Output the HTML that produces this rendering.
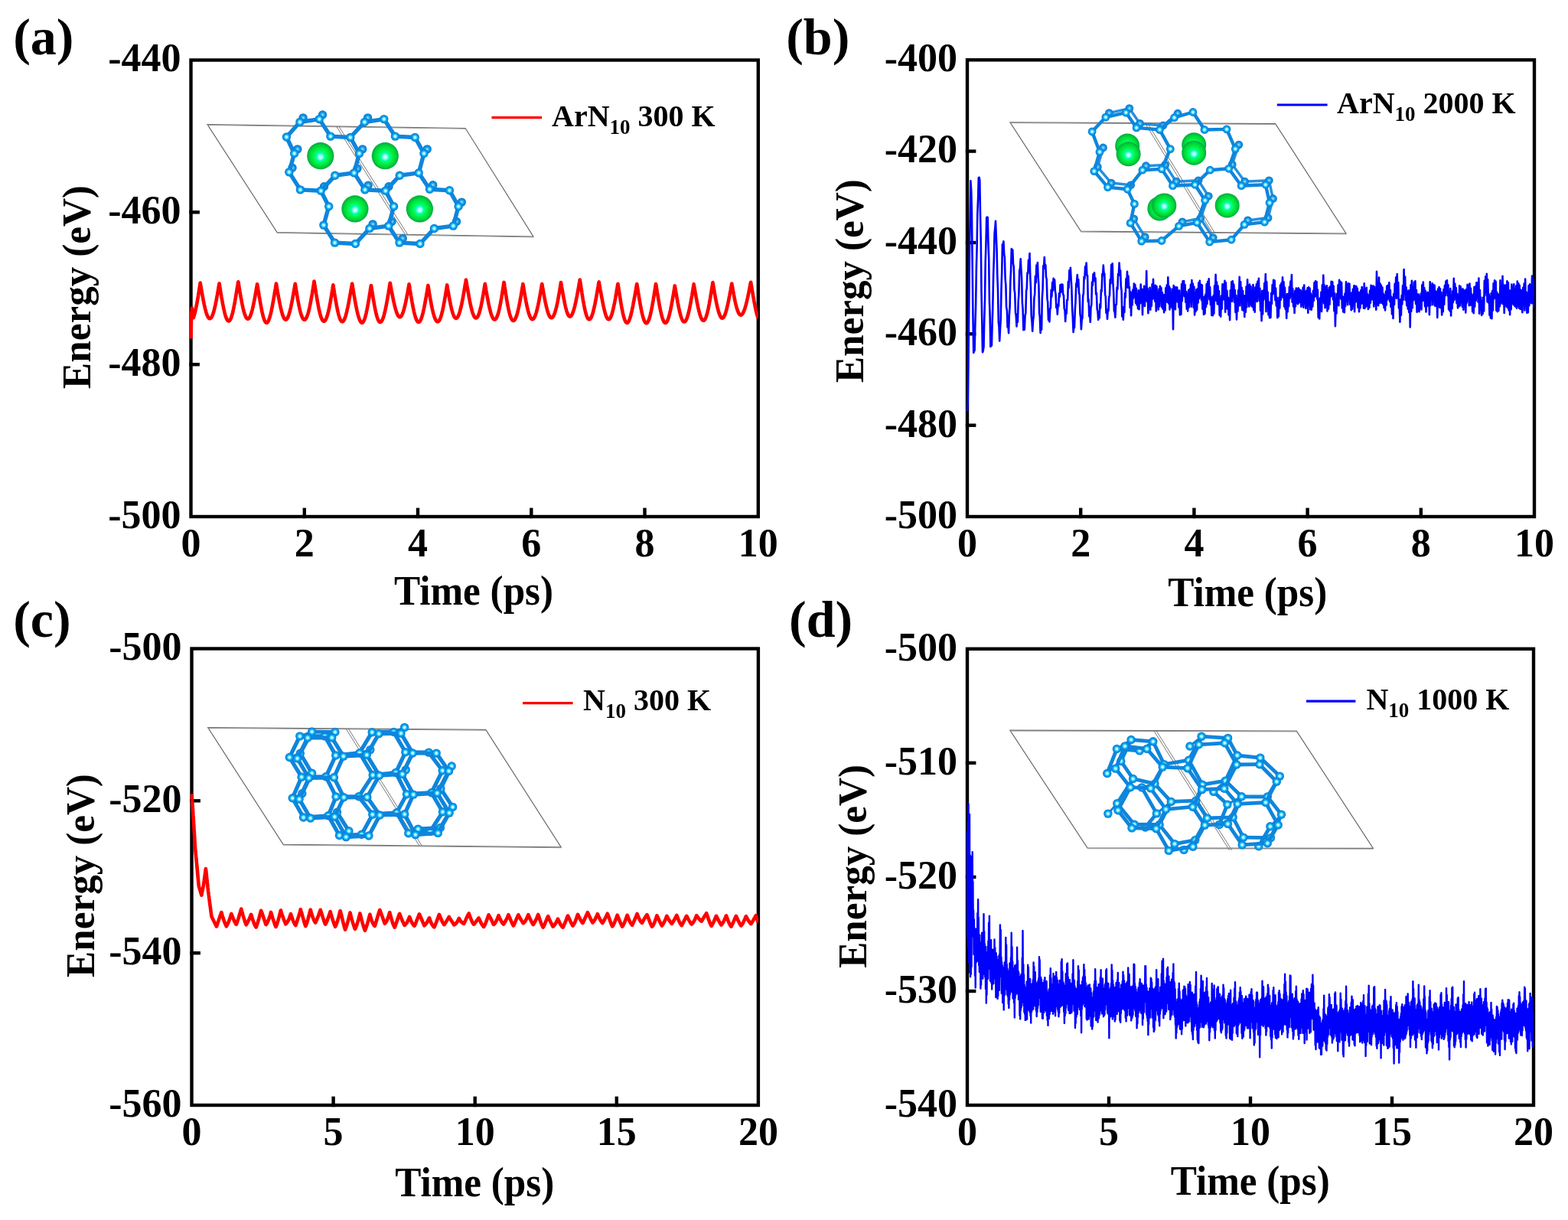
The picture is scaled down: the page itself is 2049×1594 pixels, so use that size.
<!DOCTYPE html>
<html><head><meta charset="utf-8"><title>Energy vs Time</title>
<style>html,body{margin:0;padding:0;background:#fff;}svg{display:block;}</style>
</head><body>
<svg xmlns="http://www.w3.org/2000/svg" width="2049" height="1594" viewBox="0 0 2049 1594"><defs>
<radialGradient id="gAt" cx="0.5" cy="0.5" r="0.5" fx="0.5" fy="0.5">
  <stop offset="0" stop-color="#e8ffff"/>
  <stop offset="0.28" stop-color="#a0f4ff"/>
  <stop offset="0.5" stop-color="#10b8f8"/>
  <stop offset="0.8" stop-color="#0a8ae0"/>
  <stop offset="1" stop-color="#0a78cc"/>
</radialGradient>
<radialGradient id="gAt2" cx="0.5" cy="0.5" r="0.5">
  <stop offset="0" stop-color="#b0f0ff"/>
  <stop offset="0.3" stop-color="#40b8f0"/>
  <stop offset="0.6" stop-color="#1090e0"/>
  <stop offset="1" stop-color="#0a78cc"/>
</radialGradient>
<radialGradient id="gAr" cx="0.5" cy="0.5" r="0.5" fx="0.5" fy="0.55">
  <stop offset="0" stop-color="#c8ffff"/>
  <stop offset="0.14" stop-color="#a0fff0"/>
  <stop offset="0.3" stop-color="#00ffb0"/>
  <stop offset="0.5" stop-color="#00f848"/>
  <stop offset="0.78" stop-color="#00d838"/>
  <stop offset="1" stop-color="#00a840"/>
</radialGradient>
</defs>
<polygon points="271,162.6 608.1,167.5 697,309.1 362.1,303.6" fill="none" stroke="#6a6a6a" stroke-width="1.2"/><line x1="271" y1="163.4" x2="608.1" y2="168.3" stroke="#999" stroke-width="1"/><line x1="362.1" y1="304.40000000000003" x2="697" y2="309.90000000000003" stroke="#999" stroke-width="1"/><line x1="439.5" y1="165.0" x2="529.5" y2="306.4" stroke="#777" stroke-width="1"/><line x1="442.7" y1="165.0" x2="532.7" y2="306.4" stroke="#777" stroke-width="1"/><circle cx="396.1" cy="153.9" r="5.7" fill="url(#gAt2)"/><circle cx="421.5" cy="150.0" r="5.7" fill="url(#gAt2)"/><circle cx="473.7" cy="194.9" r="5.7" fill="url(#gAt2)"/><circle cx="466.9" cy="220.3" r="5.7" fill="url(#gAt2)"/><circle cx="423.5" cy="243.7" r="5.7" fill="url(#gAt2)"/><circle cx="382.0" cy="219.3" r="5.7" fill="url(#gAt2)"/><circle cx="388.8" cy="194.9" r="5.7" fill="url(#gAt2)"/><circle cx="480.6" cy="153.9" r="5.7" fill="url(#gAt2)"/><circle cx="558.2" cy="194.9" r="5.7" fill="url(#gAt2)"/><circle cx="508.0" cy="243.7" r="5.7" fill="url(#gAt2)"/><circle cx="481.1" cy="242.3" r="5.7" fill="url(#gAt2)"/><circle cx="512.0" cy="289.5" r="5.7" fill="url(#gAt2)"/><circle cx="487.1" cy="292.9" r="5.7" fill="url(#gAt2)"/><circle cx="565.7" cy="241.7" r="5.7" fill="url(#gAt2)"/><circle cx="603.3" cy="264.1" r="5.7" fill="url(#gAt2)"/><circle cx="596.5" cy="289.5" r="5.7" fill="url(#gAt2)"/><circle cx="526.2" cy="311.5" r="5.7" fill="url(#gAt2)"/><g stroke="#0f85dc" stroke-width="5.4" stroke-linecap="round"><line x1="391.9" y1="159.5" x2="417.3" y2="155.6"/><line x1="391.9" y1="159.5" x2="374.4" y2="179.0"/><line x1="417.3" y1="155.6" x2="431.9" y2="178.1"/><line x1="431.9" y1="178.1" x2="457.8" y2="179.5"/><line x1="457.8" y1="179.5" x2="469.5" y2="200.5"/><line x1="457.8" y1="179.5" x2="476.4" y2="159.5"/><line x1="469.5" y1="200.5" x2="462.7" y2="225.9"/><line x1="462.7" y1="225.9" x2="437.8" y2="229.3"/><line x1="462.7" y1="225.9" x2="476.9" y2="247.9"/><line x1="437.8" y1="229.3" x2="419.3" y2="249.3"/><line x1="419.3" y1="249.3" x2="392.4" y2="247.9"/><line x1="419.3" y1="249.3" x2="429.7" y2="269.7"/><line x1="392.4" y1="247.9" x2="377.8" y2="224.9"/><line x1="377.8" y1="224.9" x2="384.6" y2="200.5"/><line x1="384.6" y1="200.5" x2="374.4" y2="179.0"/><line x1="476.4" y1="159.5" x2="501.8" y2="155.6"/><line x1="501.8" y1="155.6" x2="516.4" y2="178.1"/><line x1="516.4" y1="178.1" x2="542.3" y2="179.5"/><line x1="542.3" y1="179.5" x2="554.0" y2="200.5"/><line x1="554.0" y1="200.5" x2="547.2" y2="225.9"/><line x1="547.2" y1="225.9" x2="522.3" y2="229.3"/><line x1="547.2" y1="225.9" x2="561.5" y2="247.3"/><line x1="522.3" y1="229.3" x2="503.8" y2="249.3"/><line x1="503.8" y1="249.3" x2="476.9" y2="247.9"/><line x1="503.8" y1="249.3" x2="514.6" y2="269.7"/><line x1="514.6" y1="269.7" x2="507.8" y2="295.1"/><line x1="507.8" y1="295.1" x2="482.9" y2="298.5"/><line x1="507.8" y1="295.1" x2="522.0" y2="317.1"/><line x1="482.9" y1="298.5" x2="464.4" y2="318.5"/><line x1="464.4" y1="318.5" x2="437.5" y2="317.1"/><line x1="437.5" y1="317.1" x2="422.9" y2="294.1"/><line x1="422.9" y1="294.1" x2="429.7" y2="269.7"/><line x1="561.5" y1="247.3" x2="587.4" y2="248.7"/><line x1="587.4" y1="248.7" x2="599.1" y2="269.7"/><line x1="599.1" y1="269.7" x2="592.3" y2="295.1"/><line x1="592.3" y1="295.1" x2="567.4" y2="298.5"/><line x1="567.4" y1="298.5" x2="548.9" y2="318.5"/><line x1="548.9" y1="318.5" x2="522.0" y2="317.1"/></g><circle cx="391.9" cy="159.5" r="5.7" fill="url(#gAt)"/><circle cx="417.3" cy="155.6" r="5.7" fill="url(#gAt)"/><circle cx="431.9" cy="178.1" r="5.7" fill="url(#gAt)"/><circle cx="457.8" cy="179.5" r="5.7" fill="url(#gAt)"/><circle cx="469.5" cy="200.5" r="5.7" fill="url(#gAt)"/><circle cx="462.7" cy="225.9" r="5.7" fill="url(#gAt)"/><circle cx="437.8" cy="229.3" r="5.7" fill="url(#gAt)"/><circle cx="419.3" cy="249.3" r="5.7" fill="url(#gAt)"/><circle cx="392.4" cy="247.9" r="5.7" fill="url(#gAt)"/><circle cx="377.8" cy="224.9" r="5.7" fill="url(#gAt)"/><circle cx="384.6" cy="200.5" r="5.7" fill="url(#gAt)"/><circle cx="374.4" cy="179.0" r="5.7" fill="url(#gAt)"/><circle cx="476.4" cy="159.5" r="5.7" fill="url(#gAt)"/><circle cx="501.8" cy="155.6" r="5.7" fill="url(#gAt)"/><circle cx="516.4" cy="178.1" r="5.7" fill="url(#gAt)"/><circle cx="542.3" cy="179.5" r="5.7" fill="url(#gAt)"/><circle cx="554.0" cy="200.5" r="5.7" fill="url(#gAt)"/><circle cx="547.2" cy="225.9" r="5.7" fill="url(#gAt)"/><circle cx="522.3" cy="229.3" r="5.7" fill="url(#gAt)"/><circle cx="503.8" cy="249.3" r="5.7" fill="url(#gAt)"/><circle cx="476.9" cy="247.9" r="5.7" fill="url(#gAt)"/><circle cx="514.6" cy="269.7" r="5.7" fill="url(#gAt)"/><circle cx="507.8" cy="295.1" r="5.7" fill="url(#gAt)"/><circle cx="482.9" cy="298.5" r="5.7" fill="url(#gAt)"/><circle cx="464.4" cy="318.5" r="5.7" fill="url(#gAt)"/><circle cx="437.5" cy="317.1" r="5.7" fill="url(#gAt)"/><circle cx="422.9" cy="294.1" r="5.7" fill="url(#gAt)"/><circle cx="429.7" cy="269.7" r="5.7" fill="url(#gAt)"/><circle cx="561.5" cy="247.3" r="5.7" fill="url(#gAt)"/><circle cx="587.4" cy="248.7" r="5.7" fill="url(#gAt)"/><circle cx="599.1" cy="269.7" r="5.7" fill="url(#gAt)"/><circle cx="592.3" cy="295.1" r="5.7" fill="url(#gAt)"/><circle cx="567.4" cy="298.5" r="5.7" fill="url(#gAt)"/><circle cx="548.9" cy="318.5" r="5.7" fill="url(#gAt)"/><circle cx="522.0" cy="317.1" r="5.7" fill="url(#gAt)"/><circle cx="418.8" cy="203.7" r="17.6" fill="url(#gAr)"/><circle cx="503.3" cy="203.7" r="17.6" fill="url(#gAr)"/><circle cx="463.9" cy="272.9" r="17.6" fill="url(#gAr)"/><circle cx="548.4" cy="272.9" r="17.6" fill="url(#gAr)"/>
<polygon points="1319.9,159.8 1666.6,161.7 1759.1,305.1 1412.4,302.2" fill="none" stroke="#6a6a6a" stroke-width="1.2"/><line x1="1319.9" y1="160.60000000000002" x2="1666.6" y2="162.5" stroke="#999" stroke-width="1"/><line x1="1412.4" y1="303.0" x2="1759.1" y2="305.90000000000003" stroke="#999" stroke-width="1"/><line x1="1497" y1="162.0" x2="1584.6" y2="305.0" stroke="#777" stroke-width="1"/><line x1="1500.2" y1="162.0" x2="1587.8" y2="305.0" stroke="#777" stroke-width="1"/><g stroke="#0f85dc" stroke-width="3.5" stroke-linecap="round" opacity="0.9"><line x1="1449.4" y1="147.6" x2="1475.8" y2="141.6"/><line x1="1475.8" y1="141.6" x2="1489.6" y2="161.4"/><line x1="1489.6" y1="161.4" x2="1519.9" y2="164.0"/><line x1="1519.9" y1="164.0" x2="1539.0" y2="148.2"/><line x1="1522.6" y1="215.4" x2="1497.5" y2="216.7"/><line x1="1522.6" y1="215.4" x2="1537.0" y2="237.2"/><line x1="1497.5" y1="216.7" x2="1477.7" y2="241.8"/><line x1="1477.7" y1="241.8" x2="1452.1" y2="239.1"/><line x1="1452.1" y1="239.1" x2="1434.3" y2="218.1"/><line x1="1434.3" y1="218.1" x2="1441.5" y2="193.0"/><line x1="1618.8" y1="189.1" x2="1610.2" y2="214.8"/><line x1="1610.2" y1="214.8" x2="1626.6" y2="237.2"/><line x1="1566.0" y1="235.8" x2="1537.0" y2="237.2"/><line x1="1566.0" y1="235.8" x2="1579.2" y2="256.3"/><line x1="1579.2" y1="256.3" x2="1568.7" y2="285.3"/><line x1="1568.7" y1="285.3" x2="1545.0" y2="289.9"/><line x1="1568.7" y1="285.3" x2="1585.2" y2="310.6"/><line x1="1496.2" y1="309.6" x2="1481.7" y2="285.9"/><line x1="1626.6" y1="237.2" x2="1658.3" y2="235.8"/><line x1="1658.3" y1="235.8" x2="1663.5" y2="259.5"/><line x1="1663.5" y1="259.5" x2="1657.0" y2="284.6"/><line x1="1657.0" y1="284.6" x2="1630.6" y2="287.9"/></g><circle cx="1449.4" cy="147.6" r="5.4" fill="url(#gAt2)"/><circle cx="1475.8" cy="141.6" r="5.4" fill="url(#gAt2)"/><circle cx="1489.6" cy="161.4" r="5.4" fill="url(#gAt2)"/><circle cx="1519.9" cy="164.0" r="5.4" fill="url(#gAt2)"/><circle cx="1522.6" cy="215.4" r="5.4" fill="url(#gAt2)"/><circle cx="1497.5" cy="216.7" r="5.4" fill="url(#gAt2)"/><circle cx="1477.7" cy="241.8" r="5.4" fill="url(#gAt2)"/><circle cx="1452.1" cy="239.1" r="5.4" fill="url(#gAt2)"/><circle cx="1434.3" cy="218.1" r="5.4" fill="url(#gAt2)"/><circle cx="1441.5" cy="193.0" r="5.4" fill="url(#gAt2)"/><circle cx="1539.0" cy="148.2" r="5.4" fill="url(#gAt2)"/><circle cx="1618.8" cy="189.1" r="5.4" fill="url(#gAt2)"/><circle cx="1610.2" cy="214.8" r="5.4" fill="url(#gAt2)"/><circle cx="1566.0" cy="235.8" r="5.4" fill="url(#gAt2)"/><circle cx="1537.0" cy="237.2" r="5.4" fill="url(#gAt2)"/><circle cx="1579.2" cy="256.3" r="5.4" fill="url(#gAt2)"/><circle cx="1568.7" cy="285.3" r="5.4" fill="url(#gAt2)"/><circle cx="1545.0" cy="289.9" r="5.4" fill="url(#gAt2)"/><circle cx="1496.2" cy="309.6" r="5.4" fill="url(#gAt2)"/><circle cx="1481.7" cy="285.9" r="5.4" fill="url(#gAt2)"/><circle cx="1626.6" cy="237.2" r="5.4" fill="url(#gAt2)"/><circle cx="1658.3" cy="235.8" r="5.4" fill="url(#gAt2)"/><circle cx="1663.5" cy="259.5" r="5.4" fill="url(#gAt2)"/><circle cx="1657.0" cy="284.6" r="5.4" fill="url(#gAt2)"/><circle cx="1630.6" cy="287.9" r="5.4" fill="url(#gAt2)"/><circle cx="1585.2" cy="310.6" r="5.4" fill="url(#gAt2)"/><g stroke="#0f85dc" stroke-width="4.4" stroke-linecap="round"><line x1="1444.9" y1="153.1" x2="1471.3" y2="147.1"/><line x1="1444.9" y1="153.1" x2="1427.1" y2="172.0"/><line x1="1471.3" y1="147.1" x2="1485.1" y2="166.9"/><line x1="1485.1" y1="166.9" x2="1515.4" y2="169.5"/><line x1="1515.4" y1="169.5" x2="1529.3" y2="194.6"/><line x1="1515.4" y1="169.5" x2="1534.5" y2="153.7"/><line x1="1529.3" y1="194.6" x2="1518.1" y2="220.9"/><line x1="1518.1" y1="220.9" x2="1493.0" y2="222.2"/><line x1="1518.1" y1="220.9" x2="1532.5" y2="242.7"/><line x1="1493.0" y1="222.2" x2="1473.2" y2="247.3"/><line x1="1473.2" y1="247.3" x2="1447.6" y2="244.6"/><line x1="1473.2" y1="247.3" x2="1482.4" y2="266.4"/><line x1="1447.6" y1="244.6" x2="1429.8" y2="223.6"/><line x1="1429.8" y1="223.6" x2="1437.0" y2="198.5"/><line x1="1437.0" y1="198.5" x2="1427.1" y2="172.0"/><line x1="1534.5" y1="153.7" x2="1558.9" y2="146.5"/><line x1="1558.9" y1="146.5" x2="1574.0" y2="169.5"/><line x1="1574.0" y1="169.5" x2="1603.0" y2="168.9"/><line x1="1603.0" y1="168.9" x2="1614.3" y2="194.6"/><line x1="1614.3" y1="194.6" x2="1605.7" y2="220.3"/><line x1="1605.7" y1="220.3" x2="1581.3" y2="222.2"/><line x1="1605.7" y1="220.3" x2="1622.1" y2="242.7"/><line x1="1581.3" y1="222.2" x2="1561.5" y2="241.3"/><line x1="1561.5" y1="241.3" x2="1532.5" y2="242.7"/><line x1="1561.5" y1="241.3" x2="1574.7" y2="261.8"/><line x1="1574.7" y1="261.8" x2="1564.2" y2="290.8"/><line x1="1564.2" y1="290.8" x2="1540.5" y2="295.4"/><line x1="1564.2" y1="290.8" x2="1580.7" y2="316.1"/><line x1="1540.5" y1="295.4" x2="1518.0" y2="314.5"/><line x1="1518.0" y1="314.5" x2="1491.7" y2="315.1"/><line x1="1491.7" y1="315.1" x2="1477.2" y2="291.4"/><line x1="1477.2" y1="291.4" x2="1482.4" y2="266.4"/><line x1="1622.1" y1="242.7" x2="1653.8" y2="241.3"/><line x1="1653.8" y1="241.3" x2="1659.0" y2="265.0"/><line x1="1659.0" y1="265.0" x2="1652.5" y2="290.1"/><line x1="1652.5" y1="290.1" x2="1626.1" y2="293.4"/><line x1="1626.1" y1="293.4" x2="1609.0" y2="313.2"/><line x1="1609.0" y1="313.2" x2="1580.7" y2="316.1"/></g><circle cx="1444.9" cy="153.1" r="5.4" fill="url(#gAt)"/><circle cx="1471.3" cy="147.1" r="5.4" fill="url(#gAt)"/><circle cx="1485.1" cy="166.9" r="5.4" fill="url(#gAt)"/><circle cx="1515.4" cy="169.5" r="5.4" fill="url(#gAt)"/><circle cx="1529.3" cy="194.6" r="5.4" fill="url(#gAt)"/><circle cx="1518.1" cy="220.9" r="5.4" fill="url(#gAt)"/><circle cx="1493.0" cy="222.2" r="5.4" fill="url(#gAt)"/><circle cx="1473.2" cy="247.3" r="5.4" fill="url(#gAt)"/><circle cx="1447.6" cy="244.6" r="5.4" fill="url(#gAt)"/><circle cx="1429.8" cy="223.6" r="5.4" fill="url(#gAt)"/><circle cx="1437.0" cy="198.5" r="5.4" fill="url(#gAt)"/><circle cx="1427.1" cy="172.0" r="5.4" fill="url(#gAt)"/><circle cx="1534.5" cy="153.7" r="5.4" fill="url(#gAt)"/><circle cx="1558.9" cy="146.5" r="5.4" fill="url(#gAt)"/><circle cx="1574.0" cy="169.5" r="5.4" fill="url(#gAt)"/><circle cx="1603.0" cy="168.9" r="5.4" fill="url(#gAt)"/><circle cx="1614.3" cy="194.6" r="5.4" fill="url(#gAt)"/><circle cx="1605.7" cy="220.3" r="5.4" fill="url(#gAt)"/><circle cx="1581.3" cy="222.2" r="5.4" fill="url(#gAt)"/><circle cx="1561.5" cy="241.3" r="5.4" fill="url(#gAt)"/><circle cx="1532.5" cy="242.7" r="5.4" fill="url(#gAt)"/><circle cx="1574.7" cy="261.8" r="5.4" fill="url(#gAt)"/><circle cx="1564.2" cy="290.8" r="5.4" fill="url(#gAt)"/><circle cx="1540.5" cy="295.4" r="5.4" fill="url(#gAt)"/><circle cx="1518.0" cy="314.5" r="5.4" fill="url(#gAt)"/><circle cx="1491.7" cy="315.1" r="5.4" fill="url(#gAt)"/><circle cx="1477.2" cy="291.4" r="5.4" fill="url(#gAt)"/><circle cx="1482.4" cy="266.4" r="5.4" fill="url(#gAt)"/><circle cx="1622.1" cy="242.7" r="5.4" fill="url(#gAt)"/><circle cx="1653.8" cy="241.3" r="5.4" fill="url(#gAt)"/><circle cx="1659.0" cy="265.0" r="5.4" fill="url(#gAt)"/><circle cx="1652.5" cy="290.1" r="5.4" fill="url(#gAt)"/><circle cx="1626.1" cy="293.4" r="5.4" fill="url(#gAt)"/><circle cx="1609.0" cy="313.2" r="5.4" fill="url(#gAt)"/><circle cx="1580.7" cy="316.1" r="5.4" fill="url(#gAt)"/><circle cx="1473.2" cy="190.6" r="16.0" fill="url(#gAr)"/><circle cx="1474.6" cy="201.2" r="16.0" fill="url(#gAr)"/><circle cx="1560.2" cy="189.3" r="16.0" fill="url(#gAr)"/><circle cx="1560.2" cy="199.8" r="16.0" fill="url(#gAr)"/><circle cx="1515.4" cy="272.4" r="16.0" fill="url(#gAr)"/><circle cx="1521.3" cy="268.4" r="16.0" fill="url(#gAr)"/><circle cx="1603.7" cy="268.4" r="16.0" fill="url(#gAr)"/>
<polygon points="271.7,950.6 634.8,953.4 733.2,1106.9 370.1,1103.3" fill="none" stroke="#6a6a6a" stroke-width="1.2"/><line x1="271.7" y1="951.4" x2="634.8" y2="954.1999999999999" stroke="#999" stroke-width="1"/><line x1="370.1" y1="1104.1" x2="733.2" y2="1107.7" stroke="#999" stroke-width="1"/><line x1="452" y1="952" x2="548" y2="1105" stroke="#777" stroke-width="1"/><line x1="455.2" y1="952" x2="551.2" y2="1105" stroke="#777" stroke-width="1"/><g stroke="#0f85dc" stroke-width="5.2" stroke-linecap="round"><line x1="438.7" y1="987.0" x2="425.9" y2="1014.8"/><line x1="438.7" y1="987.0" x2="424.5" y2="961.9"/><line x1="438.7" y1="987.0" x2="469.9" y2="983.7"/><line x1="425.9" y1="1014.8" x2="394.1" y2="1015.2"/><line x1="425.9" y1="1014.8" x2="439.1" y2="1040.9"/><line x1="394.1" y1="1015.2" x2="378.3" y2="989.5"/><line x1="394.1" y1="1015.2" x2="382.2" y2="1042.8"/><line x1="378.3" y1="989.5" x2="391.8" y2="961.9"/><line x1="391.8" y1="961.9" x2="424.5" y2="961.9"/><line x1="487.2" y1="1012.7" x2="468.8" y2="1040.8"/><line x1="487.2" y1="1012.7" x2="469.9" y2="983.7"/><line x1="487.2" y1="1012.7" x2="517.2" y2="1009.5"/><line x1="468.8" y1="1040.8" x2="439.1" y2="1040.9"/><line x1="468.8" y1="1040.8" x2="486.8" y2="1064.2"/><line x1="439.1" y1="1040.9" x2="429.0" y2="1065.8"/><line x1="469.9" y1="983.7" x2="486.2" y2="956.7"/><line x1="529.8" y1="982.8" x2="517.2" y2="1009.5"/><line x1="529.8" y1="982.8" x2="514.4" y2="956.4"/><line x1="529.8" y1="982.8" x2="560.3" y2="983.1"/><line x1="517.2" y1="1009.5" x2="531.5" y2="1037.7"/><line x1="486.2" y1="956.7" x2="514.4" y2="956.4"/><line x1="578.2" y1="1006.8" x2="563.8" y2="1035.7"/><line x1="578.2" y1="1006.8" x2="560.3" y2="983.1"/><line x1="563.8" y1="1035.7" x2="531.5" y2="1037.7"/><line x1="563.8" y1="1035.7" x2="578.5" y2="1060.8"/><line x1="531.5" y1="1037.7" x2="518.3" y2="1061.8"/><line x1="429.0" y1="1065.8" x2="396.5" y2="1068.0"/><line x1="429.0" y1="1065.8" x2="443.5" y2="1091.5"/><line x1="396.5" y1="1068.0" x2="382.2" y2="1042.8"/><line x1="486.8" y1="1064.2" x2="472.6" y2="1090.3"/><line x1="486.8" y1="1064.2" x2="518.3" y2="1061.8"/><line x1="472.6" y1="1090.3" x2="443.5" y2="1091.5"/><line x1="518.3" y1="1061.8" x2="533.8" y2="1088.7"/><line x1="578.5" y1="1060.8" x2="562.1" y2="1086.5"/><line x1="562.1" y1="1086.5" x2="533.8" y2="1088.7"/><line x1="394.1" y1="1015.2" x2="407.6" y2="1010.3" stroke-width="3.1"/><line x1="378.3" y1="989.5" x2="392.3" y2="984.2" stroke-width="3.1"/><line x1="391.8" y1="961.9" x2="407.6" y2="956.0" stroke-width="3.1"/><line x1="424.5" y1="961.9" x2="437.9" y2="956.5" stroke-width="3.1"/><line x1="469.9" y1="983.7" x2="483.8" y2="979.6" stroke-width="3.1"/><line x1="517.2" y1="1009.5" x2="530.2" y2="1005.9" stroke-width="3.1"/><line x1="514.4" y1="956.4" x2="528.6" y2="950.4" stroke-width="3.1"/><line x1="578.2" y1="1006.8" x2="590.2" y2="1001.0" stroke-width="3.1"/><line x1="563.8" y1="1035.7" x2="575.8" y2="1030.4" stroke-width="3.1"/><line x1="429.0" y1="1065.8" x2="440.5" y2="1061.3" stroke-width="3.1"/><line x1="382.2" y1="1042.8" x2="394.8" y2="1036.7" stroke-width="3.1"/><line x1="443.5" y1="1091.5" x2="455.9" y2="1085.8" stroke-width="3.1"/><line x1="578.5" y1="1060.8" x2="591.6" y2="1054.4" stroke-width="3.1"/><line x1="562.1" y1="1086.5" x2="575.4" y2="1081.5" stroke-width="3.1"/><line x1="533.8" y1="1088.7" x2="546.3" y2="1083.1" stroke-width="3.1"/></g><circle cx="438.7" cy="987.0" r="5.7" fill="url(#gAt)"/><circle cx="425.9" cy="1014.8" r="5.7" fill="url(#gAt)"/><circle cx="394.1" cy="1015.2" r="5.7" fill="url(#gAt)"/><circle cx="378.3" cy="989.5" r="5.7" fill="url(#gAt)"/><circle cx="391.8" cy="961.9" r="5.7" fill="url(#gAt)"/><circle cx="424.5" cy="961.9" r="5.7" fill="url(#gAt)"/><circle cx="487.2" cy="1012.7" r="5.7" fill="url(#gAt)"/><circle cx="468.8" cy="1040.8" r="5.7" fill="url(#gAt)"/><circle cx="439.1" cy="1040.9" r="5.7" fill="url(#gAt)"/><circle cx="469.9" cy="983.7" r="5.7" fill="url(#gAt)"/><circle cx="529.8" cy="982.8" r="5.7" fill="url(#gAt)"/><circle cx="517.2" cy="1009.5" r="5.7" fill="url(#gAt)"/><circle cx="486.2" cy="956.7" r="5.7" fill="url(#gAt)"/><circle cx="514.4" cy="956.4" r="5.7" fill="url(#gAt)"/><circle cx="578.2" cy="1006.8" r="5.7" fill="url(#gAt)"/><circle cx="563.8" cy="1035.7" r="5.7" fill="url(#gAt)"/><circle cx="531.5" cy="1037.7" r="5.7" fill="url(#gAt)"/><circle cx="560.3" cy="983.1" r="5.7" fill="url(#gAt)"/><circle cx="429.0" cy="1065.8" r="5.7" fill="url(#gAt)"/><circle cx="396.5" cy="1068.0" r="5.7" fill="url(#gAt)"/><circle cx="382.2" cy="1042.8" r="5.7" fill="url(#gAt)"/><circle cx="486.8" cy="1064.2" r="5.7" fill="url(#gAt)"/><circle cx="472.6" cy="1090.3" r="5.7" fill="url(#gAt)"/><circle cx="443.5" cy="1091.5" r="5.7" fill="url(#gAt)"/><circle cx="518.3" cy="1061.8" r="5.7" fill="url(#gAt)"/><circle cx="578.5" cy="1060.8" r="5.7" fill="url(#gAt)"/><circle cx="562.1" cy="1086.5" r="5.7" fill="url(#gAt)"/><circle cx="533.8" cy="1088.7" r="5.7" fill="url(#gAt)"/><g stroke="#0f85dc" stroke-width="5.2" stroke-linecap="round"><line x1="407.6" y1="1010.3" x2="392.3" y2="984.2"/><line x1="407.6" y1="1010.3" x2="394.8" y2="1036.7"/><line x1="392.3" y1="984.2" x2="407.6" y2="956.0"/><line x1="407.6" y1="956.0" x2="437.9" y2="956.5"/><line x1="590.2" y1="1001.0" x2="575.8" y2="1030.4"/><line x1="575.8" y1="1030.4" x2="591.6" y2="1054.4"/><line x1="440.5" y1="1061.3" x2="455.9" y2="1085.8"/><line x1="591.6" y1="1054.4" x2="575.4" y2="1081.5"/><line x1="575.4" y1="1081.5" x2="546.3" y2="1083.1"/><line x1="407.6" y1="1010.3" x2="403.6" y2="1016.5" stroke-width="3.1"/><line x1="392.3" y1="984.2" x2="388.5" y2="990.9" stroke-width="3.1"/><line x1="407.6" y1="956.0" x2="402.1" y2="964.0" stroke-width="3.1"/><line x1="437.9" y1="956.5" x2="433.7" y2="963.8" stroke-width="3.1"/><line x1="483.8" y1="979.6" x2="479.3" y2="986.3" stroke-width="3.1"/><line x1="530.2" y1="1005.9" x2="525.8" y2="1011.4" stroke-width="3.1"/><line x1="528.6" y1="950.4" x2="524.0" y2="958.1" stroke-width="3.1"/><line x1="590.2" y1="1001.0" x2="586.5" y2="1007.4" stroke-width="3.1"/><line x1="575.8" y1="1030.4" x2="571.3" y2="1036.2" stroke-width="3.1"/><line x1="440.5" y1="1061.3" x2="437.3" y2="1067.1" stroke-width="3.1"/><line x1="394.8" y1="1036.7" x2="391.1" y2="1044.1" stroke-width="3.1"/><line x1="455.9" y1="1085.8" x2="452.2" y2="1093.6" stroke-width="3.1"/><line x1="591.6" y1="1054.4" x2="587.1" y2="1062.1" stroke-width="3.1"/><line x1="575.4" y1="1081.5" x2="572.3" y2="1088.4" stroke-width="3.1"/><line x1="546.3" y1="1083.1" x2="542.9" y2="1090.6" stroke-width="3.1"/></g><circle cx="407.6" cy="1010.3" r="5.7" fill="url(#gAt)"/><circle cx="392.3" cy="984.2" r="5.7" fill="url(#gAt)"/><circle cx="407.6" cy="956.0" r="5.7" fill="url(#gAt)"/><circle cx="437.9" cy="956.5" r="5.7" fill="url(#gAt)"/><circle cx="483.8" cy="979.6" r="5.7" fill="url(#gAt)"/><circle cx="530.2" cy="1005.9" r="5.7" fill="url(#gAt)"/><circle cx="528.6" cy="950.4" r="5.7" fill="url(#gAt)"/><circle cx="590.2" cy="1001.0" r="5.7" fill="url(#gAt)"/><circle cx="575.8" cy="1030.4" r="5.7" fill="url(#gAt)"/><circle cx="440.5" cy="1061.3" r="5.7" fill="url(#gAt)"/><circle cx="394.8" cy="1036.7" r="5.7" fill="url(#gAt)"/><circle cx="455.9" cy="1085.8" r="5.7" fill="url(#gAt)"/><circle cx="591.6" cy="1054.4" r="5.7" fill="url(#gAt)"/><circle cx="575.4" cy="1081.5" r="5.7" fill="url(#gAt)"/><circle cx="546.3" cy="1083.1" r="5.7" fill="url(#gAt)"/><g stroke="#0f85dc" stroke-width="5.2" stroke-linecap="round"><line x1="448.8" y1="988.1" x2="436.4" y2="1015.8"/><line x1="448.8" y1="988.1" x2="433.7" y2="963.8"/><line x1="448.8" y1="988.1" x2="479.3" y2="986.3"/><line x1="436.4" y1="1015.8" x2="403.6" y2="1016.5"/><line x1="436.4" y1="1015.8" x2="449.3" y2="1041.8"/><line x1="403.6" y1="1016.5" x2="388.5" y2="990.9"/><line x1="403.6" y1="1016.5" x2="391.1" y2="1044.1"/><line x1="388.5" y1="990.9" x2="402.1" y2="964.0"/><line x1="402.1" y1="964.0" x2="433.7" y2="963.8"/><line x1="495.6" y1="1013.2" x2="479.8" y2="1041.5"/><line x1="495.6" y1="1013.2" x2="479.3" y2="986.3"/><line x1="495.6" y1="1013.2" x2="525.8" y2="1011.4"/><line x1="479.8" y1="1041.5" x2="449.3" y2="1041.8"/><line x1="479.8" y1="1041.5" x2="496.3" y2="1065.0"/><line x1="449.3" y1="1041.8" x2="437.3" y2="1067.1"/><line x1="479.3" y1="986.3" x2="495.1" y2="958.6"/><line x1="539.3" y1="984.0" x2="525.8" y2="1011.4"/><line x1="539.3" y1="984.0" x2="524.0" y2="958.1"/><line x1="539.3" y1="984.0" x2="570.2" y2="984.1"/><line x1="525.8" y1="1011.4" x2="540.2" y2="1038.1"/><line x1="495.1" y1="958.6" x2="524.0" y2="958.1"/><line x1="586.5" y1="1007.4" x2="571.3" y2="1036.2"/><line x1="586.5" y1="1007.4" x2="570.2" y2="984.1"/><line x1="571.3" y1="1036.2" x2="540.2" y2="1038.1"/><line x1="571.3" y1="1036.2" x2="587.1" y2="1062.1"/><line x1="540.2" y1="1038.1" x2="528.7" y2="1063.8"/><line x1="437.3" y1="1067.1" x2="405.7" y2="1069.0"/><line x1="437.3" y1="1067.1" x2="452.2" y2="1093.6"/><line x1="405.7" y1="1069.0" x2="391.1" y2="1044.1"/><line x1="496.3" y1="1065.0" x2="481.9" y2="1092.0"/><line x1="496.3" y1="1065.0" x2="528.7" y2="1063.8"/><line x1="481.9" y1="1092.0" x2="452.2" y2="1093.6"/><line x1="528.7" y1="1063.8" x2="542.9" y2="1090.6"/><line x1="587.1" y1="1062.1" x2="572.3" y2="1088.4"/><line x1="572.3" y1="1088.4" x2="542.9" y2="1090.6"/></g><circle cx="448.8" cy="988.1" r="5.7" fill="url(#gAt)"/><circle cx="436.4" cy="1015.8" r="5.7" fill="url(#gAt)"/><circle cx="403.6" cy="1016.5" r="5.7" fill="url(#gAt)"/><circle cx="388.5" cy="990.9" r="5.7" fill="url(#gAt)"/><circle cx="402.1" cy="964.0" r="5.7" fill="url(#gAt)"/><circle cx="433.7" cy="963.8" r="5.7" fill="url(#gAt)"/><circle cx="495.6" cy="1013.2" r="5.7" fill="url(#gAt)"/><circle cx="479.8" cy="1041.5" r="5.7" fill="url(#gAt)"/><circle cx="449.3" cy="1041.8" r="5.7" fill="url(#gAt)"/><circle cx="479.3" cy="986.3" r="5.7" fill="url(#gAt)"/><circle cx="539.3" cy="984.0" r="5.7" fill="url(#gAt)"/><circle cx="525.8" cy="1011.4" r="5.7" fill="url(#gAt)"/><circle cx="495.1" cy="958.6" r="5.7" fill="url(#gAt)"/><circle cx="524.0" cy="958.1" r="5.7" fill="url(#gAt)"/><circle cx="586.5" cy="1007.4" r="5.7" fill="url(#gAt)"/><circle cx="571.3" cy="1036.2" r="5.7" fill="url(#gAt)"/><circle cx="540.2" cy="1038.1" r="5.7" fill="url(#gAt)"/><circle cx="570.2" cy="984.1" r="5.7" fill="url(#gAt)"/><circle cx="437.3" cy="1067.1" r="5.7" fill="url(#gAt)"/><circle cx="405.7" cy="1069.0" r="5.7" fill="url(#gAt)"/><circle cx="391.1" cy="1044.1" r="5.7" fill="url(#gAt)"/><circle cx="496.3" cy="1065.0" r="5.7" fill="url(#gAt)"/><circle cx="481.9" cy="1092.0" r="5.7" fill="url(#gAt)"/><circle cx="452.2" cy="1093.6" r="5.7" fill="url(#gAt)"/><circle cx="528.7" cy="1063.8" r="5.7" fill="url(#gAt)"/><circle cx="587.1" cy="1062.1" r="5.7" fill="url(#gAt)"/><circle cx="572.3" cy="1088.4" r="5.7" fill="url(#gAt)"/><circle cx="542.9" cy="1090.6" r="5.7" fill="url(#gAt)"/>
<polygon points="1319.8,954.2 1694.3,955.1 1794.4,1108.4 1421,1107.9" fill="none" stroke="#6a6a6a" stroke-width="1.2"/><line x1="1319.8" y1="955.0" x2="1694.3" y2="955.9" stroke="#999" stroke-width="1"/><line x1="1421" y1="1108.7" x2="1794.4" y2="1109.2" stroke="#999" stroke-width="1"/><line x1="1507.7" y1="954.6" x2="1606.5" y2="1110.8" stroke="#777" stroke-width="1"/><line x1="1510.9" y1="954.6" x2="1609.7" y2="1110.8" stroke="#777" stroke-width="1"/><g stroke="#0f85dc" stroke-width="4.8" stroke-linecap="round"><line x1="1492.0" y1="1028.9" x2="1511.4" y2="1062.9"/><line x1="1446.8" y1="1010.5" x2="1459.4" y2="978.5"/><line x1="1459.4" y1="978.5" x2="1489.1" y2="980.9"/><line x1="1511.4" y1="1062.9" x2="1496.7" y2="1081.0"/><line x1="1585.8" y1="1034.4" x2="1603.9" y2="1051.1"/><line x1="1603.9" y1="1051.1" x2="1593.3" y2="1077.4"/><line x1="1659.9" y1="1079.8" x2="1644.8" y2="1105.8"/><line x1="1492.0" y1="1028.9" x2="1509.0" y2="1024.1" stroke-width="2.9"/><line x1="1446.8" y1="1010.5" x2="1464.8" y2="994.5" stroke-width="2.9"/><line x1="1459.4" y1="978.5" x2="1478.1" y2="966.5" stroke-width="2.9"/><line x1="1489.1" y1="980.9" x2="1506.8" y2="968.8" stroke-width="2.9"/><line x1="1511.4" y1="1062.9" x2="1530.3" y2="1047.4" stroke-width="2.9"/><line x1="1585.8" y1="1034.4" x2="1601.4" y2="1020.1" stroke-width="2.9"/><line x1="1554.9" y1="975.0" x2="1570.1" y2="962.2" stroke-width="2.9"/><line x1="1603.9" y1="1051.1" x2="1622.5" y2="1040.8" stroke-width="2.9"/><line x1="1496.7" y1="1081.0" x2="1515.1" y2="1077.5" stroke-width="2.9"/><line x1="1447.9" y1="1063.1" x2="1459.8" y2="1049.7" stroke-width="2.9"/><line x1="1547.1" y1="1110.4" x2="1561.8" y2="1097.6" stroke-width="2.9"/><line x1="1593.3" y1="1077.4" x2="1611.1" y2="1067.8" stroke-width="2.9"/><line x1="1659.9" y1="1079.8" x2="1674.5" y2="1064.3" stroke-width="2.9"/><line x1="1644.8" y1="1105.8" x2="1660.5" y2="1094.6" stroke-width="2.9"/></g><circle cx="1492.0" cy="1028.9" r="5.7" fill="url(#gAt)"/><circle cx="1446.8" cy="1010.5" r="5.7" fill="url(#gAt)"/><circle cx="1459.4" cy="978.5" r="5.7" fill="url(#gAt)"/><circle cx="1489.1" cy="980.9" r="5.7" fill="url(#gAt)"/><circle cx="1511.4" cy="1062.9" r="5.7" fill="url(#gAt)"/><circle cx="1585.8" cy="1034.4" r="5.7" fill="url(#gAt)"/><circle cx="1554.9" cy="975.0" r="5.7" fill="url(#gAt)"/><circle cx="1603.9" cy="1051.1" r="5.7" fill="url(#gAt)"/><circle cx="1496.7" cy="1081.0" r="5.7" fill="url(#gAt)"/><circle cx="1447.9" cy="1063.1" r="5.7" fill="url(#gAt)"/><circle cx="1547.1" cy="1110.4" r="5.7" fill="url(#gAt)"/><circle cx="1593.3" cy="1077.4" r="5.7" fill="url(#gAt)"/><circle cx="1659.9" cy="1079.8" r="5.7" fill="url(#gAt)"/><circle cx="1644.8" cy="1105.8" r="5.7" fill="url(#gAt)"/><g stroke="#0f85dc" stroke-width="4.8" stroke-linecap="round"><line x1="1521.1" y1="998.6" x2="1509.0" y2="1024.1"/><line x1="1521.1" y1="998.6" x2="1506.8" y2="968.8"/><line x1="1521.1" y1="998.6" x2="1553.4" y2="993.2"/><line x1="1509.0" y1="1024.1" x2="1480.6" y2="1017.5"/><line x1="1509.0" y1="1024.1" x2="1530.3" y2="1047.4"/><line x1="1480.6" y1="1017.5" x2="1464.8" y2="994.5"/><line x1="1480.6" y1="1017.5" x2="1459.8" y2="1049.7"/><line x1="1464.8" y1="994.5" x2="1478.1" y2="966.5"/><line x1="1478.1" y1="966.5" x2="1506.8" y2="968.8"/><line x1="1571.3" y1="1025.2" x2="1562.8" y2="1046.1"/><line x1="1571.3" y1="1025.2" x2="1553.4" y2="993.2"/><line x1="1571.3" y1="1025.2" x2="1601.4" y2="1020.1"/><line x1="1562.8" y1="1046.1" x2="1530.3" y2="1047.4"/><line x1="1562.8" y1="1046.1" x2="1577.5" y2="1068.9"/><line x1="1530.3" y1="1047.4" x2="1515.1" y2="1077.5"/><line x1="1553.4" y1="993.2" x2="1570.1" y2="962.2"/><line x1="1616.8" y1="987.0" x2="1601.4" y2="1020.1"/><line x1="1616.8" y1="987.0" x2="1604.6" y2="964.4"/><line x1="1616.8" y1="987.0" x2="1646.8" y2="990.1"/><line x1="1601.4" y1="1020.1" x2="1622.5" y2="1040.8"/><line x1="1570.1" y1="962.2" x2="1604.6" y2="964.4"/><line x1="1672.3" y1="1014.1" x2="1656.3" y2="1041.0"/><line x1="1672.3" y1="1014.1" x2="1646.8" y2="990.1"/><line x1="1656.3" y1="1041.0" x2="1622.5" y2="1040.8"/><line x1="1656.3" y1="1041.0" x2="1674.5" y2="1064.3"/><line x1="1622.5" y1="1040.8" x2="1611.1" y2="1067.8"/><line x1="1515.1" y1="1077.5" x2="1482.3" y2="1077.2"/><line x1="1515.1" y1="1077.5" x2="1535.0" y2="1102.6"/><line x1="1482.3" y1="1077.2" x2="1459.8" y2="1049.7"/><line x1="1577.5" y1="1068.9" x2="1561.8" y2="1097.6"/><line x1="1577.5" y1="1068.9" x2="1611.1" y2="1067.8"/><line x1="1561.8" y1="1097.6" x2="1535.0" y2="1102.6"/><line x1="1611.1" y1="1067.8" x2="1624.8" y2="1094.1"/><line x1="1674.5" y1="1064.3" x2="1660.5" y2="1094.6"/><line x1="1660.5" y1="1094.6" x2="1624.8" y2="1094.1"/><line x1="1521.1" y1="998.6" x2="1519.2" y2="1002.1" stroke-width="2.9"/><line x1="1509.0" y1="1024.1" x2="1503.5" y2="1029.9" stroke-width="2.9"/><line x1="1480.6" y1="1017.5" x2="1477.1" y2="1028.7" stroke-width="2.9"/><line x1="1464.8" y1="994.5" x2="1457.7" y2="1004.1" stroke-width="2.9"/><line x1="1478.1" y1="966.5" x2="1470.0" y2="974.9" stroke-width="2.9"/><line x1="1506.8" y1="968.8" x2="1498.7" y2="978.4" stroke-width="2.9"/><line x1="1571.3" y1="1025.2" x2="1570.7" y2="1031.6" stroke-width="2.9"/><line x1="1562.8" y1="1046.1" x2="1558.5" y2="1054.2" stroke-width="2.9"/><line x1="1530.3" y1="1047.4" x2="1523.5" y2="1057.4" stroke-width="2.9"/><line x1="1553.4" y1="993.2" x2="1551.8" y2="1003.7" stroke-width="2.9"/><line x1="1616.8" y1="987.0" x2="1616.0" y2="999.0" stroke-width="2.9"/><line x1="1601.4" y1="1020.1" x2="1599.8" y2="1030.3" stroke-width="2.9"/><line x1="1570.1" y1="962.2" x2="1566.6" y2="972.8" stroke-width="2.9"/><line x1="1604.6" y1="964.4" x2="1600.4" y2="970.8" stroke-width="2.9"/><line x1="1672.3" y1="1014.1" x2="1668.3" y2="1021.3" stroke-width="2.9"/><line x1="1656.3" y1="1041.0" x2="1653.9" y2="1048.5" stroke-width="2.9"/><line x1="1622.5" y1="1040.8" x2="1617.1" y2="1050.4" stroke-width="2.9"/><line x1="1646.8" y1="990.1" x2="1645.9" y2="998.7" stroke-width="2.9"/><line x1="1515.1" y1="1077.5" x2="1510.8" y2="1082.6" stroke-width="2.9"/><line x1="1482.3" y1="1077.2" x2="1479.0" y2="1081.9" stroke-width="2.9"/><line x1="1459.8" y1="1049.7" x2="1460.9" y2="1058.7" stroke-width="2.9"/><line x1="1577.5" y1="1068.9" x2="1574.4" y2="1078.1" stroke-width="2.9"/><line x1="1561.8" y1="1097.6" x2="1558.9" y2="1106.2" stroke-width="2.9"/><line x1="1535.0" y1="1102.6" x2="1527.3" y2="1111.4" stroke-width="2.9"/><line x1="1611.1" y1="1067.8" x2="1604.4" y2="1076.4" stroke-width="2.9"/><line x1="1674.5" y1="1064.3" x2="1670.2" y2="1077.9" stroke-width="2.9"/><line x1="1660.5" y1="1094.6" x2="1656.3" y2="1101.7" stroke-width="2.9"/><line x1="1624.8" y1="1094.1" x2="1623.2" y2="1103.9" stroke-width="2.9"/></g><circle cx="1521.1" cy="998.6" r="5.7" fill="url(#gAt)"/><circle cx="1509.0" cy="1024.1" r="5.7" fill="url(#gAt)"/><circle cx="1480.6" cy="1017.5" r="5.7" fill="url(#gAt)"/><circle cx="1464.8" cy="994.5" r="5.7" fill="url(#gAt)"/><circle cx="1478.1" cy="966.5" r="5.7" fill="url(#gAt)"/><circle cx="1506.8" cy="968.8" r="5.7" fill="url(#gAt)"/><circle cx="1571.3" cy="1025.2" r="5.7" fill="url(#gAt)"/><circle cx="1562.8" cy="1046.1" r="5.7" fill="url(#gAt)"/><circle cx="1530.3" cy="1047.4" r="5.7" fill="url(#gAt)"/><circle cx="1553.4" cy="993.2" r="5.7" fill="url(#gAt)"/><circle cx="1616.8" cy="987.0" r="5.7" fill="url(#gAt)"/><circle cx="1601.4" cy="1020.1" r="5.7" fill="url(#gAt)"/><circle cx="1570.1" cy="962.2" r="5.7" fill="url(#gAt)"/><circle cx="1604.6" cy="964.4" r="5.7" fill="url(#gAt)"/><circle cx="1672.3" cy="1014.1" r="5.7" fill="url(#gAt)"/><circle cx="1656.3" cy="1041.0" r="5.7" fill="url(#gAt)"/><circle cx="1622.5" cy="1040.8" r="5.7" fill="url(#gAt)"/><circle cx="1646.8" cy="990.1" r="5.7" fill="url(#gAt)"/><circle cx="1515.1" cy="1077.5" r="5.7" fill="url(#gAt)"/><circle cx="1482.3" cy="1077.2" r="5.7" fill="url(#gAt)"/><circle cx="1459.8" cy="1049.7" r="5.7" fill="url(#gAt)"/><circle cx="1577.5" cy="1068.9" r="5.7" fill="url(#gAt)"/><circle cx="1561.8" cy="1097.6" r="5.7" fill="url(#gAt)"/><circle cx="1535.0" cy="1102.6" r="5.7" fill="url(#gAt)"/><circle cx="1611.1" cy="1067.8" r="5.7" fill="url(#gAt)"/><circle cx="1674.5" cy="1064.3" r="5.7" fill="url(#gAt)"/><circle cx="1660.5" cy="1094.6" r="5.7" fill="url(#gAt)"/><circle cx="1624.8" cy="1094.1" r="5.7" fill="url(#gAt)"/><g stroke="#0f85dc" stroke-width="4.8" stroke-linecap="round"><line x1="1519.2" y1="1002.1" x2="1503.5" y2="1029.9"/><line x1="1519.2" y1="1002.1" x2="1498.7" y2="978.4"/><line x1="1519.2" y1="1002.1" x2="1551.8" y2="1003.7"/><line x1="1503.5" y1="1029.9" x2="1477.1" y2="1028.7"/><line x1="1503.5" y1="1029.9" x2="1523.5" y2="1057.4"/><line x1="1477.1" y1="1028.7" x2="1457.7" y2="1004.1"/><line x1="1477.1" y1="1028.7" x2="1460.9" y2="1058.7"/><line x1="1457.7" y1="1004.1" x2="1470.0" y2="974.9"/><line x1="1470.0" y1="974.9" x2="1498.7" y2="978.4"/><line x1="1570.7" y1="1031.6" x2="1558.5" y2="1054.2"/><line x1="1570.7" y1="1031.6" x2="1551.8" y2="1003.7"/><line x1="1570.7" y1="1031.6" x2="1599.8" y2="1030.3"/><line x1="1558.5" y1="1054.2" x2="1523.5" y2="1057.4"/><line x1="1558.5" y1="1054.2" x2="1574.4" y2="1078.1"/><line x1="1523.5" y1="1057.4" x2="1510.8" y2="1082.6"/><line x1="1551.8" y1="1003.7" x2="1566.6" y2="972.8"/><line x1="1616.0" y1="999.0" x2="1599.8" y2="1030.3"/><line x1="1616.0" y1="999.0" x2="1600.4" y2="970.8"/><line x1="1616.0" y1="999.0" x2="1645.9" y2="998.7"/><line x1="1599.8" y1="1030.3" x2="1617.1" y2="1050.4"/><line x1="1566.6" y1="972.8" x2="1600.4" y2="970.8"/><line x1="1668.3" y1="1021.3" x2="1653.9" y2="1048.5"/><line x1="1668.3" y1="1021.3" x2="1645.9" y2="998.7"/><line x1="1653.9" y1="1048.5" x2="1617.1" y2="1050.4"/><line x1="1653.9" y1="1048.5" x2="1670.2" y2="1077.9"/><line x1="1617.1" y1="1050.4" x2="1604.4" y2="1076.4"/><line x1="1510.8" y1="1082.6" x2="1479.0" y2="1081.9"/><line x1="1510.8" y1="1082.6" x2="1527.3" y2="1111.4"/><line x1="1479.0" y1="1081.9" x2="1460.9" y2="1058.7"/><line x1="1574.4" y1="1078.1" x2="1558.9" y2="1106.2"/><line x1="1574.4" y1="1078.1" x2="1604.4" y2="1076.4"/><line x1="1558.9" y1="1106.2" x2="1527.3" y2="1111.4"/><line x1="1604.4" y1="1076.4" x2="1623.2" y2="1103.9"/><line x1="1670.2" y1="1077.9" x2="1656.3" y2="1101.7"/><line x1="1656.3" y1="1101.7" x2="1623.2" y2="1103.9"/></g><circle cx="1519.2" cy="1002.1" r="5.7" fill="url(#gAt)"/><circle cx="1503.5" cy="1029.9" r="5.7" fill="url(#gAt)"/><circle cx="1477.1" cy="1028.7" r="5.7" fill="url(#gAt)"/><circle cx="1457.7" cy="1004.1" r="5.7" fill="url(#gAt)"/><circle cx="1470.0" cy="974.9" r="5.7" fill="url(#gAt)"/><circle cx="1498.7" cy="978.4" r="5.7" fill="url(#gAt)"/><circle cx="1570.7" cy="1031.6" r="5.7" fill="url(#gAt)"/><circle cx="1558.5" cy="1054.2" r="5.7" fill="url(#gAt)"/><circle cx="1523.5" cy="1057.4" r="5.7" fill="url(#gAt)"/><circle cx="1551.8" cy="1003.7" r="5.7" fill="url(#gAt)"/><circle cx="1616.0" cy="999.0" r="5.7" fill="url(#gAt)"/><circle cx="1599.8" cy="1030.3" r="5.7" fill="url(#gAt)"/><circle cx="1566.6" cy="972.8" r="5.7" fill="url(#gAt)"/><circle cx="1600.4" cy="970.8" r="5.7" fill="url(#gAt)"/><circle cx="1668.3" cy="1021.3" r="5.7" fill="url(#gAt)"/><circle cx="1653.9" cy="1048.5" r="5.7" fill="url(#gAt)"/><circle cx="1617.1" cy="1050.4" r="5.7" fill="url(#gAt)"/><circle cx="1645.9" cy="998.7" r="5.7" fill="url(#gAt)"/><circle cx="1510.8" cy="1082.6" r="5.7" fill="url(#gAt)"/><circle cx="1479.0" cy="1081.9" r="5.7" fill="url(#gAt)"/><circle cx="1460.9" cy="1058.7" r="5.7" fill="url(#gAt)"/><circle cx="1574.4" cy="1078.1" r="5.7" fill="url(#gAt)"/><circle cx="1558.9" cy="1106.2" r="5.7" fill="url(#gAt)"/><circle cx="1527.3" cy="1111.4" r="5.7" fill="url(#gAt)"/><circle cx="1604.4" cy="1076.4" r="5.7" fill="url(#gAt)"/><circle cx="1670.2" cy="1077.9" r="5.7" fill="url(#gAt)"/><circle cx="1656.3" cy="1101.7" r="5.7" fill="url(#gAt)"/><circle cx="1623.2" cy="1103.9" r="5.7" fill="url(#gAt)"/>
<g stroke="#000" stroke-width="4.4" stroke-linecap="square"><line x1="397.8" y1="675.0" x2="397.8" y2="665.8"/><line x1="546.0" y1="675.0" x2="546.0" y2="665.8"/><line x1="694.3" y1="675.0" x2="694.3" y2="665.8"/><line x1="842.5" y1="675.0" x2="842.5" y2="665.8"/><line x1="249.5" y1="277.3" x2="258.7" y2="277.3"/><line x1="249.5" y1="476.2" x2="258.7" y2="476.2"/><rect x="249.5" y="78.5" width="741.3" height="596.5" fill="none"/></g>
<g style="font-family:'Liberation Serif','Times New Roman',serif;font-weight:bold;font-size:52px" fill="#000"><text x="236.5" y="93.3" text-anchor="end">-440</text><text x="236.5" y="292.1" text-anchor="end">-460</text><text x="236.5" y="491.0" text-anchor="end">-480</text><text x="236.5" y="689.8" text-anchor="end">-500</text><text x="249.5" y="727.3" text-anchor="middle">0</text><text x="397.8" y="727.3" text-anchor="middle">2</text><text x="546.0" y="727.3" text-anchor="middle">4</text><text x="694.3" y="727.3" text-anchor="middle">6</text><text x="842.5" y="727.3" text-anchor="middle">8</text><text x="990.8" y="727.3" text-anchor="middle">10</text></g>
<g stroke="#000" stroke-width="4.4" stroke-linecap="square"><line x1="1412.2" y1="675.0" x2="1412.2" y2="665.8"/><line x1="1560.4" y1="675.0" x2="1560.4" y2="665.8"/><line x1="1708.6" y1="675.0" x2="1708.6" y2="665.8"/><line x1="1856.8" y1="675.0" x2="1856.8" y2="665.8"/><line x1="1264.0" y1="197.6" x2="1273.2" y2="197.6"/><line x1="1264.0" y1="317.0" x2="1273.2" y2="317.0"/><line x1="1264.0" y1="436.3" x2="1273.2" y2="436.3"/><line x1="1264.0" y1="555.7" x2="1273.2" y2="555.7"/><rect x="1264.0" y="78.3" width="741.0" height="596.7" fill="none"/></g>
<g style="font-family:'Liberation Serif','Times New Roman',serif;font-weight:bold;font-size:52px" fill="#000"><text x="1251.0" y="93.1" text-anchor="end">-400</text><text x="1251.0" y="212.4" text-anchor="end">-420</text><text x="1251.0" y="331.8" text-anchor="end">-440</text><text x="1251.0" y="451.1" text-anchor="end">-460</text><text x="1251.0" y="570.5" text-anchor="end">-480</text><text x="1251.0" y="689.8" text-anchor="end">-500</text><text x="1264.0" y="727.3" text-anchor="middle">0</text><text x="1412.2" y="727.3" text-anchor="middle">2</text><text x="1560.4" y="727.3" text-anchor="middle">4</text><text x="1708.6" y="727.3" text-anchor="middle">6</text><text x="1856.8" y="727.3" text-anchor="middle">8</text><text x="2005.0" y="727.3" text-anchor="middle">10</text></g>
<g stroke="#000" stroke-width="4.4" stroke-linecap="square"><line x1="435.6" y1="1444.0" x2="435.6" y2="1434.8"/><line x1="620.7" y1="1444.0" x2="620.7" y2="1434.8"/><line x1="805.8" y1="1444.0" x2="805.8" y2="1434.8"/><line x1="250.5" y1="1046.3" x2="259.7" y2="1046.3"/><line x1="250.5" y1="1245.2" x2="259.7" y2="1245.2"/><rect x="250.5" y="847.5" width="740.4" height="596.5" fill="none"/></g>
<g style="font-family:'Liberation Serif','Times New Roman',serif;font-weight:bold;font-size:52px" fill="#000"><text x="237.5" y="862.3" text-anchor="end">-500</text><text x="237.5" y="1061.1" text-anchor="end">-520</text><text x="237.5" y="1260.0" text-anchor="end">-540</text><text x="237.5" y="1458.8" text-anchor="end">-560</text><text x="250.5" y="1496.3" text-anchor="middle">0</text><text x="435.6" y="1496.3" text-anchor="middle">5</text><text x="620.7" y="1496.3" text-anchor="middle">10</text><text x="805.8" y="1496.3" text-anchor="middle">15</text><text x="990.9" y="1496.3" text-anchor="middle">20</text></g>
<g stroke="#000" stroke-width="4.4" stroke-linecap="square"><line x1="1449.0" y1="1444.0" x2="1449.0" y2="1434.8"/><line x1="1634.0" y1="1444.0" x2="1634.0" y2="1434.8"/><line x1="1819.0" y1="1444.0" x2="1819.0" y2="1434.8"/><line x1="1264.0" y1="996.8" x2="1273.2" y2="996.8"/><line x1="1264.0" y1="1145.9" x2="1273.2" y2="1145.9"/><line x1="1264.0" y1="1295.0" x2="1273.2" y2="1295.0"/><rect x="1264.0" y="847.8" width="740.0" height="596.2" fill="none"/></g>
<g style="font-family:'Liberation Serif','Times New Roman',serif;font-weight:bold;font-size:52px" fill="#000"><text x="1251.0" y="862.6" text-anchor="end">-500</text><text x="1251.0" y="1011.6" text-anchor="end">-510</text><text x="1251.0" y="1160.7" text-anchor="end">-520</text><text x="1251.0" y="1309.8" text-anchor="end">-530</text><text x="1251.0" y="1458.8" text-anchor="end">-540</text><text x="1264.0" y="1496.3" text-anchor="middle">0</text><text x="1449.0" y="1496.3" text-anchor="middle">5</text><text x="1634.0" y="1496.3" text-anchor="middle">10</text><text x="1819.0" y="1496.3" text-anchor="middle">15</text><text x="2004.0" y="1496.3" text-anchor="middle">20</text></g>
<clipPath id="cpa"><rect x="247.3" y="76.3" width="743.5" height="600.9"/></clipPath>
<path clip-path="url(#cpa)" fill="none" stroke="#ff0000" stroke-width="4.6" stroke-linejoin="round" d="M249.5 442.4 249.7 431.6 249.9 420.8 250.1 415.0 250.2 412.5 250.4 410.1 250.6 407.6 250.8 405.1 251.0 402.6 251.2 405.6 251.4 408.6 251.5 411.5 251.7 414.5 251.9 414.6 252.1 414.8 252.3 414.9 252.5 415.0 252.7 415.1 252.8 414.8 253.0 414.3 253.2 413.8 253.4 413.3 253.6 412.7 253.8 412.1 253.9 411.5 254.1 410.8 254.3 410.2 254.5 409.5 254.7 408.8 254.9 408.0 255.1 407.3 255.2 406.5 255.4 405.7 255.6 404.8 255.8 404.0 256.0 403.1 256.2 402.2 256.4 401.3 256.5 400.4 256.7 399.4 256.9 398.5 257.1 397.5 257.3 396.5 257.5 395.4 257.7 394.4 257.8 393.4 258.0 392.3 258.2 391.2 258.4 390.1 258.6 389.0 258.8 387.9 259.0 386.8 259.1 385.7 259.3 384.6 259.5 383.4 259.7 382.3 259.9 381.1 260.1 379.9 260.2 378.8 260.4 377.6 260.6 376.4 260.8 375.2 261.0 374.0 261.2 372.8 261.4 371.6 261.5 370.5 261.7 369.6 261.9 370.7 262.1 371.8 262.3 372.9 262.5 374.0 262.7 375.1 262.8 376.2 263.0 377.3 263.2 378.4 263.4 379.5 263.6 380.6 263.8 381.6 264.0 382.7 264.1 383.7 264.3 384.8 264.5 385.8 264.7 386.8 264.9 387.9 265.1 388.9 265.3 389.8 265.4 390.8 265.6 391.8 265.8 392.8 266.0 393.7 266.2 394.6 266.4 395.5 266.5 396.4 266.7 397.3 266.9 398.2 267.1 399.0 267.3 399.9 267.5 400.7 267.7 401.5 267.8 402.3 268.0 403.1 268.2 403.8 268.4 404.5 268.6 405.2 268.8 405.9 269.0 406.6 269.1 407.2 269.3 407.9 269.5 408.5 269.7 409.1 269.9 409.6 270.1 410.2 270.3 410.7 270.4 411.2 270.6 411.7 270.8 412.1 271.0 412.6 271.2 413.0 271.4 413.3 271.6 413.7 271.7 414.0 271.9 414.3 272.1 414.6 272.3 414.9 272.5 415.1 272.7 415.4 272.9 415.5 273.0 415.7 273.2 415.9 273.4 416.0 273.6 416.1 273.8 416.1 274.0 416.2 274.1 416.2 274.3 416.2 274.5 416.2 274.7 416.1 274.9 416.0 275.1 415.9 275.3 415.8 275.4 415.6 275.6 415.5 275.8 415.2 276.0 415.0 276.2 414.8 276.4 414.5 276.6 414.2 276.7 413.9 276.9 413.5 277.1 413.2 277.3 412.8 277.5 412.3 277.7 411.9 277.9 411.4 278.0 411.0 278.2 410.5 278.4 409.9 278.6 409.4 278.8 408.8 279.0 408.2 279.2 407.6 279.3 407.0 279.5 406.3 279.7 405.6 279.9 404.9 280.1 404.2 280.3 403.5 280.4 402.7 280.6 401.9 280.8 401.1 281.0 400.3 281.2 399.5 281.4 398.7 281.6 397.8 281.7 396.9 281.9 396.0 282.1 395.1 282.3 394.2 282.5 393.2 282.7 392.3 282.9 391.3 283.0 390.3 283.2 389.3 283.4 388.3 283.6 387.3 283.8 386.3 284.0 385.2 284.2 384.2 284.3 383.1 284.5 382.0 284.7 380.9 284.9 379.9 285.1 378.7 285.3 377.6 285.5 376.5 285.6 375.4 285.8 374.3 286.0 373.1 286.2 372.0 286.4 370.9 286.6 370.4 286.8 371.6 286.9 372.7 287.1 373.9 287.3 375.0 287.5 376.1 287.7 377.3 287.9 378.4 288.0 379.6 288.2 380.7 288.4 381.8 288.6 382.9 288.8 384.0 289.0 385.2 289.2 386.2 289.3 387.3 289.5 388.4 289.7 389.5 289.9 390.6 290.1 391.6 290.3 392.6 290.5 393.7 290.6 394.7 290.8 395.7 291.0 396.7 291.2 397.7 291.4 398.6 291.6 399.6 291.8 400.5 291.9 401.4 292.1 402.3 292.3 403.2 292.5 404.0 292.7 404.9 292.9 405.7 293.1 406.5 293.2 407.3 293.4 408.0 293.6 408.8 293.8 409.5 294.0 410.2 294.2 410.9 294.3 411.5 294.5 412.2 294.7 412.8 294.9 413.4 295.1 413.9 295.3 414.4 295.5 414.9 295.6 415.4 295.8 415.9 296.0 416.3 296.2 416.7 296.4 417.1 296.6 417.4 296.8 417.8 296.9 418.1 297.1 418.3 297.3 418.6 297.5 418.8 297.7 419.0 297.9 419.1 298.1 419.3 298.2 419.4 298.4 419.4 298.6 419.5 298.8 419.5 299.0 419.5 299.2 419.4 299.4 419.3 299.5 419.2 299.7 419.1 299.9 419.0 300.1 418.8 300.3 418.5 300.5 418.3 300.6 418.0 300.8 417.7 301.0 417.4 301.2 417.0 301.4 416.7 301.6 416.2 301.8 415.8 301.9 415.3 302.1 414.9 302.3 414.3 302.5 413.8 302.7 413.2 302.9 412.6 303.1 412.0 303.2 411.4 303.4 410.7 303.6 410.0 303.8 409.3 304.0 408.6 304.2 407.8 304.4 407.0 304.5 406.2 304.7 405.4 304.9 404.6 305.1 403.7 305.3 402.8 305.5 401.9 305.7 401.0 305.8 400.1 306.0 399.1 306.2 398.2 306.4 397.2 306.6 396.2 306.8 395.2 307.0 394.1 307.1 393.1 307.3 392.1 307.5 391.0 307.7 389.9 307.9 388.8 308.1 387.8 308.2 386.7 308.4 385.5 308.6 384.4 308.8 383.3 309.0 382.2 309.2 381.0 309.4 379.9 309.5 378.8 309.7 377.6 309.9 376.5 310.1 375.3 310.3 374.1 310.5 373.0 310.7 371.8 310.8 370.7 311.0 369.5 311.2 368.4 311.4 368.3 311.6 369.4 311.8 370.6 312.0 371.7 312.1 372.9 312.3 374.0 312.5 375.2 312.7 376.3 312.9 377.4 313.1 378.6 313.3 379.7 313.4 380.8 313.6 381.9 313.8 383.0 314.0 384.1 314.2 385.1 314.4 386.2 314.5 387.2 314.7 388.3 314.9 389.3 315.1 390.3 315.3 391.3 315.5 392.3 315.7 393.3 315.8 394.3 316.0 395.2 316.2 396.1 316.4 397.1 316.6 398.0 316.8 398.8 317.0 399.7 317.1 400.6 317.3 401.4 317.5 402.2 317.7 403.0 317.9 403.8 318.1 404.5 318.3 405.3 318.4 406.0 318.6 406.7 318.8 407.3 319.0 408.0 319.2 408.6 319.4 409.2 319.6 409.8 319.7 410.4 319.9 410.9 320.1 411.4 320.3 411.9 320.5 412.4 320.7 412.9 320.9 413.3 321.0 413.7 321.2 414.0 321.4 414.4 321.6 414.7 321.8 415.0 322.0 415.3 322.1 415.5 322.3 415.7 322.5 415.9 322.7 416.1 322.9 416.3 323.1 416.4 323.3 416.5 323.4 416.5 323.6 416.6 323.8 416.6 324.0 416.6 324.2 416.6 324.4 416.5 324.6 416.4 324.7 416.3 324.9 416.2 325.1 416.0 325.3 415.8 325.5 415.6 325.7 415.4 325.9 415.1 326.0 414.8 326.2 414.5 326.4 414.2 326.6 413.8 326.8 413.4 327.0 413.0 327.2 412.6 327.3 412.2 327.5 411.7 327.7 411.2 327.9 410.7 328.1 410.1 328.3 409.6 328.4 409.0 328.6 408.4 328.8 407.8 329.0 407.1 329.2 406.4 329.4 405.8 329.6 405.1 329.7 404.3 329.9 403.6 330.1 402.8 330.3 402.0 330.5 401.2 330.7 400.4 330.9 399.6 331.0 398.8 331.2 397.9 331.4 397.0 331.6 396.1 331.8 395.2 332.0 394.3 332.2 393.3 332.3 392.4 332.5 391.4 332.7 390.5 332.9 389.5 333.1 388.5 333.3 387.4 333.5 386.4 333.6 385.4 333.8 384.3 334.0 383.3 334.2 382.2 334.4 381.1 334.6 380.1 334.7 379.0 334.9 377.9 335.1 376.8 335.3 375.7 335.5 374.5 335.7 373.4 335.9 372.3 336.0 371.2 336.2 371.4 336.4 372.6 336.6 373.7 336.8 374.9 337.0 376.0 337.2 377.2 337.3 378.3 337.5 379.5 337.7 380.6 337.9 381.8 338.1 382.9 338.3 384.0 338.5 385.2 338.6 386.3 338.8 387.4 339.0 388.5 339.2 389.7 339.4 390.8 339.6 391.9 339.8 392.9 339.9 394.0 340.1 395.1 340.3 396.1 340.5 397.2 340.7 398.2 340.9 399.2 341.1 400.2 341.2 401.2 341.4 402.1 341.6 403.1 341.8 404.0 342.0 404.9 342.2 405.8 342.3 406.7 342.5 407.6 342.7 408.4 342.9 409.2 343.1 410.0 343.3 410.8 343.5 411.6 343.6 412.3 343.8 413.0 344.0 413.7 344.2 414.3 344.4 415.0 344.6 415.6 344.8 416.2 344.9 416.7 345.1 417.2 345.3 417.7 345.5 418.2 345.7 418.7 345.9 419.1 346.1 419.5 346.2 419.8 346.4 420.1 346.6 420.4 346.8 420.7 347.0 420.9 347.2 421.2 347.4 421.3 347.5 421.5 347.7 421.6 347.9 421.7 348.1 421.7 348.3 421.8 348.5 421.8 348.6 421.7 348.8 421.7 349.0 421.6 349.2 421.5 349.4 421.3 349.6 421.1 349.8 420.9 349.9 420.7 350.1 420.4 350.3 420.1 350.5 419.8 350.7 419.4 350.9 419.0 351.1 418.6 351.2 418.2 351.4 417.7 351.6 417.2 351.8 416.7 352.0 416.2 352.2 415.6 352.4 415.0 352.5 414.4 352.7 413.8 352.9 413.1 353.1 412.4 353.3 411.7 353.5 411.0 353.7 410.2 353.8 409.5 354.0 408.7 354.2 407.9 354.4 407.0 354.6 406.2 354.8 405.3 354.9 404.5 355.1 403.6 355.3 402.6 355.5 401.7 355.7 400.8 355.9 399.8 356.1 398.8 356.2 397.9 356.4 396.9 356.6 395.9 356.8 394.8 357.0 393.8 357.2 392.8 357.4 391.7 357.5 390.6 357.7 389.6 357.9 388.5 358.1 387.4 358.3 386.3 358.5 385.2 358.7 384.1 358.8 383.0 359.0 381.9 359.2 380.8 359.4 379.7 359.6 378.5 359.8 377.4 360.0 376.3 360.1 375.2 360.3 374.0 360.5 372.9 360.7 371.8 360.9 370.6 361.1 371.2 361.3 372.3 361.4 373.4 361.6 374.5 361.8 375.6 362.0 376.7 362.2 377.8 362.4 378.8 362.5 379.9 362.7 381.0 362.9 382.1 363.1 383.1 363.3 384.2 363.5 385.2 363.7 386.2 363.8 387.3 364.0 388.3 364.2 389.3 364.4 390.3 364.6 391.3 364.8 392.3 365.0 393.2 365.1 394.2 365.3 395.1 365.5 396.1 365.7 397.0 365.9 397.9 366.1 398.8 366.3 399.6 366.4 400.5 366.6 401.3 366.8 402.2 367.0 403.0 367.2 403.7 367.4 404.5 367.6 405.3 367.7 406.0 367.9 406.7 368.1 407.4 368.3 408.1 368.5 408.7 368.7 409.4 368.8 410.0 369.0 410.6 369.2 411.1 369.4 411.7 369.6 412.2 369.8 412.7 370.0 413.2 370.1 413.7 370.3 414.1 370.5 414.5 370.7 414.9 370.9 415.2 371.1 415.6 371.3 415.9 371.4 416.2 371.6 416.4 371.8 416.6 372.0 416.8 372.2 417.0 372.4 417.2 372.6 417.3 372.7 417.4 372.9 417.5 373.1 417.5 373.3 417.6 373.5 417.5 373.7 417.5 373.9 417.5 374.0 417.4 374.2 417.3 374.4 417.1 374.6 417.0 374.8 416.8 375.0 416.6 375.2 416.3 375.3 416.0 375.5 415.8 375.7 415.4 375.9 415.1 376.1 414.7 376.3 414.3 376.4 413.9 376.6 413.5 376.8 413.0 377.0 412.5 377.2 412.0 377.4 411.4 377.6 410.9 377.7 410.3 377.9 409.7 378.1 409.1 378.3 408.4 378.5 407.7 378.7 407.0 378.9 406.3 379.0 405.6 379.2 404.9 379.4 404.1 379.6 403.3 379.8 402.5 380.0 401.7 380.2 400.8 380.3 400.0 380.5 399.1 380.7 398.2 380.9 397.3 381.1 396.4 381.3 395.5 381.5 394.5 381.6 393.6 381.8 392.6 382.0 391.6 382.2 390.7 382.4 389.7 382.6 388.7 382.7 387.7 382.9 386.6 383.1 385.6 383.3 384.6 383.5 383.5 383.7 382.5 383.9 381.4 384.0 380.4 384.2 379.3 384.4 378.3 384.6 377.2 384.8 376.1 385.0 375.1 385.2 374.0 385.3 372.9 385.5 371.9 385.7 370.8 385.9 371.8 386.1 372.9 386.3 374.1 386.5 375.3 386.6 376.4 386.8 377.6 387.0 378.7 387.2 379.9 387.4 381.0 387.6 382.2 387.8 383.3 387.9 384.4 388.1 385.5 388.3 386.6 388.5 387.7 388.7 388.7 388.9 389.8 389.0 390.8 389.2 391.9 389.4 392.9 389.6 393.9 389.8 394.9 390.0 395.9 390.2 396.8 390.3 397.8 390.5 398.7 390.7 399.6 390.9 400.5 391.1 401.3 391.3 402.2 391.5 403.0 391.6 403.8 391.8 404.6 392.0 405.4 392.2 406.1 392.4 406.9 392.6 407.6 392.8 408.3 392.9 408.9 393.1 409.6 393.3 410.2 393.5 410.8 393.7 411.4 393.9 411.9 394.1 412.4 394.2 412.9 394.4 413.4 394.6 413.9 394.8 414.3 395.0 414.7 395.2 415.1 395.4 415.4 395.5 415.8 395.7 416.1 395.9 416.3 396.1 416.6 396.3 416.8 396.5 417.0 396.6 417.2 396.8 417.3 397.0 417.5 397.2 417.6 397.4 417.6 397.6 417.7 397.8 417.7 397.9 417.7 398.1 417.6 398.3 417.6 398.5 417.5 398.7 417.4 398.9 417.3 399.1 417.1 399.2 416.9 399.4 416.7 399.6 416.5 399.8 416.2 400.0 415.9 400.2 415.6 400.4 415.3 400.5 414.9 400.7 414.5 400.9 414.1 401.1 413.7 401.3 413.2 401.5 412.7 401.7 412.2 401.8 411.7 402.0 411.1 402.2 410.6 402.4 410.0 402.6 409.3 402.8 408.7 402.9 408.0 403.1 407.4 403.3 406.6 403.5 405.9 403.7 405.2 403.9 404.4 404.1 403.6 404.2 402.8 404.4 402.0 404.6 401.1 404.8 400.3 405.0 399.4 405.2 398.5 405.4 397.6 405.5 396.7 405.7 395.7 405.9 394.8 406.1 393.8 406.3 392.8 406.5 391.8 406.7 390.8 406.8 389.7 407.0 388.7 407.2 387.7 407.4 386.6 407.6 385.5 407.8 384.4 408.0 383.3 408.1 382.2 408.3 381.1 408.5 380.0 408.7 378.9 408.9 377.7 409.1 376.6 409.3 375.5 409.4 374.3 409.6 373.2 409.8 372.0 410.0 370.8 410.2 369.7 410.4 368.5 410.5 367.5 410.7 368.6 410.9 369.8 411.1 371.0 411.3 372.2 411.5 373.3 411.7 374.5 411.8 375.7 412.0 376.8 412.2 378.0 412.4 379.2 412.6 380.3 412.8 381.5 413.0 382.6 413.1 383.8 413.3 384.9 413.5 386.0 413.7 387.2 413.9 388.3 414.1 389.4 414.3 390.5 414.4 391.5 414.6 392.6 414.8 393.6 415.0 394.7 415.2 395.7 415.4 396.7 415.6 397.7 415.7 398.7 415.9 399.7 416.1 400.6 416.3 401.5 416.5 402.4 416.7 403.3 416.8 404.2 417.0 405.0 417.2 405.9 417.4 406.7 417.6 407.5 417.8 408.2 418.0 409.0 418.1 409.7 418.3 410.4 418.5 411.1 418.7 411.7 418.9 412.4 419.1 413.0 419.3 413.5 419.4 414.1 419.6 414.6 419.8 415.1 420.0 415.6 420.2 416.1 420.4 416.5 420.6 416.9 420.7 417.3 420.9 417.6 421.1 417.9 421.3 418.2 421.5 418.5 421.7 418.7 421.9 418.9 422.0 419.1 422.2 419.3 422.4 419.4 422.6 419.5 422.8 419.6 423.0 419.7 423.1 419.7 423.3 419.7 423.5 419.7 423.7 419.6 423.9 419.6 424.1 419.4 424.3 419.3 424.4 419.2 424.6 419.0 424.8 418.8 425.0 418.5 425.2 418.3 425.4 418.0 425.6 417.7 425.7 417.3 425.9 417.0 426.1 416.6 426.3 416.2 426.5 415.7 426.7 415.3 426.9 414.8 427.0 414.3 427.2 413.7 427.4 413.2 427.6 412.6 427.8 412.0 428.0 411.4 428.2 410.7 428.3 410.1 428.5 409.4 428.7 408.7 428.9 407.9 429.1 407.2 429.3 406.4 429.5 405.6 429.6 404.8 429.8 403.9 430.0 403.1 430.2 402.2 430.4 401.3 430.6 400.4 430.7 399.5 430.9 398.5 431.1 397.6 431.3 396.6 431.5 395.6 431.7 394.6 431.9 393.6 432.0 392.5 432.2 391.5 432.4 390.4 432.6 389.3 432.8 388.2 433.0 387.1 433.2 386.0 433.3 384.8 433.5 383.7 433.7 382.5 433.9 381.4 434.1 380.2 434.3 379.0 434.5 377.8 434.6 376.7 434.8 375.5 435.0 374.3 435.2 373.0 435.4 372.3 435.6 373.5 435.8 374.7 435.9 375.8 436.1 377.0 436.3 378.2 436.5 379.3 436.7 380.5 436.9 381.7 437.0 382.8 437.2 384.0 437.4 385.1 437.6 386.2 437.8 387.4 438.0 388.5 438.2 389.6 438.3 390.7 438.5 391.7 438.7 392.8 438.9 393.9 439.1 394.9 439.3 396.0 439.5 397.0 439.6 398.0 439.8 399.0 440.0 399.9 440.2 400.9 440.4 401.8 440.6 402.7 440.8 403.6 440.9 404.5 441.1 405.4 441.3 406.2 441.5 407.0 441.7 407.9 441.9 408.6 442.1 409.4 442.2 410.1 442.4 410.8 442.6 411.5 442.8 412.2 443.0 412.8 443.2 413.4 443.3 414.0 443.5 414.6 443.7 415.1 443.9 415.7 444.1 416.1 444.3 416.6 444.5 417.0 444.6 417.5 444.8 417.8 445.0 418.2 445.2 418.5 445.4 418.8 445.6 419.1 445.8 419.3 445.9 419.6 446.1 419.7 446.3 419.9 446.5 420.0 446.7 420.1 446.9 420.2 447.1 420.3 447.2 420.3 447.4 420.3 447.6 420.2 447.8 420.2 448.0 420.1 448.2 419.9 448.4 419.8 448.5 419.6 448.7 419.4 448.9 419.2 449.1 418.9 449.3 418.6 449.5 418.3 449.7 418.0 449.8 417.6 450.0 417.2 450.2 416.8 450.4 416.4 450.6 415.9 450.8 415.4 450.9 414.9 451.1 414.4 451.3 413.8 451.5 413.3 451.7 412.7 451.9 412.0 452.1 411.4 452.2 410.7 452.4 410.0 452.6 409.3 452.8 408.6 453.0 407.9 453.2 407.1 453.4 406.3 453.5 405.5 453.7 404.7 453.9 403.9 454.1 403.0 454.3 402.2 454.5 401.3 454.7 400.4 454.8 399.5 455.0 398.6 455.2 397.6 455.4 396.7 455.6 395.8 455.8 394.8 456.0 393.8 456.1 392.8 456.3 391.8 456.5 390.8 456.7 389.8 456.9 388.8 457.1 387.8 457.2 386.8 457.4 385.8 457.6 384.7 457.8 383.7 458.0 382.6 458.2 381.6 458.4 380.5 458.5 379.5 458.7 378.4 458.9 377.4 459.1 376.3 459.3 375.3 459.5 374.2 459.7 373.1 459.8 372.1 460.0 371.0 460.2 370.8 460.4 371.9 460.6 373.1 460.8 374.2 461.0 375.4 461.1 376.5 461.3 377.7 461.5 378.8 461.7 379.9 461.9 381.0 462.1 382.2 462.3 383.3 462.4 384.4 462.6 385.5 462.8 386.6 463.0 387.7 463.2 388.7 463.4 389.8 463.6 390.8 463.7 391.9 463.9 392.9 464.1 393.9 464.3 395.0 464.5 396.0 464.7 396.9 464.8 397.9 465.0 398.9 465.2 399.8 465.4 400.7 465.6 401.7 465.8 402.6 466.0 403.5 466.1 404.3 466.3 405.2 466.5 406.0 466.7 406.8 466.9 407.6 467.1 408.4 467.3 409.2 467.4 409.9 467.6 410.6 467.8 411.4 468.0 412.0 468.2 412.7 468.4 413.3 468.6 414.0 468.7 414.6 468.9 415.2 469.1 415.7 469.3 416.2 469.5 416.7 469.7 417.2 469.9 417.7 470.0 418.1 470.2 418.5 470.4 418.9 470.6 419.3 470.8 419.6 471.0 419.9 471.1 420.2 471.3 420.5 471.5 420.7 471.7 420.9 471.9 421.1 472.1 421.3 472.3 421.4 472.4 421.5 472.6 421.5 472.8 421.6 473.0 421.6 473.2 421.6 473.4 421.5 473.6 421.5 473.7 421.4 473.9 421.2 474.1 421.1 474.3 420.9 474.5 420.7 474.7 420.4 474.9 420.2 475.0 419.9 475.2 419.5 475.4 419.2 475.6 418.8 475.8 418.4 476.0 417.9 476.2 417.5 476.3 417.0 476.5 416.5 476.7 415.9 476.9 415.3 477.1 414.7 477.3 414.1 477.4 413.5 477.6 412.8 477.8 412.1 478.0 411.4 478.2 410.6 478.4 409.8 478.6 409.1 478.7 408.2 478.9 407.4 479.1 406.5 479.3 405.7 479.5 404.8 479.7 403.8 479.9 402.9 480.0 402.0 480.2 401.0 480.4 400.0 480.6 399.0 480.8 398.0 481.0 396.9 481.2 395.9 481.3 394.8 481.5 393.7 481.7 392.7 481.9 391.6 482.1 390.4 482.3 389.3 482.5 388.2 482.6 387.1 482.8 385.9 483.0 384.8 483.2 383.6 483.4 382.4 483.6 381.3 483.8 380.1 483.9 378.9 484.1 377.7 484.3 376.5 484.5 375.4 484.7 374.2 484.9 373.0 485.0 373.0 485.2 374.2 485.4 375.4 485.6 376.6 485.8 377.8 486.0 379.0 486.2 380.2 486.3 381.4 486.5 382.6 486.7 383.7 486.9 384.9 487.1 386.1 487.3 387.2 487.5 388.4 487.6 389.5 487.8 390.6 488.0 391.7 488.2 392.8 488.4 393.9 488.6 395.0 488.8 396.0 488.9 397.0 489.1 398.1 489.3 399.1 489.5 400.1 489.7 401.0 489.9 402.0 490.1 402.9 490.2 403.8 490.4 404.7 490.6 405.6 490.8 406.5 491.0 407.3 491.2 408.1 491.3 408.9 491.5 409.7 491.7 410.4 491.9 411.2 492.1 411.9 492.3 412.5 492.5 413.2 492.6 413.8 492.8 414.4 493.0 415.0 493.2 415.5 493.4 416.1 493.6 416.6 493.8 417.0 493.9 417.5 494.1 417.9 494.3 418.3 494.5 418.7 494.7 419.0 494.9 419.3 495.1 419.6 495.2 419.8 495.4 420.1 495.6 420.3 495.8 420.4 496.0 420.6 496.2 420.7 496.4 420.8 496.5 420.9 496.7 420.9 496.9 420.9 497.1 420.9 497.3 420.8 497.5 420.8 497.7 420.7 497.8 420.5 498.0 420.4 498.2 420.2 498.4 420.0 498.6 419.8 498.8 419.5 498.9 419.2 499.1 418.9 499.3 418.6 499.5 418.2 499.7 417.8 499.9 417.4 500.1 417.0 500.2 416.5 500.4 416.0 500.6 415.5 500.8 415.0 501.0 414.4 501.2 413.8 501.4 413.2 501.5 412.6 501.7 412.0 501.9 411.3 502.1 410.6 502.3 409.9 502.5 409.2 502.7 408.4 502.8 407.7 503.0 406.9 503.2 406.1 503.4 405.2 503.6 404.4 503.8 403.5 504.0 402.7 504.1 401.8 504.3 400.9 504.5 399.9 504.7 399.0 504.9 398.0 505.1 397.1 505.2 396.1 505.4 395.1 505.6 394.1 505.8 393.1 506.0 392.0 506.2 391.0 506.4 389.9 506.5 388.9 506.7 387.8 506.9 386.7 507.1 385.6 507.3 384.5 507.5 383.4 507.7 382.3 507.8 381.2 508.0 380.1 508.2 378.9 508.4 377.8 508.6 376.7 508.8 375.5 509.0 374.4 509.1 373.2 509.3 372.1 509.5 370.9 509.7 369.8 509.9 370.0 510.1 371.0 510.3 372.1 510.4 373.1 510.6 374.1 510.8 375.1 511.0 376.1 511.2 377.1 511.4 378.1 511.5 379.1 511.7 380.1 511.9 381.1 512.1 382.1 512.3 383.1 512.5 384.0 512.7 385.0 512.8 386.0 513.0 386.9 513.2 387.8 513.4 388.8 513.6 389.7 513.8 390.6 514.0 391.5 514.1 392.4 514.3 393.2 514.5 394.1 514.7 394.9 514.9 395.8 515.1 396.6 515.3 397.4 515.4 398.2 515.6 399.0 515.8 399.7 516.0 400.5 516.2 401.2 516.4 401.9 516.6 402.6 516.7 403.3 516.9 404.0 517.1 404.6 517.3 405.2 517.5 405.9 517.7 406.4 517.9 407.0 518.0 407.6 518.2 408.1 518.4 408.6 518.6 409.1 518.8 409.6 519.0 410.0 519.1 410.4 519.3 410.8 519.5 411.2 519.7 411.6 519.9 411.9 520.1 412.2 520.3 412.5 520.4 412.8 520.6 413.0 520.8 413.2 521.0 413.4 521.2 413.6 521.4 413.8 521.6 413.9 521.7 414.0 521.9 414.1 522.1 414.1 522.3 414.2 522.5 414.2 522.7 414.2 522.9 414.1 523.0 414.1 523.2 414.0 523.4 413.9 523.6 413.7 523.8 413.6 524.0 413.4 524.2 413.2 524.3 412.9 524.5 412.7 524.7 412.4 524.9 412.1 525.1 411.8 525.3 411.4 525.4 411.1 525.6 410.7 525.8 410.2 526.0 409.8 526.2 409.3 526.4 408.9 526.6 408.4 526.7 407.8 526.9 407.3 527.1 406.7 527.3 406.1 527.5 405.5 527.7 404.9 527.9 404.3 528.0 403.6 528.2 402.9 528.4 402.2 528.6 401.5 528.8 400.7 529.0 400.0 529.2 399.2 529.3 398.4 529.5 397.6 529.7 396.8 529.9 396.0 530.1 395.1 530.3 394.2 530.5 393.4 530.6 392.5 530.8 391.6 531.0 390.6 531.2 389.7 531.4 388.8 531.6 387.8 531.7 386.8 531.9 385.8 532.1 384.9 532.3 383.9 532.5 382.9 532.7 381.8 532.9 380.8 533.0 379.8 533.2 378.7 533.4 377.7 533.6 376.6 533.8 375.6 534.0 374.5 534.2 373.5 534.3 372.4 534.5 371.3 534.7 372.0 534.9 373.2 535.1 374.3 535.3 375.5 535.5 376.7 535.6 377.8 535.8 379.0 536.0 380.1 536.2 381.3 536.4 382.4 536.6 383.5 536.8 384.6 536.9 385.8 537.1 386.9 537.3 388.0 537.5 389.1 537.7 390.1 537.9 391.2 538.1 392.3 538.2 393.3 538.4 394.4 538.6 395.4 538.8 396.4 539.0 397.4 539.2 398.4 539.3 399.3 539.5 400.3 539.7 401.2 539.9 402.1 540.1 403.0 540.3 403.9 540.5 404.8 540.6 405.6 540.8 406.5 541.0 407.3 541.2 408.1 541.4 408.8 541.6 409.6 541.8 410.3 541.9 411.0 542.1 411.7 542.3 412.4 542.5 413.0 542.7 413.6 542.9 414.2 543.1 414.8 543.2 415.3 543.4 415.9 543.6 416.4 543.8 416.8 544.0 417.3 544.2 417.7 544.4 418.1 544.5 418.5 544.7 418.8 544.9 419.1 545.1 419.4 545.3 419.7 545.5 419.9 545.6 420.1 545.8 420.3 546.0 420.5 546.2 420.6 546.4 420.7 546.6 420.8 546.8 420.8 546.9 420.9 547.1 420.9 547.3 420.8 547.5 420.8 547.7 420.7 547.9 420.6 548.1 420.4 548.2 420.3 548.4 420.1 548.6 419.9 548.8 419.6 549.0 419.3 549.2 419.0 549.4 418.7 549.5 418.4 549.7 418.0 549.9 417.6 550.1 417.2 550.3 416.7 550.5 416.3 550.7 415.8 550.8 415.2 551.0 414.7 551.2 414.1 551.4 413.5 551.6 412.9 551.8 412.3 552.0 411.6 552.1 410.9 552.3 410.2 552.5 409.5 552.7 408.8 552.9 408.0 553.1 407.2 553.2 406.4 553.4 405.6 553.6 404.8 553.8 403.9 554.0 403.0 554.2 402.2 554.4 401.2 554.5 400.3 554.7 399.4 554.9 398.4 555.1 397.5 555.3 396.5 555.5 395.5 555.7 394.5 555.8 393.5 556.0 392.5 556.2 391.4 556.4 390.4 556.6 389.3 556.8 388.3 557.0 387.2 557.1 386.1 557.3 385.1 557.5 384.0 557.7 382.9 557.9 381.8 558.1 380.7 558.3 379.6 558.4 378.4 558.6 377.3 558.8 376.2 559.0 375.1 559.2 374.0 559.4 372.9 559.5 373.9 559.7 375.0 559.9 376.2 560.1 377.3 560.3 378.5 560.5 379.6 560.7 380.7 560.8 381.9 561.0 383.0 561.2 384.1 561.4 385.2 561.6 386.3 561.8 387.4 562.0 388.4 562.1 389.5 562.3 390.5 562.5 391.6 562.7 392.6 562.9 393.6 563.1 394.6 563.3 395.6 563.4 396.6 563.6 397.5 563.8 398.5 564.0 399.4 564.2 400.3 564.4 401.2 564.6 402.1 564.7 402.9 564.9 403.8 565.1 404.6 565.3 405.4 565.5 406.2 565.7 407.0 565.8 407.7 566.0 408.5 566.2 409.2 566.4 409.9 566.6 410.5 566.8 411.2 567.0 411.8 567.1 412.4 567.3 413.0 567.5 413.6 567.7 414.1 567.9 414.7 568.1 415.2 568.3 415.6 568.4 416.1 568.6 416.5 568.8 416.9 569.0 417.3 569.2 417.7 569.4 418.0 569.6 418.4 569.7 418.6 569.9 418.9 570.1 419.2 570.3 419.4 570.5 419.6 570.7 419.8 570.9 419.9 571.0 420.0 571.2 420.1 571.4 420.2 571.6 420.3 571.8 420.3 572.0 420.3 572.2 420.3 572.3 420.2 572.5 420.2 572.7 420.1 572.9 419.9 573.1 419.8 573.3 419.6 573.4 419.4 573.6 419.2 573.8 419.0 574.0 418.7 574.2 418.4 574.4 418.1 574.6 417.7 574.7 417.3 574.9 417.0 575.1 416.5 575.3 416.1 575.5 415.6 575.7 415.1 575.9 414.6 576.0 414.1 576.2 413.5 576.4 412.9 576.6 412.3 576.8 411.7 577.0 411.0 577.2 410.4 577.3 409.7 577.5 408.9 577.7 408.2 577.9 407.4 578.1 406.7 578.3 405.9 578.5 405.0 578.6 404.2 578.8 403.3 579.0 402.4 579.2 401.5 579.4 400.6 579.6 399.7 579.7 398.7 579.9 397.8 580.1 396.8 580.3 395.8 580.5 394.8 580.7 393.7 580.9 392.7 581.0 391.6 581.2 390.6 581.4 389.5 581.6 388.4 581.8 387.3 582.0 386.2 582.2 385.1 582.3 383.9 582.5 382.8 582.7 381.6 582.9 380.5 583.1 379.3 583.3 378.1 583.5 377.0 583.6 375.8 583.8 374.6 584.0 373.4 584.2 372.4 584.4 373.5 584.6 374.6 584.8 375.7 584.9 376.8 585.1 377.9 585.3 379.0 585.5 380.0 585.7 381.1 585.9 382.2 586.1 383.2 586.2 384.3 586.4 385.3 586.6 386.4 586.8 387.4 587.0 388.4 587.2 389.4 587.3 390.4 587.5 391.4 587.7 392.4 587.9 393.3 588.1 394.3 588.3 395.2 588.5 396.1 588.6 397.0 588.8 397.9 589.0 398.8 589.2 399.6 589.4 400.5 589.6 401.3 589.8 402.1 589.9 402.8 590.1 403.6 590.3 404.3 590.5 405.1 590.7 405.8 590.9 406.4 591.1 407.1 591.2 407.7 591.4 408.3 591.6 408.9 591.8 409.5 592.0 410.1 592.2 410.6 592.4 411.1 592.5 411.5 592.7 412.0 592.9 412.4 593.1 412.8 593.3 413.2 593.5 413.6 593.6 413.9 593.8 414.2 594.0 414.5 594.2 414.7 594.4 414.9 594.6 415.2 594.8 415.3 594.9 415.5 595.1 415.6 595.3 415.7 595.5 415.8 595.7 415.8 595.9 415.9 596.1 415.8 596.2 415.8 596.4 415.8 596.6 415.7 596.8 415.6 597.0 415.5 597.2 415.3 597.4 415.1 597.5 414.9 597.7 414.7 597.9 414.4 598.1 414.2 598.3 413.8 598.5 413.5 598.7 413.2 598.8 412.8 599.0 412.4 599.2 412.0 599.4 411.5 599.6 411.1 599.8 410.6 599.9 410.1 600.1 409.5 600.3 409.0 600.5 408.4 600.7 407.8 600.9 407.2 601.1 406.5 601.2 405.9 601.4 405.2 601.6 404.5 601.8 403.7 602.0 403.0 602.2 402.2 602.4 401.5 602.5 400.7 602.7 399.9 602.9 399.0 603.1 398.2 603.3 397.3 603.5 396.4 603.7 395.5 603.8 394.6 604.0 393.7 604.2 392.8 604.4 391.8 604.6 390.8 604.8 389.9 605.0 388.9 605.1 387.9 605.3 386.8 605.5 385.8 605.7 384.8 605.9 383.7 606.1 382.7 606.3 381.6 606.4 380.5 606.6 379.5 606.8 378.4 607.0 377.3 607.2 376.2 607.4 375.1 607.5 374.0 607.7 372.9 607.9 371.8 608.1 370.7 608.3 369.5 608.5 368.4 608.7 367.3 608.8 366.2 609.0 365.6 609.2 366.7 609.4 367.8 609.6 368.9 609.8 370.1 610.0 371.2 610.1 372.3 610.3 373.4 610.5 374.5 610.7 375.6 610.9 376.7 611.1 377.8 611.3 378.9 611.4 379.9 611.6 381.0 611.8 382.1 612.0 383.1 612.2 384.2 612.4 385.2 612.6 386.2 612.7 387.3 612.9 388.3 613.1 389.3 613.3 390.3 613.5 391.2 613.7 392.2 613.8 393.1 614.0 394.1 614.2 395.0 614.4 395.9 614.6 396.8 614.8 397.6 615.0 398.5 615.1 399.3 615.3 400.1 615.5 400.9 615.7 401.7 615.9 402.5 616.1 403.2 616.3 404.0 616.4 404.7 616.6 405.3 616.8 406.0 617.0 406.7 617.2 407.3 617.4 407.9 617.6 408.5 617.7 409.0 617.9 409.6 618.1 410.1 618.3 410.6 618.5 411.1 618.7 411.5 618.9 412.0 619.0 412.4 619.2 412.7 619.4 413.1 619.6 413.4 619.8 413.7 620.0 414.0 620.1 414.3 620.3 414.5 620.5 414.7 620.7 414.9 620.9 415.1 621.1 415.2 621.3 415.3 621.4 415.4 621.6 415.5 621.8 415.5 622.0 415.5 622.2 415.5 622.4 415.5 622.6 415.4 622.7 415.3 622.9 415.2 623.1 415.1 623.3 414.9 623.5 414.7 623.7 414.5 623.9 414.2 624.0 414.0 624.2 413.7 624.4 413.4 624.6 413.0 624.8 412.6 625.0 412.2 625.2 411.8 625.3 411.4 625.5 410.9 625.7 410.4 625.9 409.9 626.1 409.3 626.3 408.8 626.5 408.2 626.6 407.6 626.8 406.9 627.0 406.3 627.2 405.6 627.4 404.9 627.6 404.2 627.7 403.4 627.9 402.7 628.1 401.9 628.3 401.1 628.5 400.3 628.7 399.4 628.9 398.5 629.0 397.7 629.2 396.8 629.4 395.9 629.6 394.9 629.8 394.0 630.0 393.0 630.2 392.0 630.3 391.0 630.5 390.0 630.7 389.0 630.9 388.0 631.1 386.9 631.3 385.9 631.5 384.8 631.6 383.7 631.8 382.6 632.0 381.5 632.2 380.4 632.4 379.3 632.6 378.2 632.8 377.1 632.9 375.9 633.1 374.8 633.3 373.6 633.5 372.5 633.7 371.3 633.9 371.0 634.0 372.2 634.2 373.3 634.4 374.4 634.6 375.5 634.8 376.6 635.0 377.6 635.2 378.7 635.3 379.8 635.5 380.9 635.7 381.9 635.9 383.0 636.1 384.1 636.3 385.1 636.5 386.1 636.6 387.1 636.8 388.2 637.0 389.2 637.2 390.2 637.4 391.1 637.6 392.1 637.8 393.1 637.9 394.0 638.1 394.9 638.3 395.9 638.5 396.8 638.7 397.7 638.9 398.5 639.1 399.4 639.2 400.2 639.4 401.1 639.6 401.9 639.8 402.7 640.0 403.4 640.2 404.2 640.4 404.9 640.5 405.7 640.7 406.4 640.9 407.1 641.1 407.7 641.3 408.4 641.5 409.0 641.6 409.6 641.8 410.2 642.0 410.8 642.2 411.3 642.4 411.8 642.6 412.3 642.8 412.8 642.9 413.3 643.1 413.7 643.3 414.1 643.5 414.5 643.7 414.9 643.9 415.2 644.1 415.5 644.2 415.8 644.4 416.1 644.6 416.4 644.8 416.6 645.0 416.8 645.2 417.0 645.4 417.1 645.5 417.2 645.7 417.3 645.9 417.4 646.1 417.5 646.3 417.5 646.5 417.5 646.7 417.5 646.8 417.4 647.0 417.3 647.2 417.2 647.4 417.1 647.6 416.9 647.8 416.8 647.9 416.6 648.1 416.3 648.3 416.1 648.5 415.8 648.7 415.5 648.9 415.1 649.1 414.8 649.2 414.4 649.4 414.0 649.6 413.5 649.8 413.1 650.0 412.6 650.2 412.1 650.4 411.5 650.5 411.0 650.7 410.4 650.9 409.8 651.1 409.1 651.3 408.5 651.5 407.8 651.7 407.1 651.8 406.4 652.0 405.6 652.2 404.9 652.4 404.1 652.6 403.2 652.8 402.4 653.0 401.6 653.1 400.7 653.3 399.8 653.5 398.9 653.7 397.9 653.9 397.0 654.1 396.0 654.2 395.0 654.4 394.0 654.6 393.0 654.8 392.0 655.0 390.9 655.2 389.9 655.4 388.8 655.5 387.7 655.7 386.6 655.9 385.5 656.1 384.3 656.3 383.2 656.5 382.0 656.7 380.9 656.8 379.7 657.0 378.5 657.2 377.4 657.4 376.2 657.6 375.0 657.8 373.8 658.0 372.6 658.1 371.4 658.3 370.2 658.5 368.9 658.7 369.0 658.9 370.3 659.1 371.5 659.3 372.8 659.4 374.0 659.6 375.3 659.8 376.5 660.0 377.8 660.2 379.0 660.4 380.2 660.6 381.4 660.7 382.6 660.9 383.8 661.1 385.0 661.3 386.2 661.5 387.3 661.7 388.5 661.8 389.6 662.0 390.7 662.2 391.8 662.4 392.9 662.6 394.0 662.8 395.0 663.0 396.0 663.1 397.1 663.3 398.1 663.5 399.0 663.7 400.0 663.9 400.9 664.1 401.9 664.3 402.8 664.4 403.7 664.6 404.5 664.8 405.3 665.0 406.2 665.2 406.9 665.4 407.7 665.6 408.5 665.7 409.2 665.9 409.9 666.1 410.5 666.3 411.2 666.5 411.8 666.7 412.4 666.9 413.0 667.0 413.5 667.2 414.1 667.4 414.5 667.6 415.0 667.8 415.5 668.0 415.9 668.1 416.3 668.3 416.6 668.5 417.0 668.7 417.3 668.9 417.6 669.1 417.8 669.3 418.1 669.4 418.3 669.6 418.4 669.8 418.6 670.0 418.7 670.2 418.8 670.4 418.9 670.6 419.0 670.7 419.0 670.9 419.0 671.1 418.9 671.3 418.9 671.5 418.8 671.7 418.7 671.9 418.6 672.0 418.4 672.2 418.2 672.4 418.0 672.6 417.8 672.8 417.5 673.0 417.2 673.2 416.9 673.3 416.6 673.5 416.2 673.7 415.9 673.9 415.5 674.1 415.0 674.3 414.6 674.5 414.1 674.6 413.6 674.8 413.1 675.0 412.6 675.2 412.0 675.4 411.4 675.6 410.8 675.7 410.2 675.9 409.5 676.1 408.9 676.3 408.2 676.5 407.5 676.7 406.7 676.9 406.0 677.0 405.2 677.2 404.4 677.4 403.6 677.6 402.8 677.8 402.0 678.0 401.1 678.2 400.2 678.3 399.4 678.5 398.4 678.7 397.5 678.9 396.6 679.1 395.6 679.3 394.7 679.5 393.7 679.6 392.7 679.8 391.7 680.0 390.7 680.2 389.7 680.4 388.7 680.6 387.6 680.8 386.6 680.9 385.5 681.1 384.4 681.3 383.3 681.5 382.3 681.7 381.2 681.9 380.1 682.0 379.0 682.2 377.9 682.4 376.7 682.6 375.6 682.8 374.5 683.0 373.4 683.2 372.3 683.3 371.1 683.5 371.6 683.7 372.7 683.9 373.8 684.1 375.0 684.3 376.1 684.5 377.2 684.6 378.4 684.8 379.5 685.0 380.6 685.2 381.7 685.4 382.8 685.6 383.8 685.8 384.9 685.9 386.0 686.1 387.0 686.3 388.1 686.5 389.1 686.7 390.1 686.9 391.1 687.1 392.1 687.2 393.1 687.4 394.1 687.6 395.0 687.8 396.0 688.0 396.9 688.2 397.8 688.3 398.7 688.5 399.5 688.7 400.4 688.9 401.2 689.1 402.0 689.3 402.8 689.5 403.6 689.6 404.4 689.8 405.1 690.0 405.9 690.2 406.6 690.4 407.2 690.6 407.9 690.8 408.5 690.9 409.2 691.1 409.8 691.3 410.3 691.5 410.9 691.7 411.4 691.9 411.9 692.1 412.4 692.2 412.9 692.4 413.3 692.6 413.7 692.8 414.1 693.0 414.5 693.2 414.8 693.4 415.2 693.5 415.5 693.7 415.7 693.9 416.0 694.1 416.2 694.3 416.4 694.5 416.6 694.7 416.8 694.8 416.9 695.0 417.0 695.2 417.1 695.4 417.1 695.6 417.2 695.8 417.2 695.9 417.1 696.1 417.1 696.3 417.0 696.5 416.9 696.7 416.8 696.9 416.7 697.1 416.5 697.2 416.3 697.4 416.1 697.6 415.9 697.8 415.6 698.0 415.3 698.2 415.0 698.4 414.7 698.5 414.3 698.7 414.0 698.9 413.6 699.1 413.1 699.3 412.7 699.5 412.2 699.7 411.7 699.8 411.2 700.0 410.7 700.2 410.1 700.4 409.6 700.6 409.0 700.8 408.3 701.0 407.7 701.1 407.1 701.3 406.4 701.5 405.7 701.7 405.0 701.9 404.2 702.1 403.5 702.2 402.7 702.4 401.9 702.6 401.1 702.8 400.3 703.0 399.4 703.2 398.6 703.4 397.7 703.5 396.8 703.7 395.9 703.9 395.0 704.1 394.0 704.3 393.1 704.5 392.1 704.7 391.2 704.8 390.2 705.0 389.2 705.2 388.2 705.4 387.2 705.6 386.1 705.8 385.1 706.0 384.0 706.1 383.0 706.3 381.9 706.5 380.8 706.7 379.8 706.9 378.7 707.1 377.6 707.3 376.5 707.4 375.4 707.6 374.3 707.8 373.2 708.0 372.1 708.2 371.0 708.4 371.6 708.6 372.7 708.7 373.7 708.9 374.8 709.1 375.8 709.3 376.9 709.5 377.9 709.7 379.0 709.8 380.0 710.0 381.0 710.2 382.0 710.4 383.1 710.6 384.1 710.8 385.1 711.0 386.1 711.1 387.1 711.3 388.0 711.5 389.0 711.7 390.0 711.9 390.9 712.1 391.8 712.3 392.8 712.4 393.7 712.6 394.6 712.8 395.4 713.0 396.3 713.2 397.2 713.4 398.0 713.6 398.8 713.7 399.6 713.9 400.4 714.1 401.2 714.3 402.0 714.5 402.7 714.7 403.4 714.9 404.1 715.0 404.8 715.2 405.5 715.4 406.1 715.6 406.8 715.8 407.4 716.0 407.9 716.1 408.5 716.3 409.1 716.5 409.6 716.7 410.1 716.9 410.6 717.1 411.0 717.3 411.5 717.4 411.9 717.6 412.3 717.8 412.6 718.0 413.0 718.2 413.3 718.4 413.6 718.6 413.9 718.7 414.1 718.9 414.3 719.1 414.5 719.3 414.7 719.5 414.9 719.7 415.0 719.9 415.1 720.0 415.2 720.2 415.2 720.4 415.3 720.6 415.3 720.8 415.3 721.0 415.2 721.2 415.2 721.3 415.1 721.5 415.0 721.7 414.9 721.9 414.7 722.1 414.5 722.3 414.3 722.4 414.1 722.6 413.8 722.8 413.6 723.0 413.3 723.2 413.0 723.4 412.6 723.6 412.3 723.7 411.9 723.9 411.5 724.1 411.0 724.3 410.6 724.5 410.1 724.7 409.6 724.9 409.1 725.0 408.6 725.2 408.0 725.4 407.4 725.6 406.8 725.8 406.2 726.0 405.6 726.2 404.9 726.3 404.2 726.5 403.5 726.7 402.8 726.9 402.0 727.1 401.3 727.3 400.5 727.5 399.7 727.6 398.9 727.8 398.1 728.0 397.2 728.2 396.3 728.4 395.5 728.6 394.6 728.8 393.6 728.9 392.7 729.1 391.8 729.3 390.8 729.5 389.8 729.7 388.8 729.9 387.8 730.0 386.8 730.2 385.8 730.4 384.7 730.6 383.7 730.8 382.6 731.0 381.5 731.2 380.4 731.3 379.3 731.5 378.2 731.7 377.1 731.9 375.9 732.1 374.8 732.3 373.6 732.5 372.5 732.6 371.3 732.8 370.2 733.0 369.0 733.2 370.0 733.4 371.1 733.6 372.2 733.8 373.2 733.9 374.3 734.1 375.4 734.3 376.5 734.5 377.5 734.7 378.6 734.9 379.7 735.1 380.7 735.2 381.8 735.4 382.8 735.6 383.9 735.8 384.9 736.0 385.9 736.2 386.9 736.3 387.9 736.5 388.9 736.7 389.9 736.9 390.9 737.1 391.8 737.3 392.8 737.5 393.7 737.6 394.6 737.8 395.5 738.0 396.4 738.2 397.3 738.4 398.1 738.6 399.0 738.8 399.8 738.9 400.6 739.1 401.3 739.3 402.1 739.5 402.8 739.7 403.5 739.9 404.2 740.1 404.9 740.2 405.5 740.4 406.2 740.6 406.8 740.8 407.3 741.0 407.9 741.2 408.4 741.4 408.9 741.5 409.4 741.7 409.9 741.9 410.3 742.1 410.7 742.3 411.1 742.5 411.4 742.6 411.7 742.8 412.0 743.0 412.3 743.2 412.5 743.4 412.8 743.6 413.0 743.8 413.1 743.9 413.3 744.1 413.4 744.3 413.5 744.5 413.5 744.7 413.5 744.9 413.6 745.1 413.5 745.2 413.5 745.4 413.4 745.6 413.3 745.8 413.2 746.0 413.0 746.2 412.9 746.4 412.7 746.5 412.4 746.7 412.2 746.9 411.9 747.1 411.6 747.3 411.3 747.5 411.0 747.7 410.6 747.8 410.2 748.0 409.8 748.2 409.3 748.4 408.9 748.6 408.4 748.8 407.9 749.0 407.4 749.1 406.8 749.3 406.3 749.5 405.7 749.7 405.1 749.9 404.5 750.1 403.8 750.2 403.2 750.4 402.5 750.6 401.8 750.8 401.1 751.0 400.3 751.2 399.6 751.4 398.8 751.5 398.0 751.7 397.2 751.9 396.4 752.1 395.6 752.3 394.8 752.5 393.9 752.7 393.0 752.8 392.2 753.0 391.3 753.2 390.4 753.4 389.4 753.6 388.5 753.8 387.6 754.0 386.6 754.1 385.7 754.3 384.7 754.5 383.7 754.7 382.7 754.9 381.7 755.1 380.7 755.3 379.7 755.4 378.7 755.6 377.7 755.8 376.7 756.0 375.7 756.2 374.6 756.4 373.6 756.5 372.5 756.7 371.5 756.9 370.5 757.1 369.4 757.3 368.4 757.5 367.3 757.7 366.3 757.8 365.5 758.0 366.8 758.2 368.0 758.4 369.3 758.6 370.5 758.8 371.8 759.0 373.0 759.1 374.2 759.3 375.5 759.5 376.7 759.7 377.9 759.9 379.1 760.1 380.4 760.3 381.6 760.4 382.8 760.6 383.9 760.8 385.1 761.0 386.3 761.2 387.4 761.4 388.6 761.6 389.7 761.7 390.8 761.9 391.9 762.1 393.0 762.3 394.0 762.5 395.1 762.7 396.1 762.9 397.1 763.0 398.1 763.2 399.1 763.4 400.0 763.6 400.9 763.8 401.8 764.0 402.7 764.1 403.6 764.3 404.4 764.5 405.2 764.7 406.0 764.9 406.8 765.1 407.5 765.3 408.3 765.4 408.9 765.6 409.6 765.8 410.2 766.0 410.9 766.2 411.4 766.4 412.0 766.6 412.5 766.7 413.0 766.9 413.5 767.1 414.0 767.3 414.4 767.5 414.8 767.7 415.1 767.9 415.5 768.0 415.8 768.2 416.0 768.4 416.3 768.6 416.5 768.8 416.7 769.0 416.9 769.2 417.0 769.3 417.1 769.5 417.2 769.7 417.2 769.9 417.3 770.1 417.3 770.3 417.2 770.4 417.2 770.6 417.1 770.8 417.0 771.0 416.8 771.2 416.6 771.4 416.5 771.6 416.2 771.7 416.0 771.9 415.7 772.1 415.4 772.3 415.1 772.5 414.7 772.7 414.4 772.9 414.0 773.0 413.5 773.2 413.1 773.4 412.6 773.6 412.1 773.8 411.6 774.0 411.1 774.2 410.5 774.3 409.9 774.5 409.3 774.7 408.7 774.9 408.0 775.1 407.4 775.3 406.7 775.5 406.0 775.6 405.2 775.8 404.5 776.0 403.7 776.2 402.9 776.4 402.1 776.6 401.3 776.7 400.5 776.9 399.6 777.1 398.8 777.3 397.9 777.5 397.0 777.7 396.1 777.9 395.2 778.0 394.2 778.2 393.3 778.4 392.3 778.6 391.3 778.8 390.3 779.0 389.3 779.2 388.3 779.3 387.3 779.5 386.3 779.7 385.2 779.9 384.2 780.1 383.1 780.3 382.1 780.5 381.0 780.6 379.9 780.8 378.8 781.0 377.7 781.2 376.6 781.4 375.5 781.6 374.4 781.8 373.3 781.9 372.2 782.1 371.1 782.3 369.9 782.5 368.8 782.7 368.3 782.9 369.3 783.1 370.3 783.2 371.4 783.4 372.4 783.6 373.5 783.8 374.5 784.0 375.5 784.2 376.6 784.3 377.6 784.5 378.7 784.7 379.7 784.9 380.7 785.1 381.8 785.3 382.8 785.5 383.8 785.6 384.9 785.8 385.9 786.0 386.9 786.2 387.9 786.4 388.9 786.6 389.9 786.8 390.9 786.9 391.8 787.1 392.8 787.3 393.7 787.5 394.7 787.7 395.6 787.9 396.5 788.1 397.4 788.2 398.3 788.4 399.2 788.6 400.1 788.8 400.9 789.0 401.8 789.2 402.6 789.4 403.4 789.5 404.2 789.7 404.9 789.9 405.7 790.1 406.4 790.3 407.1 790.5 407.8 790.6 408.5 790.8 409.1 791.0 409.7 791.2 410.3 791.4 410.9 791.6 411.5 791.8 412.0 791.9 412.5 792.1 413.0 792.3 413.5 792.5 413.9 792.7 414.3 792.9 414.7 793.1 415.1 793.2 415.4 793.4 415.7 793.6 416.0 793.8 416.2 794.0 416.5 794.2 416.7 794.4 416.8 794.5 417.0 794.7 417.1 794.9 417.2 795.1 417.2 795.3 417.3 795.5 417.3 795.7 417.3 795.8 417.2 796.0 417.1 796.2 417.0 796.4 416.9 796.6 416.7 796.8 416.5 797.0 416.3 797.1 416.1 797.3 415.8 797.5 415.5 797.7 415.1 797.9 414.8 798.1 414.4 798.2 414.0 798.4 413.6 798.6 413.1 798.8 412.6 799.0 412.1 799.2 411.6 799.4 411.0 799.5 410.5 799.7 409.9 799.9 409.2 800.1 408.6 800.3 407.9 800.5 407.2 800.7 406.5 800.8 405.8 801.0 405.0 801.2 404.2 801.4 403.5 801.6 402.6 801.8 401.8 802.0 401.0 802.1 400.1 802.3 399.2 802.5 398.3 802.7 397.4 802.9 396.5 803.1 395.6 803.3 394.6 803.4 393.6 803.6 392.6 803.8 391.7 804.0 390.6 804.2 389.6 804.4 388.6 804.5 387.6 804.7 386.5 804.9 385.5 805.1 384.4 805.3 383.3 805.5 382.2 805.7 381.1 805.8 380.0 806.0 378.9 806.2 377.8 806.4 376.7 806.6 375.6 806.8 374.5 807.0 373.4 807.1 372.2 807.3 371.1 807.5 371.0 807.7 372.2 807.9 373.4 808.1 374.6 808.3 375.9 808.4 377.1 808.6 378.3 808.8 379.5 809.0 380.8 809.2 382.0 809.4 383.2 809.6 384.4 809.7 385.6 809.9 386.7 810.1 387.9 810.3 389.1 810.5 390.2 810.7 391.4 810.8 392.5 811.0 393.7 811.2 394.8 811.4 395.9 811.6 397.0 811.8 398.0 812.0 399.1 812.1 400.1 812.3 401.1 812.5 402.1 812.7 403.1 812.9 404.1 813.1 405.0 813.3 406.0 813.4 406.9 813.6 407.7 813.8 408.6 814.0 409.4 814.2 410.3 814.4 411.0 814.6 411.8 814.7 412.5 814.9 413.3 815.1 414.0 815.3 414.6 815.5 415.2 815.7 415.9 815.9 416.4 816.0 417.0 816.2 417.5 816.4 418.0 816.6 418.5 816.8 418.9 817.0 419.3 817.2 419.7 817.3 420.0 817.5 420.4 817.7 420.6 817.9 420.9 818.1 421.1 818.3 421.3 818.4 421.5 818.6 421.6 818.8 421.7 819.0 421.8 819.2 421.8 819.4 421.9 819.6 421.8 819.7 421.8 819.9 421.7 820.1 421.6 820.3 421.5 820.5 421.3 820.7 421.1 820.9 420.9 821.0 420.6 821.2 420.3 821.4 420.0 821.6 419.7 821.8 419.3 822.0 418.9 822.2 418.5 822.3 418.1 822.5 417.6 822.7 417.1 822.9 416.6 823.1 416.1 823.3 415.5 823.5 414.9 823.6 414.3 823.8 413.7 824.0 413.0 824.2 412.3 824.4 411.6 824.6 410.9 824.7 410.2 824.9 409.4 825.1 408.7 825.3 407.9 825.5 407.1 825.7 406.3 825.9 405.4 826.0 404.6 826.2 403.7 826.4 402.8 826.6 401.9 826.8 401.0 827.0 400.1 827.2 399.1 827.3 398.2 827.5 397.2 827.7 396.2 827.9 395.3 828.1 394.3 828.3 393.3 828.5 392.3 828.6 391.3 828.8 390.2 829.0 389.2 829.2 388.2 829.4 387.1 829.6 386.1 829.8 385.0 829.9 384.0 830.1 382.9 830.3 381.8 830.5 380.8 830.7 379.7 830.9 378.6 831.0 377.6 831.2 376.5 831.4 375.4 831.6 374.3 831.8 373.3 832.0 372.2 832.2 371.1 832.3 371.3 832.5 372.5 832.7 373.7 832.9 374.9 833.1 376.1 833.3 377.3 833.5 378.4 833.6 379.6 833.8 380.8 834.0 381.9 834.2 383.1 834.4 384.3 834.6 385.4 834.8 386.5 834.9 387.7 835.1 388.8 835.3 389.9 835.5 391.0 835.7 392.1 835.9 393.2 836.1 394.2 836.2 395.3 836.4 396.3 836.6 397.4 836.8 398.4 837.0 399.4 837.2 400.4 837.4 401.4 837.5 402.3 837.7 403.3 837.9 404.2 838.1 405.1 838.3 406.0 838.5 406.8 838.6 407.7 838.8 408.5 839.0 409.3 839.2 410.1 839.4 410.9 839.6 411.6 839.8 412.3 839.9 413.0 840.1 413.7 840.3 414.4 840.5 415.0 840.7 415.6 840.9 416.2 841.1 416.7 841.2 417.3 841.4 417.8 841.6 418.3 841.8 418.7 842.0 419.1 842.2 419.5 842.4 419.9 842.5 420.2 842.7 420.6 842.9 420.9 843.1 421.1 843.3 421.3 843.5 421.5 843.7 421.7 843.8 421.9 844.0 422.0 844.2 422.1 844.4 422.1 844.6 422.2 844.8 422.2 844.9 422.1 845.1 422.1 845.3 422.0 845.5 421.9 845.7 421.7 845.9 421.6 846.1 421.4 846.2 421.1 846.4 420.9 846.6 420.6 846.8 420.3 847.0 419.9 847.2 419.5 847.4 419.1 847.5 418.7 847.7 418.2 847.9 417.8 848.1 417.3 848.3 416.7 848.5 416.2 848.7 415.6 848.8 415.0 849.0 414.3 849.2 413.7 849.4 413.0 849.6 412.3 849.8 411.5 850.0 410.8 850.1 410.0 850.3 409.2 850.5 408.4 850.7 407.5 850.9 406.7 851.1 405.8 851.3 404.9 851.4 404.0 851.6 403.1 851.8 402.1 852.0 401.1 852.2 400.2 852.4 399.2 852.5 398.1 852.7 397.1 852.9 396.1 853.1 395.0 853.3 394.0 853.5 392.9 853.7 391.8 853.8 390.7 854.0 389.6 854.2 388.5 854.4 387.3 854.6 386.2 854.8 385.1 855.0 383.9 855.1 382.8 855.3 381.6 855.5 380.4 855.7 379.3 855.9 378.1 856.1 376.9 856.3 375.7 856.4 374.5 856.6 373.4 856.8 372.2 857.0 371.0 857.2 371.5 857.4 372.6 857.6 373.8 857.7 374.9 857.9 376.1 858.1 377.2 858.3 378.4 858.5 379.5 858.7 380.7 858.8 381.8 859.0 382.9 859.2 384.1 859.4 385.2 859.6 386.3 859.8 387.4 860.0 388.5 860.1 389.6 860.3 390.7 860.5 391.8 860.7 392.8 860.9 393.9 861.1 394.9 861.3 396.0 861.4 397.0 861.6 398.0 861.8 399.0 862.0 400.0 862.2 401.0 862.4 401.9 862.6 402.9 862.7 403.8 862.9 404.7 863.1 405.6 863.3 406.4 863.5 407.3 863.7 408.1 863.9 408.9 864.0 409.7 864.2 410.5 864.4 411.2 864.6 412.0 864.8 412.7 865.0 413.4 865.1 414.0 865.3 414.7 865.5 415.3 865.7 415.9 865.9 416.4 866.1 416.9 866.3 417.5 866.4 417.9 866.6 418.4 866.8 418.8 867.0 419.2 867.2 419.6 867.4 420.0 867.6 420.3 867.7 420.6 867.9 420.8 868.1 421.1 868.3 421.3 868.5 421.4 868.7 421.6 868.9 421.7 869.0 421.8 869.2 421.9 869.4 421.9 869.6 421.9 869.8 421.9 870.0 421.8 870.2 421.7 870.3 421.6 870.5 421.5 870.7 421.3 870.9 421.1 871.1 420.9 871.3 420.6 871.5 420.3 871.6 420.0 871.8 419.7 872.0 419.3 872.2 418.9 872.4 418.5 872.6 418.1 872.7 417.6 872.9 417.1 873.1 416.6 873.3 416.1 873.5 415.5 873.7 414.9 873.9 414.3 874.0 413.7 874.2 413.0 874.4 412.3 874.6 411.6 874.8 410.9 875.0 410.2 875.2 409.4 875.3 408.6 875.5 407.8 875.7 407.0 875.9 406.2 876.1 405.3 876.3 404.5 876.5 403.6 876.6 402.7 876.8 401.8 877.0 400.8 877.2 399.9 877.4 398.9 877.6 398.0 877.8 397.0 877.9 396.0 878.1 395.0 878.3 394.0 878.5 393.0 878.7 391.9 878.9 390.9 879.0 389.8 879.2 388.8 879.4 387.7 879.6 386.6 879.8 385.6 880.0 384.5 880.2 383.4 880.3 382.3 880.5 381.2 880.7 380.1 880.9 379.0 881.1 377.9 881.3 376.8 881.5 375.6 881.6 374.5 881.8 373.4 882.0 374.2 882.2 375.3 882.4 376.5 882.6 377.6 882.8 378.7 882.9 379.8 883.1 380.9 883.3 382.0 883.5 383.1 883.7 384.2 883.9 385.2 884.1 386.3 884.2 387.4 884.4 388.4 884.6 389.5 884.8 390.5 885.0 391.6 885.2 392.6 885.4 393.6 885.5 394.6 885.7 395.6 885.9 396.6 886.1 397.5 886.3 398.5 886.5 399.4 886.6 400.3 886.8 401.2 887.0 402.1 887.2 403.0 887.4 403.9 887.6 404.7 887.8 405.5 887.9 406.3 888.1 407.1 888.3 407.9 888.5 408.7 888.7 409.4 888.9 410.1 889.1 410.8 889.2 411.5 889.4 412.1 889.6 412.7 889.8 413.3 890.0 413.9 890.2 414.5 890.4 415.0 890.5 415.5 890.7 416.0 890.9 416.5 891.1 416.9 891.3 417.4 891.5 417.7 891.7 418.1 891.8 418.4 892.0 418.8 892.2 419.1 892.4 419.3 892.6 419.6 892.8 419.8 892.9 419.9 893.1 420.1 893.3 420.2 893.5 420.3 893.7 420.4 893.9 420.5 894.1 420.5 894.2 420.5 894.4 420.5 894.6 420.4 894.8 420.3 895.0 420.2 895.2 420.1 895.4 419.9 895.5 419.7 895.7 419.5 895.9 419.2 896.1 419.0 896.3 418.7 896.5 418.4 896.7 418.0 896.8 417.6 897.0 417.2 897.2 416.8 897.4 416.4 897.6 415.9 897.8 415.4 898.0 414.9 898.1 414.3 898.3 413.8 898.5 413.2 898.7 412.6 898.9 411.9 899.1 411.3 899.2 410.6 899.4 409.9 899.6 409.2 899.8 408.4 900.0 407.7 900.2 406.9 900.4 406.1 900.5 405.3 900.7 404.4 900.9 403.6 901.1 402.7 901.3 401.8 901.5 400.9 901.7 400.0 901.8 399.1 902.0 398.1 902.2 397.2 902.4 396.2 902.6 395.2 902.8 394.2 903.0 393.2 903.1 392.2 903.3 391.1 903.5 390.1 903.7 389.0 903.9 387.9 904.1 386.9 904.3 385.8 904.4 384.7 904.6 383.6 904.8 382.5 905.0 381.4 905.2 380.2 905.4 379.1 905.6 378.0 905.7 376.9 905.9 375.7 906.1 374.6 906.3 373.4 906.5 372.3 906.7 371.2 906.8 372.3 907.0 373.4 907.2 374.5 907.4 375.6 907.6 376.6 907.8 377.7 908.0 378.8 908.1 379.9 908.3 381.0 908.5 382.0 908.7 383.1 908.9 384.2 909.1 385.2 909.3 386.3 909.4 387.3 909.6 388.3 909.8 389.3 910.0 390.3 910.2 391.3 910.4 392.3 910.6 393.3 910.7 394.2 910.9 395.2 911.1 396.1 911.3 397.1 911.5 398.0 911.7 398.9 911.9 399.7 912.0 400.6 912.2 401.5 912.4 402.3 912.6 403.1 912.8 403.9 913.0 404.7 913.1 405.5 913.3 406.2 913.5 407.0 913.7 407.7 913.9 408.4 914.1 409.1 914.3 409.7 914.4 410.4 914.6 411.0 914.8 411.6 915.0 412.2 915.2 412.7 915.4 413.2 915.6 413.8 915.7 414.2 915.9 414.7 916.1 415.1 916.3 415.6 916.5 416.0 916.7 416.3 916.9 416.7 917.0 417.0 917.2 417.3 917.4 417.6 917.6 417.8 917.8 418.0 918.0 418.2 918.2 418.4 918.3 418.5 918.5 418.6 918.7 418.7 918.9 418.8 919.1 418.8 919.3 418.8 919.4 418.8 919.6 418.8 919.8 418.7 920.0 418.6 920.2 418.5 920.4 418.3 920.6 418.1 920.7 417.9 920.9 417.7 921.1 417.4 921.3 417.1 921.5 416.8 921.7 416.4 921.9 416.0 922.0 415.6 922.2 415.2 922.4 414.7 922.6 414.3 922.8 413.7 923.0 413.2 923.2 412.6 923.3 412.1 923.5 411.4 923.7 410.8 923.9 410.1 924.1 409.5 924.3 408.7 924.5 408.0 924.6 407.3 924.8 406.5 925.0 405.7 925.2 404.9 925.4 404.0 925.6 403.2 925.8 402.3 925.9 401.4 926.1 400.5 926.3 399.5 926.5 398.6 926.7 397.6 926.9 396.6 927.0 395.6 927.2 394.6 927.4 393.6 927.6 392.5 927.8 391.5 928.0 390.4 928.2 389.3 928.3 388.2 928.5 387.1 928.7 386.0 928.9 384.9 929.1 383.8 929.3 382.7 929.5 381.5 929.6 380.4 929.8 379.2 930.0 378.1 930.2 376.9 930.4 375.7 930.6 374.6 930.8 373.4 930.9 372.3 931.1 371.1 931.3 369.9 931.5 369.1 931.7 370.2 931.9 371.4 932.1 372.5 932.2 373.6 932.4 374.7 932.6 375.8 932.8 376.9 933.0 378.0 933.2 379.1 933.3 380.2 933.5 381.3 933.7 382.4 933.9 383.4 934.1 384.5 934.3 385.5 934.5 386.5 934.6 387.5 934.8 388.6 935.0 389.5 935.2 390.5 935.4 391.5 935.6 392.4 935.8 393.4 935.9 394.3 936.1 395.2 936.3 396.1 936.5 397.0 936.7 397.9 936.9 398.7 937.1 399.6 937.2 400.4 937.4 401.2 937.6 401.9 937.8 402.7 938.0 403.5 938.2 404.2 938.4 404.9 938.5 405.6 938.7 406.2 938.9 406.9 939.1 407.5 939.3 408.1 939.5 408.7 939.7 409.2 939.8 409.8 940.0 410.3 940.2 410.8 940.4 411.3 940.6 411.7 940.8 412.1 940.9 412.5 941.1 412.9 941.3 413.3 941.5 413.6 941.7 413.9 941.9 414.2 942.1 414.4 942.2 414.7 942.4 414.9 942.6 415.1 942.8 415.2 943.0 415.3 943.2 415.5 943.4 415.5 943.5 415.6 943.7 415.6 943.9 415.6 944.1 415.6 944.3 415.5 944.5 415.5 944.7 415.4 944.8 415.2 945.0 415.1 945.2 414.9 945.4 414.7 945.6 414.5 945.8 414.2 946.0 413.9 946.1 413.6 946.3 413.3 946.5 412.9 946.7 412.6 946.9 412.1 947.1 411.7 947.2 411.3 947.4 410.8 947.6 410.3 947.8 409.8 948.0 409.2 948.2 408.7 948.4 408.1 948.5 407.5 948.7 406.9 948.9 406.2 949.1 405.6 949.3 404.9 949.5 404.2 949.7 403.5 949.8 402.7 950.0 402.0 950.2 401.2 950.4 400.4 950.6 399.6 950.8 398.8 951.0 398.0 951.1 397.1 951.3 396.3 951.5 395.4 951.7 394.5 951.9 393.6 952.1 392.7 952.3 391.8 952.4 390.9 952.6 389.9 952.8 389.0 953.0 388.0 953.2 387.1 953.4 386.1 953.5 385.1 953.7 384.1 953.9 383.1 954.1 382.2 954.3 381.2 954.5 380.1 954.7 379.1 954.8 378.1 955.0 377.1 955.2 376.1 955.4 375.1 955.6 374.1 955.8 373.0 956.0 372.0 956.1 371.0 956.3 370.6 956.5 371.7 956.7 372.8 956.9 373.9 957.1 375.0 957.3 376.0 957.4 377.1 957.6 378.2 957.8 379.2 958.0 380.2 958.2 381.3 958.4 382.3 958.6 383.3 958.7 384.3 958.9 385.3 959.1 386.3 959.3 387.2 959.5 388.2 959.7 389.1 959.9 390.0 960.0 390.9 960.2 391.8 960.4 392.7 960.6 393.6 960.8 394.4 961.0 395.2 961.1 396.1 961.3 396.8 961.5 397.6 961.7 398.4 961.9 399.1 962.1 399.8 962.3 400.5 962.4 401.2 962.6 401.9 962.8 402.5 963.0 403.1 963.2 403.7 963.4 404.3 963.6 404.9 963.7 405.4 963.9 405.9 964.1 406.4 964.3 406.9 964.5 407.4 964.7 407.8 964.9 408.2 965.0 408.6 965.2 408.9 965.4 409.3 965.6 409.6 965.8 409.9 966.0 410.1 966.2 410.4 966.3 410.6 966.5 410.8 966.7 411.0 966.9 411.1 967.1 411.3 967.3 411.4 967.4 411.4 967.6 411.5 967.8 411.5 968.0 411.6 968.2 411.6 968.4 411.5 968.6 411.5 968.7 411.4 968.9 411.3 969.1 411.2 969.3 411.1 969.5 410.9 969.7 410.7 969.9 410.5 970.0 410.3 970.2 410.0 970.4 409.8 970.6 409.5 970.8 409.2 971.0 408.9 971.2 408.5 971.3 408.1 971.5 407.8 971.7 407.4 971.9 406.9 972.1 406.5 972.3 406.0 972.5 405.5 972.6 405.1 972.8 404.5 973.0 404.0 973.2 403.5 973.4 402.9 973.6 402.3 973.8 401.7 973.9 401.1 974.1 400.5 974.3 399.8 974.5 399.2 974.7 398.5 974.9 397.8 975.0 397.1 975.2 396.4 975.4 395.6 975.6 394.9 975.8 394.1 976.0 393.4 976.2 392.6 976.3 391.8 976.5 391.0 976.7 390.2 976.9 389.3 977.1 388.5 977.3 387.6 977.5 386.8 977.6 385.9 977.8 385.0 978.0 384.1 978.2 383.2 978.4 382.3 978.6 381.4 978.8 380.5 978.9 379.5 979.1 378.6 979.3 377.6 979.5 376.7 979.7 375.7 979.9 374.8 980.1 373.8 980.2 372.8 980.4 371.8 980.6 370.9 980.8 369.9 981.0 368.9 981.2 368.8 981.3 369.9 981.5 371.0 981.7 372.1 981.9 373.2 982.1 374.3 982.3 375.4 982.5 376.5 982.6 377.6 982.8 378.7 983.0 379.8 983.2 380.9 983.4 382.0 983.6 383.1 983.8 384.2 983.9 385.3 984.1 386.3 984.3 387.4 984.5 388.5 984.7 389.5 984.9 390.6 985.1 391.6 985.2 392.6 985.4 393.6 985.6 394.6 985.8 395.6 986.0 396.6 986.2 397.6 986.4 398.5 986.5 399.5 986.7 400.4 986.9 401.3 987.1 402.2 987.3 403.1 987.5 404.0 987.6 404.8 987.8 405.6 988.0 406.4 988.2 407.2 988.4 408.0 988.6 408.7 988.8 409.4 988.9 410.2 989.1 410.8 989.3 411.5 989.5 412.1 989.7 412.7 989.9 413.3 990.1 413.9 990.2 414.4 990.4 414.9 990.6 415.4 990.8 415.9"/>
<clipPath id="cpb"><rect x="1261.8" y="76.1" width="743.2" height="601.1"/></clipPath>
<path clip-path="url(#cpb)" fill="none" stroke="#0000ff" stroke-width="2.6" stroke-linejoin="round" d="M1264.0 537.2 1264.7 525.0 1265.5 467.7 1266.2 409.1 1267.0 329.0 1267.7 282.9 1268.4 236.3 1269.2 249.1 1269.9 276.4 1270.7 350.1 1271.4 409.5 1272.2 461.0 1272.9 459.2 1273.6 457.6 1274.4 422.2 1275.1 400.1 1275.9 349.2 1276.6 324.0 1277.3 279.6 1278.1 258.9 1278.8 232.1 1279.6 231.8 1280.3 235.4 1281.0 279.8 1281.8 316.6 1282.5 381.6 1283.3 420.4 1284.0 460.2 1284.7 458.2 1285.5 453.3 1286.2 419.8 1287.0 391.8 1287.7 342.6 1288.5 317.5 1289.2 284.4 1289.9 283.6 1290.7 284.0 1291.4 315.7 1292.2 337.9 1292.9 392.5 1293.6 411.0 1294.4 453.0 1295.1 447.5 1295.9 451.4 1296.6 424.6 1297.3 402.4 1298.1 360.0 1298.8 338.8 1299.6 304.8 1300.3 298.1 1301.0 288.9 1301.8 309.1 1302.5 324.5 1303.3 360.6 1304.0 378.7 1304.8 420.9 1305.5 426.9 1306.2 445.5 1307.0 429.7 1307.7 417.6 1308.5 377.7 1309.2 356.6 1309.9 319.3 1310.7 320.0 1311.4 315.2 1312.2 332.5 1312.9 336.0 1313.6 363.7 1314.4 373.2 1315.1 401.5 1315.9 405.2 1316.6 427.4 1317.4 425.5 1318.1 435.1 1318.8 412.6 1319.6 401.2 1320.3 368.8 1321.1 352.3 1321.8 325.1 1322.5 331.0 1323.3 326.6 1324.0 344.5 1324.8 348.7 1325.5 378.7 1326.2 382.5 1327.0 408.4 1327.7 412.1 1328.5 426.5 1329.2 410.3 1329.9 420.6 1330.7 393.5 1331.4 384.1 1332.2 353.0 1332.9 351.2 1333.7 338.4 1334.4 352.5 1335.1 363.1 1335.9 396.0 1336.6 403.6 1337.4 431.2 1338.1 423.7 1338.8 430.6 1339.6 411.6 1340.3 409.7 1341.1 380.2 1341.8 376.6 1342.5 356.6 1343.3 357.2 1344.0 339.7 1344.8 344.4 1345.5 331.0 1346.3 362.9 1347.0 376.6 1347.7 412.0 1348.5 420.0 1349.2 432.8 1350.0 418.9 1350.7 413.1 1351.4 389.5 1352.2 384.2 1352.9 360.8 1353.7 369.1 1354.4 346.6 1355.1 349.0 1355.9 343.0 1356.6 361.5 1357.4 372.9 1358.1 408.6 1358.8 414.0 1359.6 435.0 1360.3 424.5 1361.1 430.6 1361.8 390.2 1362.6 377.5 1363.3 347.4 1364.0 349.5 1364.8 336.1 1365.5 350.7 1366.3 346.0 1367.0 362.2 1367.7 364.6 1368.5 390.7 1369.2 394.8 1370.0 417.9 1370.7 415.6 1371.4 420.4 1372.2 403.2 1372.9 402.4 1373.7 378.9 1374.4 387.4 1375.2 368.8 1375.9 379.4 1376.6 363.7 1377.4 373.0 1378.1 365.6 1378.9 380.8 1379.6 384.4 1380.3 402.0 1381.1 397.8 1381.8 410.7 1382.6 397.9 1383.3 400.0 1384.0 383.3 1384.8 387.8 1385.5 372.2 1386.3 382.0 1387.0 371.6 1387.7 378.2 1388.5 371.8 1389.2 384.8 1390.0 385.8 1390.7 403.1 1391.5 405.2 1392.2 419.9 1392.9 406.4 1393.7 409.8 1394.4 391.8 1395.2 391.9 1395.9 368.1 1396.6 376.3 1397.4 353.4 1398.1 360.0 1398.9 349.7 1399.6 364.7 1400.3 374.9 1401.1 402.0 1401.8 414.3 1402.6 434.0 1403.3 427.0 1404.0 428.2 1404.8 405.0 1405.5 394.5 1406.3 370.7 1407.0 369.1 1407.8 359.0 1408.5 374.4 1409.2 365.0 1410.0 383.2 1410.7 385.4 1411.5 410.5 1412.2 414.4 1412.9 430.1 1413.7 416.9 1414.4 415.9 1415.2 386.6 1415.9 383.6 1416.6 361.7 1417.4 364.3 1418.1 348.2 1418.9 353.1 1419.6 343.6 1420.4 360.1 1421.1 360.1 1421.8 394.3 1422.6 391.2 1423.3 413.1 1424.1 411.4 1424.8 420.8 1425.5 401.4 1426.3 398.1 1427.0 368.6 1427.8 373.0 1428.5 358.4 1429.2 363.6 1430.0 356.2 1430.7 367.5 1431.5 363.4 1432.2 384.4 1432.9 382.9 1433.7 404.2 1434.4 406.3 1435.2 417.8 1435.9 409.5 1436.7 415.5 1437.4 397.3 1438.1 402.4 1438.9 378.8 1439.6 380.9 1440.4 357.9 1441.1 360.0 1441.8 346.6 1442.6 357.5 1443.3 357.5 1444.1 384.4 1444.8 387.7 1445.5 408.6 1446.3 404.5 1447.0 416.7 1447.8 404.4 1448.5 406.0 1449.2 388.2 1450.0 386.1 1450.7 365.3 1451.5 370.4 1452.2 346.0 1453.0 349.9 1453.7 344.4 1454.4 370.0 1455.2 382.0 1455.9 405.9 1456.7 407.9 1457.4 414.6 1458.1 397.9 1458.9 397.7 1459.6 375.6 1460.4 377.6 1461.1 358.0 1461.8 359.9 1462.6 343.5 1463.3 355.9 1464.1 353.4 1464.8 373.8 1465.6 379.8 1466.3 413.5 1467.0 401.6 1467.8 417.6 1468.5 401.0 1469.3 408.0 1470.0 383.2 1470.7 388.6 1471.5 364.2 1472.2 372.1 1473.0 354.7 1473.7 375.8 1474.4 360.6 1475.2 376.3 1475.9 374.9 1476.7 402.0 1477.4 381.3 1478.1 412.2 1478.9 383.8 1479.6 398.5 1480.4 378.6 1481.1 389.4 1481.9 370.5 1482.6 384.0 1483.3 372.0 1484.1 396.0 1484.8 376.7 1485.6 398.4 1486.3 385.7 1487.0 403.2 1487.8 379.3 1488.5 404.1 1489.3 383.4 1490.0 396.2 1490.7 371.5 1491.5 394.5 1492.2 377.9 1493.0 411.3 1493.7 378.6 1494.5 397.1 1495.2 373.8 1495.9 400.0 1496.7 374.8 1497.4 392.7 1498.2 354.1 1498.9 393.9 1499.6 376.8 1500.4 409.3 1501.1 380.6 1501.9 400.8 1502.6 375.9 1503.3 404.6 1504.1 380.8 1504.8 399.6 1505.6 371.2 1506.3 390.8 1507.0 364.9 1507.8 389.3 1508.5 373.8 1509.3 393.6 1510.0 372.9 1510.8 406.5 1511.5 374.3 1512.2 400.5 1513.0 382.3 1513.7 404.5 1514.5 377.8 1515.2 400.2 1515.9 373.9 1516.7 392.5 1517.4 376.1 1518.2 401.3 1518.9 382.4 1519.6 403.8 1520.4 385.6 1521.1 408.1 1521.9 385.1 1522.6 405.5 1523.3 376.3 1524.1 394.2 1524.8 372.6 1525.6 394.6 1526.3 362.2 1527.1 396.5 1527.8 374.1 1528.5 404.4 1529.3 376.8 1530.0 400.1 1530.8 385.2 1531.5 402.2 1532.2 377.8 1533.0 430.3 1533.7 373.1 1534.5 394.7 1535.2 375.4 1535.9 404.3 1536.7 375.4 1537.4 392.5 1538.2 375.5 1538.9 394.4 1539.7 380.0 1540.4 401.4 1541.1 379.5 1541.9 411.5 1542.6 387.3 1543.4 410.7 1544.1 371.3 1544.8 393.3 1545.6 367.3 1546.3 385.3 1547.1 367.1 1547.8 387.2 1548.5 372.0 1549.3 394.6 1550.0 381.0 1550.8 403.6 1551.5 384.8 1552.2 406.4 1553.0 379.4 1553.7 401.5 1554.5 377.7 1555.2 393.1 1556.0 371.8 1556.7 400.8 1557.4 366.0 1558.2 392.3 1558.9 370.7 1559.7 401.7 1560.4 374.7 1561.1 411.4 1561.9 382.8 1562.6 406.9 1563.4 378.2 1564.1 404.7 1564.8 377.5 1565.6 395.5 1566.3 369.5 1567.1 389.9 1567.8 366.8 1568.6 387.7 1569.3 371.9 1570.0 392.2 1570.8 372.6 1571.5 403.6 1572.3 388.5 1573.0 411.0 1573.7 387.9 1574.5 409.8 1575.2 384.9 1576.0 401.0 1576.7 371.3 1577.4 396.9 1578.2 368.1 1578.9 386.7 1579.7 364.2 1580.4 391.3 1581.1 375.1 1581.9 398.3 1582.6 388.2 1583.4 412.0 1584.1 388.2 1584.9 412.3 1585.6 386.2 1586.3 409.7 1587.1 373.4 1587.8 391.7 1588.6 358.8 1589.3 393.0 1590.0 368.5 1590.8 397.1 1591.5 373.5 1592.3 397.6 1593.0 380.2 1593.7 411.8 1594.5 390.2 1595.2 413.6 1596.0 386.5 1596.7 403.5 1597.5 371.3 1598.2 391.3 1598.9 371.8 1599.7 391.1 1600.4 366.8 1601.2 407.7 1601.9 369.2 1602.6 402.2 1603.4 379.8 1604.1 403.8 1604.9 388.7 1605.6 411.4 1606.3 391.1 1607.1 418.1 1607.8 379.2 1608.6 393.2 1609.3 368.3 1610.0 393.8 1610.8 367.3 1611.5 386.9 1612.3 371.7 1613.0 394.8 1613.8 379.1 1614.5 408.0 1615.2 386.1 1616.0 417.4 1616.7 392.6 1617.5 406.4 1618.2 379.2 1618.9 392.8 1619.7 361.9 1620.4 399.4 1621.2 368.2 1621.9 394.0 1622.6 375.7 1623.4 404.9 1624.1 380.0 1624.9 405.6 1625.6 386.4 1626.3 414.0 1627.1 386.2 1627.8 407.6 1628.6 374.6 1629.3 401.1 1630.1 365.3 1630.8 392.4 1631.5 372.6 1632.3 400.5 1633.0 371.6 1633.8 396.6 1634.5 374.3 1635.2 399.5 1636.0 380.3 1636.7 400.9 1637.5 372.0 1638.2 404.9 1638.9 380.9 1639.7 407.6 1640.4 375.5 1641.2 392.4 1641.9 371.2 1642.7 394.0 1643.4 367.8 1644.1 386.1 1644.9 363.8 1645.6 393.0 1646.4 376.8 1647.1 405.7 1647.8 393.1 1648.6 419.1 1649.3 380.1 1650.1 410.4 1650.8 379.5 1651.5 391.5 1652.3 369.9 1653.0 385.2 1653.8 358.1 1654.5 407.1 1655.2 368.1 1656.0 392.3 1656.7 381.8 1657.5 411.2 1658.2 394.6 1659.0 415.3 1659.7 395.5 1660.4 414.9 1661.2 383.1 1661.9 396.9 1662.7 372.0 1663.4 384.3 1664.1 365.8 1664.9 382.1 1665.6 366.5 1666.4 392.2 1667.1 376.6 1667.8 399.5 1668.6 388.7 1669.3 415.3 1670.1 396.8 1670.8 413.4 1671.5 388.9 1672.3 402.5 1673.0 372.6 1673.8 391.7 1674.5 369.7 1675.3 386.0 1676.0 362.2 1676.7 388.8 1677.5 368.4 1678.2 400.5 1679.0 375.7 1679.7 403.8 1680.4 391.4 1681.2 415.6 1681.9 384.4 1682.7 407.3 1683.4 383.7 1684.1 400.1 1684.9 374.7 1685.6 389.8 1686.4 367.5 1687.1 386.4 1687.9 359.1 1688.6 394.7 1689.3 377.2 1690.1 400.5 1690.8 384.8 1691.6 408.9 1692.3 380.1 1693.0 400.1 1693.8 376.5 1694.5 395.7 1695.3 377.8 1696.0 397.3 1696.7 376.3 1697.5 395.5 1698.2 378.2 1699.0 394.6 1699.7 379.2 1700.4 400.7 1701.2 381.7 1701.9 397.8 1702.7 375.8 1703.4 401.7 1704.2 372.5 1704.9 395.6 1705.6 382.1 1706.4 403.0 1707.1 380.0 1707.9 400.1 1708.6 376.3 1709.3 408.7 1710.1 375.2 1710.8 396.7 1711.6 376.7 1712.3 404.2 1713.0 383.5 1713.8 404.8 1714.5 386.2 1715.3 400.5 1716.0 379.8 1716.8 392.7 1717.5 369.4 1718.2 387.7 1719.0 367.3 1719.7 386.6 1720.5 368.1 1721.2 390.4 1721.9 378.5 1722.7 414.7 1723.4 391.8 1724.2 416.5 1724.9 389.5 1725.6 406.0 1726.4 381.7 1727.1 406.9 1727.9 372.3 1728.6 392.8 1729.3 359.6 1730.1 396.2 1730.8 372.6 1731.6 402.3 1732.3 375.2 1733.1 399.2 1733.8 373.3 1734.5 406.4 1735.3 379.5 1736.0 403.5 1736.8 375.9 1737.5 397.6 1738.2 374.5 1739.0 387.5 1739.7 367.7 1740.5 385.8 1741.2 368.4 1741.9 391.3 1742.7 373.7 1743.4 406.1 1744.2 383.2 1744.9 426.3 1745.7 393.3 1746.4 409.5 1747.1 383.8 1747.9 395.8 1748.6 372.4 1749.4 399.2 1750.1 365.9 1750.8 387.8 1751.6 368.0 1752.3 390.4 1753.1 369.4 1753.8 402.4 1754.5 387.4 1755.3 407.4 1756.0 388.3 1756.8 408.1 1757.5 383.5 1758.2 399.9 1759.0 368.3 1759.7 393.7 1760.5 371.9 1761.2 398.3 1762.0 370.2 1762.7 390.5 1763.4 370.9 1764.2 397.7 1764.9 384.3 1765.7 405.1 1766.4 382.6 1767.1 403.7 1767.9 377.9 1768.6 398.5 1769.4 373.3 1770.1 407.3 1770.8 373.7 1771.6 394.4 1772.3 374.0 1773.1 392.9 1773.8 376.9 1774.5 401.7 1775.3 381.7 1776.0 407.3 1776.8 382.5 1777.5 402.4 1778.3 379.3 1779.0 396.6 1779.7 375.0 1780.5 396.3 1781.2 379.7 1782.0 402.6 1782.7 370.3 1783.4 402.9 1784.2 377.2 1784.9 400.7 1785.7 375.8 1786.4 399.1 1787.1 384.2 1787.9 404.0 1788.6 386.2 1789.4 401.9 1790.1 379.8 1790.9 395.8 1791.6 372.8 1792.3 391.3 1793.1 374.0 1793.8 391.2 1794.6 373.5 1795.3 400.4 1796.0 374.9 1796.8 397.0 1797.5 378.6 1798.3 404.6 1799.0 354.7 1799.7 398.0 1800.5 375.8 1801.2 399.2 1802.0 362.5 1802.7 395.6 1803.4 370.4 1804.2 395.4 1804.9 372.7 1805.7 395.6 1806.4 375.5 1807.2 397.4 1807.9 384.0 1808.6 402.3 1809.4 386.3 1810.1 405.4 1810.9 380.8 1811.6 398.4 1812.3 373.7 1813.1 391.5 1813.8 372.8 1814.6 389.3 1815.3 369.4 1816.0 393.7 1816.8 379.0 1817.5 401.0 1818.3 387.9 1819.0 410.5 1819.8 390.6 1820.5 416.0 1821.2 384.0 1822.0 398.0 1822.7 370.7 1823.5 386.4 1824.2 362.2 1824.9 389.8 1825.7 358.1 1826.4 389.0 1827.2 369.0 1827.9 402.4 1828.6 392.1 1829.4 420.7 1830.1 391.3 1830.9 411.6 1831.6 386.0 1832.3 397.5 1833.1 373.1 1833.8 391.7 1834.6 352.1 1835.3 383.2 1836.1 361.5 1836.8 392.1 1837.5 375.3 1838.3 399.3 1839.0 381.1 1839.8 403.6 1840.5 379.5 1841.2 408.0 1842.0 379.6 1842.7 427.4 1843.5 372.2 1844.2 406.7 1844.9 366.7 1845.7 402.3 1846.4 375.8 1847.2 392.2 1847.9 368.8 1848.6 390.1 1849.4 367.3 1850.1 397.0 1850.9 379.0 1851.6 407.8 1852.4 384.6 1853.1 406.0 1853.8 384.5 1854.6 407.2 1855.3 387.9 1856.1 402.8 1856.8 383.6 1857.5 404.4 1858.3 372.3 1859.0 392.9 1859.8 368.6 1860.5 392.2 1861.2 376.0 1862.0 400.1 1862.7 380.1 1863.5 407.4 1864.2 383.2 1865.0 399.8 1865.7 381.7 1866.4 399.5 1867.2 384.0 1867.9 411.3 1868.7 368.2 1869.4 399.0 1870.1 374.0 1870.9 391.3 1871.6 370.2 1872.4 398.1 1873.1 372.0 1873.8 389.4 1874.6 372.7 1875.3 399.8 1876.1 380.6 1876.8 399.8 1877.5 382.1 1878.3 414.9 1879.0 377.9 1879.8 392.8 1880.5 375.0 1881.3 401.8 1882.0 377.4 1882.7 402.1 1883.5 382.1 1884.2 411.5 1885.0 390.5 1885.7 407.1 1886.4 378.4 1887.2 397.6 1887.9 373.0 1888.7 386.2 1889.4 367.5 1890.1 381.1 1890.9 366.2 1891.6 386.1 1892.4 372.3 1893.1 404.2 1893.8 387.9 1894.6 406.5 1895.3 377.1 1896.1 412.5 1896.8 386.6 1897.6 403.0 1898.3 380.3 1899.0 394.9 1899.8 363.7 1900.5 391.8 1901.3 370.8 1902.0 389.0 1902.7 376.0 1903.5 395.9 1904.2 384.0 1905.0 402.5 1905.7 386.0 1906.4 400.4 1907.2 373.4 1907.9 399.1 1908.7 374.6 1909.4 395.3 1910.2 377.8 1910.9 400.6 1911.6 377.6 1912.4 404.7 1913.1 379.6 1913.9 397.3 1914.6 379.5 1915.3 408.4 1916.1 378.1 1916.8 395.4 1917.6 371.8 1918.3 391.3 1919.0 373.2 1919.8 399.2 1920.5 370.6 1921.3 398.8 1922.0 376.8 1922.7 398.2 1923.5 384.6 1924.2 407.3 1925.0 386.7 1925.7 409.1 1926.5 375.1 1927.2 400.6 1927.9 374.5 1928.7 392.7 1929.4 369.3 1930.2 386.5 1930.9 369.6 1931.6 394.8 1932.4 363.5 1933.1 409.7 1933.9 379.1 1934.6 403.9 1935.3 388.6 1936.1 411.9 1936.8 393.4 1937.6 410.0 1938.3 388.6 1939.1 406.5 1939.8 366.8 1940.5 385.9 1941.3 361.2 1942.0 381.8 1942.8 357.9 1943.5 394.1 1944.2 365.2 1945.0 395.4 1945.7 384.4 1946.5 411.6 1947.2 387.6 1947.9 415.4 1948.7 383.1 1949.4 416.2 1950.2 379.8 1950.9 405.4 1951.6 370.4 1952.4 390.2 1953.1 366.4 1953.9 387.0 1954.6 367.8 1955.4 405.7 1956.1 381.8 1956.8 407.3 1957.6 384.2 1958.3 405.9 1959.1 385.4 1959.8 400.1 1960.5 366.4 1961.3 396.6 1962.0 375.5 1962.8 394.9 1963.5 360.8 1964.2 397.2 1965.0 372.9 1965.7 409.0 1966.5 372.6 1967.2 398.3 1967.9 373.0 1968.7 400.7 1969.4 367.4 1970.2 402.3 1970.9 369.3 1971.7 405.4 1972.4 379.4 1973.1 411.2 1973.9 380.5 1974.6 404.2 1975.4 371.5 1976.1 395.6 1976.8 375.1 1977.6 397.9 1978.3 371.3 1979.1 399.4 1979.8 378.7 1980.5 400.7 1981.3 373.6 1982.0 402.7 1982.8 367.5 1983.5 399.8 1984.3 370.4 1985.0 402.5 1985.7 372.7 1986.5 403.6 1987.2 378.7 1988.0 404.0 1988.7 380.0 1989.4 408.2 1990.2 376.1 1990.9 396.1 1991.7 370.5 1992.4 405.5 1993.1 364.5 1993.9 395.6 1994.6 381.6 1995.4 408.7 1996.1 384.8 1996.8 408.2 1997.6 373.4 1998.3 399.2 1999.1 371.3 1999.8 395.1 2000.6 374.5 2001.3 396.1 2002.0 360.6 2002.8 396.0 2003.5 365.3 2004.3 400.7 2005.0 383.3"/>
<clipPath id="cpc"><rect x="248.3" y="845.3" width="742.6" height="600.9"/></clipPath>
<path clip-path="url(#cpc)" fill="none" stroke="#ff0000" stroke-width="4.6" stroke-linejoin="round" d="M250.5 1037.4 250.6 1039.2 250.8 1041.1 250.9 1043.0 251.1 1044.8 251.2 1046.7 251.4 1048.5 251.5 1050.4 251.7 1052.5 251.8 1054.9 252.0 1057.4 252.1 1059.8 252.3 1062.2 252.4 1064.7 252.6 1067.1 252.7 1069.5 252.9 1072.0 253.0 1074.4 253.2 1076.8 253.3 1079.3 253.5 1081.7 253.6 1084.1 253.8 1086.5 253.9 1089.0 254.1 1091.4 254.2 1093.8 254.4 1096.3 254.5 1098.7 254.6 1101.1 254.8 1103.6 254.9 1106.0 255.1 1107.6 255.2 1109.2 255.4 1110.8 255.5 1112.3 255.7 1113.9 255.8 1115.5 256.0 1117.1 256.1 1118.7 256.3 1120.3 256.4 1121.9 256.6 1123.5 256.7 1125.1 256.9 1126.7 257.0 1128.3 257.2 1129.8 257.3 1131.4 257.5 1133.0 257.6 1134.6 257.8 1136.2 257.9 1137.8 258.1 1139.4 258.2 1141.0 258.3 1142.6 258.5 1144.2 258.6 1145.8 258.8 1147.3 258.9 1148.9 259.1 1150.5 259.2 1152.1 259.4 1153.7 259.5 1155.3 259.7 1156.9 259.8 1157.9 260.0 1158.4 260.1 1158.9 260.3 1159.4 260.4 1159.9 260.6 1160.4 260.7 1160.8 260.9 1161.3 261.0 1161.8 261.2 1162.3 261.3 1162.8 261.5 1163.3 261.6 1163.8 261.8 1164.3 261.9 1164.7 262.1 1165.2 262.2 1165.7 262.3 1166.2 262.5 1166.7 262.6 1167.2 262.8 1167.7 262.9 1168.1 263.1 1168.6 263.2 1169.1 263.4 1169.6 263.5 1168.8 263.7 1168.1 263.8 1167.3 264.0 1166.5 264.1 1165.7 264.3 1165.0 264.4 1164.2 264.6 1163.4 264.7 1162.7 264.9 1161.9 265.0 1161.1 265.2 1160.3 265.3 1159.6 265.5 1158.8 265.6 1158.0 265.8 1157.2 265.9 1156.5 266.0 1155.7 266.2 1154.6 266.3 1153.5 266.5 1152.4 266.6 1151.4 266.8 1150.3 266.9 1149.2 267.1 1148.1 267.2 1147.0 267.4 1145.9 267.5 1144.8 267.7 1143.8 267.8 1142.7 268.0 1141.6 268.1 1140.5 268.3 1139.4 268.4 1138.3 268.6 1137.3 268.7 1136.2 268.9 1135.1 269.0 1135.9 269.2 1137.2 269.3 1138.6 269.5 1140.0 269.6 1141.4 269.8 1142.8 269.9 1144.2 270.0 1145.6 270.2 1147.0 270.3 1148.4 270.5 1149.8 270.6 1151.1 270.8 1152.5 270.9 1153.9 271.1 1155.3 271.2 1156.7 271.4 1158.1 271.5 1159.5 271.7 1160.9 271.8 1162.3 272.0 1163.6 272.1 1164.8 272.3 1165.9 272.4 1167.0 272.6 1168.2 272.7 1169.3 272.9 1170.4 273.0 1171.5 273.2 1172.7 273.3 1173.8 273.5 1174.9 273.6 1176.0 273.7 1177.2 273.9 1178.3 274.0 1179.4 274.2 1180.5 274.3 1181.7 274.5 1182.8 274.6 1183.9 274.8 1185.1 274.9 1186.2 275.1 1187.3 275.2 1188.4 275.4 1189.6 275.5 1190.7 275.7 1191.8 275.8 1192.9 276.0 1194.1 276.1 1195.2 276.3 1196.3 276.4 1197.4 276.6 1197.7 276.7 1198.0 276.9 1198.3 277.0 1198.6 277.2 1198.9 277.3 1199.2 277.5 1199.5 277.6 1199.8 277.7 1200.1 277.9 1200.4 278.0 1200.7 278.2 1201.0 278.3 1201.3 278.5 1201.6 278.6 1201.9 278.8 1202.2 278.9 1202.5 279.1 1202.8 279.2 1203.1 279.4 1203.4 279.5 1203.7 279.7 1204.0 279.8 1204.3 280.0 1204.6 280.1 1204.9 280.3 1205.2 280.4 1205.5 280.6 1205.8 280.7 1206.1 280.9 1206.4 281.0 1206.7 281.2 1207.0 281.3 1207.3 281.4 1207.5 281.6 1207.8 281.7 1208.1 281.9 1208.4 282.0 1208.7 282.2 1209.0 282.3 1209.3 282.5 1209.6 282.6 1209.9 282.8 1210.2 282.9 1210.5 283.1 1210.1 283.2 1209.7 283.4 1209.3 283.5 1208.8 283.7 1208.4 283.8 1208.0 284.0 1207.6 284.1 1207.2 284.3 1206.8 284.4 1206.3 284.6 1205.9 284.7 1205.5 284.9 1205.0 285.0 1204.6 285.2 1204.2 285.3 1203.7 285.4 1203.3 285.6 1202.9 285.7 1202.4 285.9 1202.0 286.0 1201.6 286.2 1201.1 286.3 1200.7 286.5 1200.3 286.6 1199.8 286.8 1199.4 286.9 1198.9 287.1 1198.5 287.2 1198.1 287.4 1197.6 287.5 1197.2 287.7 1196.8 287.8 1196.3 288.0 1195.9 288.1 1195.5 288.3 1195.0 288.4 1194.6 288.6 1194.2 288.7 1193.8 288.9 1193.3 289.0 1192.9 289.1 1192.5 289.3 1192.1 289.4 1192.1 289.6 1192.7 289.7 1193.2 289.9 1193.7 290.0 1194.2 290.2 1194.8 290.3 1195.3 290.5 1195.8 290.6 1196.3 290.8 1196.8 290.9 1197.3 291.1 1197.8 291.2 1198.3 291.4 1198.8 291.5 1199.2 291.7 1199.7 291.8 1200.2 292.0 1200.6 292.1 1201.1 292.3 1201.5 292.4 1202.0 292.6 1202.4 292.7 1202.8 292.9 1203.3 293.0 1203.7 293.1 1204.1 293.3 1204.5 293.4 1204.9 293.6 1205.3 293.7 1205.7 293.9 1206.0 294.0 1206.4 294.2 1206.8 294.3 1207.1 294.5 1207.5 294.6 1207.8 294.8 1208.1 294.9 1208.5 295.1 1208.8 295.2 1209.1 295.4 1209.4 295.5 1209.7 295.7 1210.0 295.8 1210.3 296.0 1210.1 296.1 1209.8 296.3 1209.6 296.4 1209.3 296.6 1209.1 296.7 1208.8 296.8 1208.5 297.0 1208.2 297.1 1207.9 297.3 1207.6 297.4 1207.3 297.6 1207.0 297.7 1206.7 297.9 1206.4 298.0 1206.1 298.2 1205.7 298.3 1205.4 298.5 1205.0 298.6 1204.7 298.8 1204.3 298.9 1204.0 299.1 1203.6 299.2 1203.2 299.4 1202.8 299.5 1202.4 299.7 1202.0 299.8 1201.6 300.0 1201.2 300.1 1200.8 300.3 1200.4 300.4 1199.9 300.6 1199.5 300.7 1199.0 300.8 1198.6 301.0 1198.1 301.1 1197.7 301.3 1197.2 301.4 1196.7 301.6 1196.2 301.7 1195.7 301.9 1195.2 302.0 1194.7 302.2 1194.2 302.3 1193.9 302.5 1194.3 302.6 1194.7 302.8 1195.1 302.9 1195.4 303.1 1195.8 303.2 1196.2 303.4 1196.6 303.5 1197.0 303.7 1197.4 303.8 1197.8 304.0 1198.1 304.1 1198.5 304.3 1198.9 304.4 1199.3 304.5 1199.6 304.7 1200.0 304.8 1200.4 305.0 1200.7 305.1 1201.1 305.3 1201.4 305.4 1201.7 305.6 1202.1 305.7 1202.4 305.9 1202.7 306.0 1203.1 306.2 1203.4 306.3 1203.7 306.5 1204.0 306.6 1204.3 306.8 1204.6 306.9 1204.9 307.1 1205.1 307.2 1205.4 307.4 1205.7 307.5 1205.9 307.7 1206.2 307.8 1206.4 308.0 1206.7 308.1 1206.9 308.3 1207.2 308.4 1207.4 308.5 1207.6 308.7 1207.8 308.8 1207.7 309.0 1207.3 309.1 1207.0 309.3 1206.6 309.4 1206.2 309.6 1205.8 309.7 1205.3 309.9 1204.9 310.0 1204.5 310.2 1204.1 310.3 1203.6 310.5 1203.2 310.6 1202.7 310.8 1202.3 310.9 1201.8 311.1 1201.4 311.2 1200.9 311.4 1200.5 311.5 1200.0 311.7 1199.5 311.8 1199.0 312.0 1198.6 312.1 1198.1 312.2 1197.6 312.4 1197.1 312.5 1196.6 312.7 1196.1 312.8 1195.6 313.0 1195.1 313.1 1194.6 313.3 1194.1 313.4 1193.6 313.6 1193.1 313.7 1192.6 313.9 1192.1 314.0 1191.6 314.2 1191.1 314.3 1190.6 314.5 1190.1 314.6 1189.6 314.8 1189.1 314.9 1188.6 315.1 1188.1 315.2 1187.6 315.4 1188.0 315.5 1188.5 315.7 1189.0 315.8 1189.5 316.0 1190.0 316.1 1190.6 316.2 1191.1 316.4 1191.6 316.5 1192.1 316.7 1192.7 316.8 1193.2 317.0 1193.7 317.1 1194.2 317.3 1194.8 317.4 1195.3 317.6 1195.8 317.7 1196.3 317.9 1196.8 318.0 1197.3 318.2 1197.9 318.3 1198.4 318.5 1198.9 318.6 1199.4 318.8 1199.9 318.9 1200.3 319.1 1200.8 319.2 1201.3 319.4 1201.8 319.5 1202.2 319.7 1202.7 319.8 1203.2 319.9 1203.6 320.1 1204.0 320.2 1204.5 320.4 1204.9 320.5 1205.3 320.7 1205.7 320.8 1206.1 321.0 1206.5 321.1 1206.9 321.3 1207.3 321.4 1207.6 321.6 1208.0 321.7 1208.3 321.9 1208.0 322.0 1207.8 322.2 1207.6 322.3 1207.3 322.5 1207.1 322.6 1206.8 322.8 1206.6 322.9 1206.3 323.1 1206.0 323.2 1205.8 323.4 1205.5 323.5 1205.2 323.7 1204.9 323.8 1204.6 323.9 1204.3 324.1 1204.1 324.2 1203.8 324.4 1203.5 324.5 1203.1 324.7 1202.8 324.8 1202.5 325.0 1202.2 325.1 1201.9 325.3 1201.6 325.4 1201.2 325.6 1200.9 325.7 1200.6 325.9 1200.2 326.0 1199.9 326.2 1199.6 326.3 1199.2 326.5 1198.9 326.6 1198.5 326.8 1198.2 326.9 1197.8 327.1 1197.4 327.2 1197.1 327.4 1196.7 327.5 1196.3 327.6 1195.9 327.8 1195.6 327.9 1195.2 328.1 1194.8 328.2 1194.8 328.4 1195.4 328.5 1195.9 328.7 1196.4 328.8 1196.9 329.0 1197.4 329.1 1197.9 329.3 1198.4 329.4 1198.9 329.6 1199.3 329.7 1199.8 329.9 1200.3 330.0 1200.8 330.2 1201.2 330.3 1201.7 330.5 1202.2 330.6 1202.6 330.8 1203.0 330.9 1203.5 331.1 1203.9 331.2 1204.3 331.4 1204.7 331.5 1205.1 331.6 1205.5 331.8 1205.9 331.9 1206.3 332.1 1206.7 332.2 1207.1 332.4 1207.4 332.5 1207.8 332.7 1208.1 332.8 1208.4 333.0 1208.7 333.1 1209.0 333.3 1209.3 333.4 1209.6 333.6 1209.9 333.7 1210.1 333.9 1210.4 334.0 1210.6 334.2 1210.9 334.3 1211.1 334.5 1211.3 334.6 1211.5 334.8 1211.2 334.9 1210.9 335.1 1210.5 335.2 1210.1 335.3 1209.7 335.5 1209.3 335.6 1208.8 335.8 1208.4 335.9 1208.0 336.1 1207.5 336.2 1207.1 336.4 1206.6 336.5 1206.1 336.7 1205.7 336.8 1205.2 337.0 1204.7 337.1 1204.2 337.3 1203.7 337.4 1203.2 337.6 1202.7 337.7 1202.1 337.9 1201.6 338.0 1201.1 338.2 1200.6 338.3 1200.0 338.5 1199.5 338.6 1199.0 338.8 1198.4 338.9 1197.9 339.1 1197.3 339.2 1196.8 339.3 1196.2 339.5 1195.7 339.6 1195.1 339.8 1194.6 339.9 1194.0 340.1 1193.5 340.2 1192.9 340.4 1192.4 340.5 1191.8 340.7 1191.3 340.8 1190.7 341.0 1190.2 341.1 1189.8 341.3 1190.1 341.4 1190.5 341.6 1190.9 341.7 1191.3 341.9 1191.7 342.0 1192.0 342.2 1192.4 342.3 1192.8 342.5 1193.2 342.6 1193.6 342.8 1194.1 342.9 1194.5 343.1 1194.9 343.2 1195.3 343.3 1195.7 343.5 1196.2 343.6 1196.6 343.8 1197.0 343.9 1197.5 344.1 1197.9 344.2 1198.3 344.4 1198.8 344.5 1199.2 344.7 1199.7 344.8 1200.1 345.0 1200.6 345.1 1201.0 345.3 1201.5 345.4 1201.9 345.6 1202.4 345.7 1202.8 345.9 1203.3 346.0 1203.7 346.2 1204.2 346.3 1204.6 346.5 1205.0 346.6 1205.5 346.8 1205.9 346.9 1206.3 347.0 1206.8 347.2 1207.2 347.3 1207.6 347.5 1208.0 347.6 1208.1 347.8 1208.0 347.9 1207.8 348.1 1207.5 348.2 1207.3 348.4 1207.1 348.5 1206.9 348.7 1206.6 348.8 1206.4 349.0 1206.1 349.1 1205.8 349.3 1205.6 349.4 1205.3 349.6 1205.0 349.7 1204.7 349.9 1204.4 350.0 1204.0 350.2 1203.7 350.3 1203.3 350.5 1203.0 350.6 1202.6 350.8 1202.2 350.9 1201.8 351.0 1201.4 351.2 1201.0 351.3 1200.6 351.5 1200.2 351.6 1199.8 351.8 1199.3 351.9 1198.9 352.1 1198.4 352.2 1198.0 352.4 1197.5 352.5 1197.0 352.7 1196.5 352.8 1196.0 353.0 1195.5 353.1 1195.0 353.3 1194.5 353.4 1194.0 353.6 1193.5 353.7 1192.9 353.9 1192.4 354.0 1191.9 354.2 1192.2 354.3 1192.7 354.5 1193.2 354.6 1193.7 354.7 1194.2 354.9 1194.7 355.0 1195.2 355.2 1195.7 355.3 1196.2 355.5 1196.7 355.6 1197.1 355.8 1197.6 355.9 1198.1 356.1 1198.6 356.2 1199.1 356.4 1199.5 356.5 1200.0 356.7 1200.5 356.8 1200.9 357.0 1201.4 357.1 1201.9 357.3 1202.3 357.4 1202.8 357.6 1203.2 357.7 1203.7 357.9 1204.1 358.0 1204.5 358.2 1205.0 358.3 1205.4 358.5 1205.8 358.6 1206.2 358.7 1206.7 358.9 1207.1 359.0 1207.5 359.2 1207.9 359.3 1208.2 359.5 1208.6 359.6 1209.0 359.8 1209.4 359.9 1209.7 360.1 1210.1 360.2 1210.4 360.4 1210.8 360.5 1211.0 360.7 1210.7 360.8 1210.3 361.0 1210.0 361.1 1209.6 361.3 1209.2 361.4 1208.8 361.6 1208.4 361.7 1208.0 361.9 1207.6 362.0 1207.2 362.2 1206.7 362.3 1206.3 362.4 1205.8 362.6 1205.3 362.7 1204.9 362.9 1204.4 363.0 1203.9 363.2 1203.4 363.3 1202.9 363.5 1202.3 363.6 1201.8 363.8 1201.3 363.9 1200.7 364.1 1200.2 364.2 1199.7 364.4 1199.1 364.5 1198.5 364.7 1198.0 364.8 1197.4 365.0 1196.9 365.1 1196.3 365.3 1195.7 365.4 1195.1 365.6 1194.6 365.7 1194.0 365.9 1193.4 366.0 1192.9 366.2 1192.3 366.3 1191.7 366.4 1191.2 366.6 1190.6 366.7 1190.1 366.9 1189.6 367.0 1189.5 367.2 1190.0 367.3 1190.5 367.5 1191.0 367.6 1191.5 367.8 1192.0 367.9 1192.5 368.1 1193.0 368.2 1193.5 368.4 1194.0 368.5 1194.5 368.7 1195.0 368.8 1195.4 369.0 1195.9 369.1 1196.3 369.3 1196.8 369.4 1197.2 369.6 1197.7 369.7 1198.1 369.9 1198.5 370.0 1198.9 370.1 1199.3 370.3 1199.8 370.4 1200.2 370.6 1200.6 370.7 1201.0 370.9 1201.3 371.0 1201.7 371.2 1202.1 371.3 1202.5 371.5 1202.9 371.6 1203.2 371.8 1203.6 371.9 1204.0 372.1 1204.3 372.2 1204.7 372.4 1205.0 372.5 1205.4 372.7 1205.7 372.8 1206.0 373.0 1206.4 373.1 1206.7 373.3 1207.1 373.4 1207.4 373.6 1207.3 373.7 1207.1 373.9 1206.9 374.0 1206.8 374.1 1206.6 374.3 1206.4 374.4 1206.2 374.6 1206.0 374.7 1205.8 374.9 1205.6 375.0 1205.4 375.2 1205.2 375.3 1204.9 375.5 1204.7 375.6 1204.5 375.8 1204.2 375.9 1204.0 376.1 1203.7 376.2 1203.5 376.4 1203.2 376.5 1202.9 376.7 1202.7 376.8 1202.4 377.0 1202.1 377.1 1201.7 377.3 1201.4 377.4 1201.1 377.6 1200.7 377.7 1200.4 377.8 1200.0 378.0 1199.6 378.1 1199.3 378.3 1198.9 378.4 1198.4 378.6 1198.0 378.7 1197.6 378.9 1197.2 379.0 1196.7 379.2 1196.3 379.3 1195.8 379.5 1195.3 379.6 1194.8 379.8 1194.3 379.9 1194.0 380.1 1194.4 380.2 1194.9 380.4 1195.3 380.5 1195.8 380.7 1196.2 380.8 1196.7 381.0 1197.1 381.1 1197.6 381.3 1198.0 381.4 1198.5 381.6 1198.9 381.7 1199.3 381.8 1199.7 382.0 1200.2 382.1 1200.6 382.3 1201.0 382.4 1201.4 382.6 1201.8 382.7 1202.2 382.9 1202.6 383.0 1202.9 383.2 1203.3 383.3 1203.7 383.5 1204.0 383.6 1204.4 383.8 1204.7 383.9 1205.0 384.1 1205.3 384.2 1205.7 384.4 1206.0 384.5 1206.2 384.7 1206.5 384.8 1206.8 385.0 1207.1 385.1 1207.3 385.3 1207.6 385.4 1207.8 385.5 1208.0 385.7 1208.3 385.8 1208.5 386.0 1208.7 386.1 1208.9 386.3 1209.1 386.4 1209.0 386.6 1208.5 386.7 1208.1 386.9 1207.7 387.0 1207.2 387.2 1206.8 387.3 1206.3 387.5 1205.9 387.6 1205.4 387.8 1205.0 387.9 1204.5 388.1 1204.0 388.2 1203.6 388.4 1203.1 388.5 1202.6 388.7 1202.2 388.8 1201.7 389.0 1201.2 389.1 1200.7 389.3 1200.2 389.4 1199.7 389.5 1199.3 389.7 1198.8 389.8 1198.3 390.0 1197.8 390.1 1197.3 390.3 1196.8 390.4 1196.3 390.6 1195.8 390.7 1195.3 390.9 1194.8 391.0 1194.3 391.2 1193.8 391.3 1193.3 391.5 1192.8 391.6 1192.3 391.8 1191.8 391.9 1191.3 392.1 1190.8 392.2 1190.3 392.4 1189.8 392.5 1189.2 392.7 1188.7 392.8 1188.2 393.0 1188.5 393.1 1189.0 393.2 1189.5 393.4 1190.0 393.5 1190.5 393.7 1191.0 393.8 1191.5 394.0 1192.1 394.1 1192.6 394.3 1193.1 394.4 1193.7 394.6 1194.2 394.7 1194.7 394.9 1195.3 395.0 1195.8 395.2 1196.3 395.3 1196.9 395.5 1197.4 395.6 1198.0 395.8 1198.5 395.9 1199.0 396.1 1199.6 396.2 1200.1 396.4 1200.6 396.5 1201.2 396.7 1201.7 396.8 1202.2 397.0 1202.7 397.1 1203.3 397.2 1203.8 397.4 1204.3 397.5 1204.8 397.7 1205.3 397.8 1205.8 398.0 1206.2 398.1 1206.7 398.3 1207.2 398.4 1207.6 398.6 1208.1 398.7 1208.5 398.9 1209.0 399.0 1209.4 399.2 1209.8 399.3 1210.1 399.5 1209.8 399.6 1209.5 399.8 1209.1 399.9 1208.8 400.1 1208.4 400.2 1208.0 400.4 1207.6 400.5 1207.2 400.7 1206.8 400.8 1206.4 400.9 1205.9 401.1 1205.5 401.2 1205.0 401.4 1204.6 401.5 1204.1 401.7 1203.6 401.8 1203.1 402.0 1202.6 402.1 1202.1 402.3 1201.5 402.4 1201.0 402.6 1200.5 402.7 1199.9 402.9 1199.4 403.0 1198.8 403.2 1198.2 403.3 1197.7 403.5 1197.1 403.6 1196.6 403.8 1196.0 403.9 1195.4 404.1 1194.8 404.2 1194.3 404.4 1193.7 404.5 1193.1 404.7 1192.6 404.8 1192.0 404.9 1191.4 405.1 1190.9 405.2 1190.3 405.4 1189.8 405.5 1189.2 405.7 1188.7 405.8 1188.6 406.0 1189.2 406.1 1189.8 406.3 1190.3 406.4 1190.9 406.6 1191.5 406.7 1192.0 406.9 1192.5 407.0 1193.1 407.2 1193.6 407.3 1194.1 407.5 1194.6 407.6 1195.1 407.8 1195.5 407.9 1196.0 408.1 1196.5 408.2 1196.9 408.4 1197.4 408.5 1197.8 408.6 1198.2 408.8 1198.6 408.9 1199.0 409.1 1199.4 409.2 1199.8 409.4 1200.2 409.5 1200.5 409.7 1200.9 409.8 1201.2 410.0 1201.6 410.1 1201.9 410.3 1202.2 410.4 1202.5 410.6 1202.8 410.7 1203.1 410.9 1203.4 411.0 1203.6 411.2 1203.9 411.3 1204.2 411.5 1204.4 411.6 1204.6 411.8 1204.9 411.9 1205.1 412.1 1205.3 412.2 1205.5 412.4 1205.3 412.5 1205.0 412.6 1204.7 412.8 1204.3 412.9 1204.0 413.1 1203.7 413.2 1203.3 413.4 1203.0 413.5 1202.7 413.7 1202.3 413.8 1202.0 414.0 1201.6 414.1 1201.3 414.3 1200.9 414.4 1200.5 414.6 1200.2 414.7 1199.8 414.9 1199.4 415.0 1199.1 415.2 1198.7 415.3 1198.3 415.5 1197.9 415.6 1197.5 415.8 1197.2 415.9 1196.8 416.1 1196.4 416.2 1196.0 416.3 1195.6 416.5 1195.2 416.6 1194.7 416.8 1194.3 416.9 1193.9 417.1 1193.5 417.2 1193.1 417.4 1192.7 417.5 1192.2 417.7 1191.8 417.8 1191.4 418.0 1190.9 418.1 1190.5 418.3 1190.0 418.4 1189.6 418.6 1189.1 418.7 1188.8 418.9 1189.2 419.0 1189.7 419.2 1190.1 419.3 1190.6 419.5 1191.0 419.6 1191.5 419.8 1191.9 419.9 1192.4 420.1 1192.8 420.2 1193.3 420.3 1193.8 420.5 1194.2 420.6 1194.7 420.8 1195.2 420.9 1195.6 421.1 1196.1 421.2 1196.6 421.4 1197.0 421.5 1197.5 421.7 1198.0 421.8 1198.4 422.0 1198.9 422.1 1199.4 422.3 1199.8 422.4 1200.3 422.6 1200.7 422.7 1201.2 422.9 1201.6 423.0 1202.1 423.2 1202.5 423.3 1202.9 423.5 1203.4 423.6 1203.8 423.8 1204.2 423.9 1204.6 424.0 1205.0 424.2 1205.4 424.3 1205.8 424.5 1206.2 424.6 1206.6 424.8 1206.9 424.9 1207.3 425.1 1207.6 425.2 1207.7 425.4 1207.5 425.5 1207.2 425.7 1206.9 425.8 1206.6 426.0 1206.4 426.1 1206.1 426.3 1205.7 426.4 1205.4 426.6 1205.1 426.7 1204.8 426.9 1204.4 427.0 1204.1 427.2 1203.7 427.3 1203.4 427.5 1203.0 427.6 1202.6 427.8 1202.2 427.9 1201.8 428.0 1201.5 428.2 1201.1 428.3 1200.7 428.5 1200.2 428.6 1199.8 428.8 1199.4 428.9 1199.0 429.1 1198.6 429.2 1198.2 429.4 1197.7 429.5 1197.3 429.7 1196.9 429.8 1196.4 430.0 1196.0 430.1 1195.5 430.3 1195.1 430.4 1194.6 430.6 1194.2 430.7 1193.8 430.9 1193.3 431.0 1192.9 431.2 1192.4 431.3 1192.0 431.5 1191.5 431.6 1191.1 431.7 1191.4 431.9 1191.9 432.0 1192.4 432.2 1193.0 432.3 1193.5 432.5 1194.0 432.6 1194.6 432.8 1195.1 432.9 1195.6 433.1 1196.2 433.2 1196.7 433.4 1197.2 433.5 1197.7 433.7 1198.2 433.8 1198.7 434.0 1199.2 434.1 1199.7 434.3 1200.2 434.4 1200.7 434.6 1201.2 434.7 1201.6 434.9 1202.1 435.0 1202.6 435.2 1203.0 435.3 1203.5 435.5 1203.9 435.6 1204.4 435.7 1204.8 435.9 1205.2 436.0 1205.7 436.2 1206.1 436.3 1206.5 436.5 1206.9 436.6 1207.3 436.8 1207.7 436.9 1208.0 437.1 1208.4 437.2 1208.8 437.4 1209.1 437.5 1209.5 437.7 1209.8 437.8 1210.2 438.0 1210.5 438.1 1210.8 438.3 1210.5 438.4 1210.2 438.6 1209.8 438.7 1209.5 438.9 1209.2 439.0 1208.9 439.2 1208.5 439.3 1208.1 439.5 1207.8 439.6 1207.4 439.7 1207.0 439.9 1206.6 440.0 1206.2 440.2 1205.8 440.3 1205.4 440.5 1204.9 440.6 1204.5 440.8 1204.0 440.9 1203.6 441.1 1203.1 441.2 1202.6 441.4 1202.1 441.5 1201.6 441.7 1201.1 441.8 1200.6 442.0 1200.1 442.1 1199.6 442.3 1199.0 442.4 1198.5 442.6 1197.9 442.7 1197.4 442.9 1196.8 443.0 1196.2 443.2 1195.7 443.3 1195.1 443.4 1194.5 443.6 1193.9 443.7 1193.3 443.9 1192.7 444.0 1192.1 444.2 1191.4 444.3 1190.8 444.5 1190.2 444.6 1190.1 444.8 1190.6 444.9 1191.1 445.1 1191.7 445.2 1192.2 445.4 1192.8 445.5 1193.4 445.7 1193.9 445.8 1194.5 446.0 1195.1 446.1 1195.7 446.3 1196.3 446.4 1196.9 446.6 1197.5 446.7 1198.1 446.9 1198.7 447.0 1199.3 447.2 1199.9 447.3 1200.5 447.4 1201.1 447.6 1201.7 447.7 1202.3 447.9 1202.9 448.0 1203.5 448.2 1204.1 448.3 1204.7 448.5 1205.3 448.6 1205.9 448.8 1206.5 448.9 1207.1 449.1 1207.7 449.2 1208.2 449.4 1208.8 449.5 1209.4 449.7 1209.9 449.8 1210.5 450.0 1211.0 450.1 1211.6 450.3 1212.1 450.4 1212.6 450.6 1213.1 450.7 1213.6 450.9 1214.1 451.0 1214.6 451.1 1214.5 451.3 1214.1 451.4 1213.8 451.6 1213.4 451.7 1213.0 451.9 1212.7 452.0 1212.3 452.2 1211.9 452.3 1211.4 452.5 1211.0 452.6 1210.6 452.8 1210.1 452.9 1209.7 453.1 1209.2 453.2 1208.7 453.4 1208.2 453.5 1207.7 453.7 1207.2 453.8 1206.7 454.0 1206.2 454.1 1205.7 454.3 1205.1 454.4 1204.6 454.6 1204.0 454.7 1203.5 454.9 1202.9 455.0 1202.3 455.1 1201.8 455.3 1201.2 455.4 1200.6 455.6 1200.0 455.7 1199.4 455.9 1198.8 456.0 1198.2 456.2 1197.7 456.3 1197.1 456.5 1196.5 456.6 1195.9 456.8 1195.3 456.9 1194.7 457.1 1194.1 457.2 1193.5 457.4 1192.9 457.5 1192.4 457.7 1193.0 457.8 1193.6 458.0 1194.2 458.1 1194.8 458.3 1195.4 458.4 1196.0 458.6 1196.6 458.7 1197.2 458.8 1197.7 459.0 1198.3 459.1 1198.8 459.3 1199.4 459.4 1199.9 459.6 1200.5 459.7 1201.0 459.9 1201.5 460.0 1202.0 460.2 1202.6 460.3 1203.1 460.5 1203.6 460.6 1204.1 460.8 1204.6 460.9 1205.0 461.1 1205.5 461.2 1206.0 461.4 1206.5 461.5 1206.9 461.7 1207.4 461.8 1207.9 462.0 1208.3 462.1 1208.8 462.3 1209.2 462.4 1209.6 462.6 1210.1 462.7 1210.5 462.8 1210.9 463.0 1211.4 463.1 1211.8 463.3 1212.2 463.4 1212.6 463.6 1213.0 463.7 1213.4 463.9 1213.8 464.0 1213.9 464.2 1213.6 464.3 1213.3 464.5 1212.9 464.6 1212.6 464.8 1212.3 464.9 1211.9 465.1 1211.5 465.2 1211.2 465.4 1210.8 465.5 1210.4 465.7 1210.0 465.8 1209.6 466.0 1209.2 466.1 1208.8 466.3 1208.4 466.4 1207.9 466.5 1207.5 466.7 1207.0 466.8 1206.6 467.0 1206.1 467.1 1205.6 467.3 1205.1 467.4 1204.6 467.6 1204.1 467.7 1203.6 467.9 1203.1 468.0 1202.6 468.2 1202.1 468.3 1201.5 468.5 1201.0 468.6 1200.4 468.8 1199.9 468.9 1199.3 469.1 1198.7 469.2 1198.1 469.4 1197.6 469.5 1197.0 469.7 1196.4 469.8 1195.8 470.0 1195.2 470.1 1194.6 470.3 1194.0 470.4 1193.4 470.5 1193.7 470.7 1194.3 470.8 1194.9 471.0 1195.5 471.1 1196.1 471.3 1196.7 471.4 1197.3 471.6 1197.9 471.7 1198.5 471.9 1199.1 472.0 1199.7 472.2 1200.3 472.3 1200.8 472.5 1201.4 472.6 1202.0 472.8 1202.5 472.9 1203.1 473.1 1203.7 473.2 1204.2 473.4 1204.7 473.5 1205.3 473.7 1205.8 473.8 1206.3 474.0 1206.9 474.1 1207.4 474.2 1207.9 474.4 1208.4 474.5 1208.9 474.7 1209.4 474.8 1209.8 475.0 1210.3 475.1 1210.8 475.3 1211.2 475.4 1211.7 475.6 1212.1 475.7 1212.6 475.9 1213.0 476.0 1213.4 476.2 1213.9 476.3 1214.3 476.5 1214.7 476.6 1215.1 476.8 1215.4 476.9 1215.8 477.1 1215.4 477.2 1215.1 477.4 1214.7 477.5 1214.4 477.7 1214.0 477.8 1213.6 478.0 1213.2 478.1 1212.8 478.2 1212.4 478.4 1212.0 478.5 1211.6 478.7 1211.1 478.8 1210.7 479.0 1210.3 479.1 1209.8 479.3 1209.4 479.4 1208.9 479.6 1208.4 479.7 1207.9 479.9 1207.5 480.0 1207.0 480.2 1206.5 480.3 1206.0 480.5 1205.5 480.6 1204.9 480.8 1204.4 480.9 1203.9 481.1 1203.4 481.2 1202.8 481.4 1202.3 481.5 1201.7 481.7 1201.2 481.8 1200.6 481.9 1200.1 482.1 1199.5 482.2 1198.9 482.4 1198.4 482.5 1197.8 482.7 1197.2 482.8 1196.7 483.0 1196.1 483.1 1195.5 483.3 1194.9 483.4 1194.8 483.6 1195.4 483.7 1195.9 483.9 1196.5 484.0 1197.0 484.2 1197.5 484.3 1198.1 484.5 1198.6 484.6 1199.1 484.8 1199.6 484.9 1200.1 485.1 1200.5 485.2 1201.0 485.4 1201.5 485.5 1201.9 485.7 1202.4 485.8 1202.8 485.9 1203.2 486.1 1203.6 486.2 1204.0 486.4 1204.4 486.5 1204.8 486.7 1205.1 486.8 1205.5 487.0 1205.8 487.1 1206.1 487.3 1206.4 487.4 1206.7 487.6 1207.0 487.7 1207.3 487.9 1207.6 488.0 1207.8 488.2 1208.0 488.3 1208.3 488.5 1208.5 488.6 1208.7 488.8 1208.9 488.9 1209.1 489.1 1209.2 489.2 1209.4 489.4 1209.5 489.5 1209.7 489.6 1209.8 489.8 1209.9 489.9 1209.6 490.1 1209.1 490.2 1208.6 490.4 1208.1 490.5 1207.7 490.7 1207.2 490.8 1206.7 491.0 1206.2 491.1 1205.7 491.3 1205.2 491.4 1204.6 491.6 1204.1 491.7 1203.6 491.9 1203.1 492.0 1202.6 492.2 1202.1 492.3 1201.6 492.5 1201.1 492.6 1200.6 492.8 1200.1 492.9 1199.6 493.1 1199.1 493.2 1198.6 493.4 1198.1 493.5 1197.6 493.6 1197.1 493.8 1196.6 493.9 1196.1 494.1 1195.6 494.2 1195.1 494.4 1194.6 494.5 1194.2 494.7 1193.7 494.8 1193.2 495.0 1192.8 495.1 1192.3 495.3 1191.9 495.4 1191.4 495.6 1191.0 495.7 1190.6 495.9 1190.1 496.0 1189.7 496.2 1189.3 496.3 1188.9 496.5 1189.3 496.6 1189.7 496.8 1190.1 496.9 1190.5 497.1 1190.9 497.2 1191.3 497.3 1191.7 497.5 1192.1 497.6 1192.5 497.8 1192.9 497.9 1193.3 498.1 1193.8 498.2 1194.2 498.4 1194.6 498.5 1195.0 498.7 1195.4 498.8 1195.8 499.0 1196.2 499.1 1196.6 499.3 1197.0 499.4 1197.4 499.6 1197.8 499.7 1198.2 499.9 1198.6 500.0 1199.0 500.2 1199.4 500.3 1199.8 500.5 1200.2 500.6 1200.7 500.8 1201.1 500.9 1201.5 501.1 1201.9 501.2 1202.3 501.3 1202.7 501.5 1203.1 501.6 1203.5 501.8 1203.9 501.9 1204.3 502.1 1204.7 502.2 1205.2 502.4 1205.6 502.5 1206.0 502.7 1206.4 502.8 1206.6 503.0 1206.4 503.1 1206.3 503.3 1206.2 503.4 1206.0 503.6 1205.9 503.7 1205.7 503.9 1205.5 504.0 1205.3 504.2 1205.1 504.3 1204.9 504.5 1204.7 504.6 1204.5 504.8 1204.2 504.9 1204.0 505.0 1203.7 505.2 1203.5 505.3 1203.2 505.5 1202.9 505.6 1202.6 505.8 1202.2 505.9 1201.9 506.1 1201.6 506.2 1201.2 506.4 1200.8 506.5 1200.4 506.7 1200.1 506.8 1199.7 507.0 1199.2 507.1 1198.8 507.3 1198.4 507.4 1197.9 507.6 1197.5 507.7 1197.0 507.9 1196.6 508.0 1196.1 508.2 1195.6 508.3 1195.1 508.5 1194.6 508.6 1194.1 508.8 1193.6 508.9 1193.1 509.0 1192.6 509.2 1192.1 509.3 1192.4 509.5 1192.9 509.6 1193.5 509.8 1194.0 509.9 1194.6 510.1 1195.2 510.2 1195.7 510.4 1196.3 510.5 1196.8 510.7 1197.4 510.8 1197.9 511.0 1198.5 511.1 1199.0 511.3 1199.6 511.4 1200.1 511.6 1200.6 511.7 1201.1 511.9 1201.6 512.0 1202.2 512.2 1202.7 512.3 1203.1 512.5 1203.6 512.6 1204.1 512.7 1204.6 512.9 1205.0 513.0 1205.5 513.2 1205.9 513.3 1206.3 513.5 1206.8 513.6 1207.2 513.8 1207.6 513.9 1207.9 514.1 1208.3 514.2 1208.7 514.4 1209.0 514.5 1209.4 514.7 1209.7 514.8 1210.0 515.0 1210.3 515.1 1210.6 515.3 1210.9 515.4 1211.2 515.6 1211.4 515.7 1211.7 515.9 1211.3 516.0 1210.9 516.2 1210.6 516.3 1210.2 516.5 1209.8 516.6 1209.4 516.7 1209.0 516.9 1208.6 517.0 1208.2 517.2 1207.8 517.3 1207.4 517.5 1207.0 517.6 1206.6 517.8 1206.2 517.9 1205.8 518.1 1205.3 518.2 1204.9 518.4 1204.5 518.5 1204.1 518.7 1203.6 518.8 1203.2 519.0 1202.8 519.1 1202.3 519.3 1201.9 519.4 1201.4 519.6 1201.0 519.7 1200.6 519.9 1200.1 520.0 1199.7 520.2 1199.3 520.3 1198.9 520.4 1198.4 520.6 1198.0 520.7 1197.6 520.9 1197.2 521.0 1196.8 521.2 1196.3 521.3 1195.9 521.5 1195.5 521.6 1195.1 521.8 1194.7 521.9 1194.3 522.1 1194.0 522.2 1193.9 522.4 1194.3 522.5 1194.7 522.7 1195.1 522.8 1195.5 523.0 1195.9 523.1 1196.3 523.3 1196.7 523.4 1197.1 523.6 1197.5 523.7 1197.9 523.9 1198.2 524.0 1198.6 524.2 1199.0 524.3 1199.4 524.4 1199.7 524.6 1200.1 524.7 1200.4 524.9 1200.8 525.0 1201.2 525.2 1201.5 525.3 1201.9 525.5 1202.2 525.6 1202.6 525.8 1202.9 525.9 1203.2 526.1 1203.6 526.2 1203.9 526.4 1204.3 526.5 1204.6 526.7 1204.9 526.8 1205.2 527.0 1205.6 527.1 1205.9 527.3 1206.2 527.4 1206.5 527.6 1206.8 527.7 1207.2 527.9 1207.5 528.0 1207.8 528.1 1208.1 528.3 1208.4 528.4 1208.7 528.6 1209.0 528.7 1209.0 528.9 1208.9 529.0 1208.7 529.2 1208.6 529.3 1208.4 529.5 1208.3 529.6 1208.1 529.8 1208.0 529.9 1207.8 530.1 1207.7 530.2 1207.5 530.4 1207.3 530.5 1207.1 530.7 1206.9 530.8 1206.7 531.0 1206.5 531.1 1206.3 531.3 1206.1 531.4 1205.9 531.6 1205.6 531.7 1205.4 531.9 1205.2 532.0 1204.9 532.1 1204.6 532.3 1204.4 532.4 1204.1 532.6 1203.8 532.7 1203.5 532.9 1203.2 533.0 1202.9 533.2 1202.6 533.3 1202.3 533.5 1201.9 533.6 1201.6 533.8 1201.3 533.9 1200.9 534.1 1200.6 534.2 1200.2 534.4 1199.8 534.5 1199.4 534.7 1199.1 534.8 1198.7 535.0 1198.3 535.1 1197.9 535.3 1198.3 535.4 1198.7 535.6 1199.1 535.7 1199.4 535.9 1199.8 536.0 1200.2 536.1 1200.6 536.3 1200.9 536.4 1201.3 536.6 1201.6 536.7 1202.0 536.9 1202.3 537.0 1202.7 537.2 1203.0 537.3 1203.4 537.5 1203.7 537.6 1204.0 537.8 1204.3 537.9 1204.6 538.1 1204.9 538.2 1205.2 538.4 1205.5 538.5 1205.8 538.7 1206.1 538.8 1206.3 539.0 1206.6 539.1 1206.8 539.3 1207.1 539.4 1207.3 539.6 1207.5 539.7 1207.8 539.8 1208.0 540.0 1208.2 540.1 1208.4 540.3 1208.6 540.4 1208.8 540.6 1208.9 540.7 1209.1 540.9 1209.3 541.0 1209.4 541.2 1209.6 541.3 1209.7 541.5 1209.8 541.6 1209.8 541.8 1209.5 541.9 1209.1 542.1 1208.8 542.2 1208.4 542.4 1208.1 542.5 1207.7 542.7 1207.4 542.8 1207.0 543.0 1206.7 543.1 1206.3 543.3 1206.0 543.4 1205.6 543.6 1205.2 543.7 1204.9 543.8 1204.5 544.0 1204.1 544.1 1203.8 544.3 1203.4 544.4 1203.0 544.6 1202.7 544.7 1202.3 544.9 1201.9 545.0 1201.6 545.2 1201.2 545.3 1200.8 545.5 1200.5 545.6 1200.1 545.8 1199.7 545.9 1199.3 546.1 1199.0 546.2 1198.6 546.4 1198.2 546.5 1197.9 546.7 1197.5 546.8 1197.2 547.0 1196.8 547.1 1196.4 547.3 1196.1 547.4 1195.7 547.5 1195.3 547.7 1195.0 547.8 1194.6 548.0 1194.3 548.1 1194.4 548.3 1194.8 548.4 1195.1 548.6 1195.5 548.7 1195.8 548.9 1196.2 549.0 1196.5 549.2 1196.9 549.3 1197.2 549.5 1197.6 549.6 1197.9 549.8 1198.3 549.9 1198.6 550.1 1199.0 550.2 1199.3 550.4 1199.7 550.5 1200.1 550.7 1200.4 550.8 1200.8 551.0 1201.1 551.1 1201.5 551.3 1201.8 551.4 1202.2 551.5 1202.6 551.7 1202.9 551.8 1203.3 552.0 1203.6 552.1 1204.0 552.3 1204.3 552.4 1204.7 552.6 1205.0 552.7 1205.4 552.9 1205.7 553.0 1206.1 553.2 1206.4 553.3 1206.7 553.5 1207.1 553.6 1207.4 553.8 1207.8 553.9 1208.1 554.1 1208.4 554.2 1208.7 554.4 1209.1 554.5 1209.4 554.7 1209.2 554.8 1209.1 555.0 1209.0 555.1 1208.8 555.2 1208.7 555.4 1208.5 555.5 1208.4 555.7 1208.2 555.8 1208.0 556.0 1207.9 556.1 1207.7 556.3 1207.5 556.4 1207.3 556.6 1207.1 556.7 1206.9 556.9 1206.7 557.0 1206.5 557.2 1206.3 557.3 1206.1 557.5 1205.8 557.6 1205.6 557.8 1205.4 557.9 1205.1 558.1 1204.9 558.2 1204.6 558.4 1204.4 558.5 1204.1 558.7 1203.9 558.8 1203.6 559.0 1203.3 559.1 1203.0 559.2 1202.8 559.4 1202.5 559.5 1202.2 559.7 1201.9 559.8 1201.6 560.0 1201.3 560.1 1201.0 560.3 1200.7 560.4 1200.4 560.6 1200.1 560.7 1199.7 560.9 1199.4 561.0 1199.4 561.2 1199.8 561.3 1200.2 561.5 1200.7 561.6 1201.1 561.8 1201.5 561.9 1201.9 562.1 1202.3 562.2 1202.7 562.4 1203.1 562.5 1203.5 562.7 1203.8 562.8 1204.2 562.9 1204.6 563.1 1204.9 563.2 1205.2 563.4 1205.6 563.5 1205.9 563.7 1206.2 563.8 1206.5 564.0 1206.8 564.1 1207.1 564.3 1207.4 564.4 1207.7 564.6 1207.9 564.7 1208.2 564.9 1208.4 565.0 1208.7 565.2 1208.9 565.3 1209.1 565.5 1209.3 565.6 1209.5 565.8 1209.7 565.9 1209.9 566.1 1210.1 566.2 1210.3 566.4 1210.4 566.5 1210.6 566.7 1210.7 566.8 1210.9 566.9 1211.0 567.1 1211.1 567.2 1211.3 567.4 1211.4 567.5 1211.2 567.7 1210.9 567.8 1210.5 568.0 1210.2 568.1 1209.9 568.3 1209.5 568.4 1209.2 568.6 1208.8 568.7 1208.5 568.9 1208.1 569.0 1207.8 569.2 1207.4 569.3 1207.0 569.5 1206.7 569.6 1206.3 569.8 1205.9 569.9 1205.6 570.1 1205.2 570.2 1204.8 570.4 1204.4 570.5 1204.0 570.6 1203.6 570.8 1203.2 570.9 1202.8 571.1 1202.4 571.2 1202.1 571.4 1201.7 571.5 1201.3 571.7 1200.9 571.8 1200.5 572.0 1200.1 572.1 1199.7 572.3 1199.3 572.4 1198.9 572.6 1198.4 572.7 1198.0 572.9 1197.6 573.0 1197.2 573.2 1196.8 573.3 1196.4 573.5 1196.1 573.6 1195.7 573.8 1195.3 573.9 1194.9 574.1 1195.2 574.2 1195.6 574.4 1195.9 574.5 1196.2 574.6 1196.6 574.8 1196.9 574.9 1197.3 575.1 1197.6 575.2 1198.0 575.4 1198.3 575.5 1198.7 575.7 1199.0 575.8 1199.4 576.0 1199.7 576.1 1200.1 576.3 1200.4 576.4 1200.8 576.6 1201.1 576.7 1201.4 576.9 1201.8 577.0 1202.1 577.2 1202.4 577.3 1202.8 577.5 1203.1 577.6 1203.4 577.8 1203.7 577.9 1204.0 578.1 1204.3 578.2 1204.6 578.3 1204.9 578.5 1205.2 578.6 1205.5 578.8 1205.8 578.9 1206.1 579.1 1206.3 579.2 1206.6 579.4 1206.8 579.5 1207.1 579.7 1207.3 579.8 1207.5 580.0 1207.8 580.1 1208.0 580.3 1208.2 580.4 1208.2 580.6 1208.1 580.7 1207.8 580.9 1207.6 581.0 1207.4 581.2 1207.2 581.3 1207.0 581.5 1206.8 581.6 1206.6 581.8 1206.3 581.9 1206.1 582.1 1205.9 582.2 1205.7 582.3 1205.4 582.5 1205.2 582.6 1205.0 582.8 1204.7 582.9 1204.5 583.1 1204.2 583.2 1204.0 583.4 1203.7 583.5 1203.5 583.7 1203.2 583.8 1203.0 584.0 1202.7 584.1 1202.5 584.3 1202.2 584.4 1202.0 584.6 1201.7 584.7 1201.5 584.9 1201.2 585.0 1201.0 585.2 1200.7 585.3 1200.5 585.5 1200.2 585.6 1200.0 585.8 1199.7 585.9 1199.5 586.0 1199.2 586.2 1198.9 586.3 1198.7 586.5 1198.4 586.6 1198.2 586.8 1197.9 586.9 1198.0 587.1 1198.3 587.2 1198.6 587.4 1198.8 587.5 1199.1 587.7 1199.3 587.8 1199.6 588.0 1199.8 588.1 1200.1 588.3 1200.3 588.4 1200.6 588.6 1200.8 588.7 1201.0 588.9 1201.3 589.0 1201.5 589.2 1201.8 589.3 1202.0 589.5 1202.2 589.6 1202.5 589.8 1202.7 589.9 1202.9 590.0 1203.2 590.2 1203.4 590.3 1203.6 590.5 1203.8 590.6 1204.1 590.8 1204.3 590.9 1204.5 591.1 1204.8 591.2 1205.0 591.4 1205.3 591.5 1205.5 591.7 1205.7 591.8 1206.0 592.0 1206.2 592.1 1206.4 592.3 1206.7 592.4 1206.9 592.6 1207.2 592.7 1207.4 592.9 1207.6 593.0 1207.9 593.2 1208.1 593.3 1208.4 593.5 1208.3 593.6 1208.2 593.7 1208.1 593.9 1208.0 594.0 1208.0 594.2 1207.9 594.3 1207.8 594.5 1207.7 594.6 1207.6 594.8 1207.4 594.9 1207.3 595.1 1207.2 595.2 1207.1 595.4 1207.0 595.5 1206.8 595.7 1206.7 595.8 1206.5 596.0 1206.4 596.1 1206.2 596.3 1206.0 596.4 1205.9 596.6 1205.7 596.7 1205.5 596.9 1205.3 597.0 1205.1 597.2 1204.9 597.3 1204.7 597.5 1204.4 597.6 1204.2 597.7 1203.9 597.9 1203.7 598.0 1203.4 598.2 1203.2 598.3 1202.9 598.5 1202.6 598.6 1202.3 598.8 1202.0 598.9 1201.7 599.1 1201.4 599.2 1201.1 599.4 1200.7 599.5 1200.4 599.7 1200.1 599.8 1199.9 600.0 1200.2 600.1 1200.5 600.3 1200.7 600.4 1201.0 600.6 1201.2 600.7 1201.5 600.9 1201.7 601.0 1202.0 601.2 1202.2 601.3 1202.4 601.4 1202.7 601.6 1202.9 601.7 1203.1 601.9 1203.3 602.0 1203.5 602.2 1203.7 602.3 1203.9 602.5 1204.0 602.6 1204.2 602.8 1204.4 602.9 1204.5 603.1 1204.7 603.2 1204.8 603.4 1205.0 603.5 1205.1 603.7 1205.3 603.8 1205.4 604.0 1205.5 604.1 1205.6 604.3 1205.7 604.4 1205.9 604.6 1206.0 604.7 1206.1 604.9 1206.2 605.0 1206.3 605.2 1206.4 605.3 1206.4 605.4 1206.5 605.6 1206.6 605.7 1206.7 605.9 1206.8 606.0 1206.9 606.2 1206.9 606.3 1206.7 606.5 1206.4 606.6 1206.1 606.8 1205.8 606.9 1205.4 607.1 1205.1 607.2 1204.8 607.4 1204.5 607.5 1204.1 607.7 1203.8 607.8 1203.5 608.0 1203.1 608.1 1202.8 608.3 1202.5 608.4 1202.2 608.6 1201.8 608.7 1201.5 608.9 1201.2 609.0 1200.9 609.1 1200.5 609.3 1200.2 609.4 1199.9 609.6 1199.6 609.7 1199.3 609.9 1199.0 610.0 1198.6 610.2 1198.3 610.3 1198.0 610.5 1197.7 610.6 1197.4 610.8 1197.1 610.9 1196.8 611.1 1196.5 611.2 1196.2 611.4 1195.9 611.5 1195.6 611.7 1195.4 611.8 1195.1 612.0 1194.8 612.1 1194.5 612.3 1194.2 612.4 1194.0 612.6 1193.7 612.7 1193.4 612.9 1193.8 613.0 1194.3 613.1 1194.7 613.3 1195.1 613.4 1195.5 613.6 1195.9 613.7 1196.4 613.9 1196.8 614.0 1197.2 614.2 1197.6 614.3 1198.0 614.5 1198.4 614.6 1198.8 614.8 1199.2 614.9 1199.6 615.1 1200.0 615.2 1200.4 615.4 1200.8 615.5 1201.2 615.7 1201.5 615.8 1201.9 616.0 1202.2 616.1 1202.6 616.3 1202.9 616.4 1203.2 616.6 1203.6 616.7 1203.9 616.8 1204.2 617.0 1204.5 617.1 1204.8 617.3 1205.1 617.4 1205.3 617.6 1205.6 617.7 1205.8 617.9 1206.1 618.0 1206.3 618.2 1206.6 618.3 1206.8 618.5 1207.0 618.6 1207.2 618.8 1207.4 618.9 1207.6 619.1 1207.8 619.2 1207.8 619.4 1207.7 619.5 1207.5 619.7 1207.3 619.8 1207.1 620.0 1206.9 620.1 1206.7 620.3 1206.5 620.4 1206.3 620.6 1206.2 620.7 1206.0 620.8 1205.8 621.0 1205.6 621.1 1205.4 621.3 1205.2 621.4 1205.0 621.6 1204.8 621.7 1204.6 621.9 1204.4 622.0 1204.2 622.2 1204.0 622.3 1203.8 622.5 1203.6 622.6 1203.4 622.8 1203.2 622.9 1203.0 623.1 1202.8 623.2 1202.6 623.4 1202.4 623.5 1202.2 623.7 1202.0 623.8 1201.8 624.0 1201.6 624.1 1201.4 624.3 1201.2 624.4 1201.0 624.6 1200.9 624.7 1200.7 624.8 1200.5 625.0 1200.3 625.1 1200.1 625.3 1199.9 625.4 1199.7 625.6 1199.5 625.7 1199.6 625.9 1200.0 626.0 1200.3 626.2 1200.6 626.3 1201.0 626.5 1201.3 626.6 1201.6 626.8 1201.9 626.9 1202.3 627.1 1202.6 627.2 1202.9 627.4 1203.2 627.5 1203.6 627.7 1203.9 627.8 1204.2 628.0 1204.5 628.1 1204.8 628.3 1205.1 628.4 1205.4 628.5 1205.7 628.7 1206.0 628.8 1206.3 629.0 1206.5 629.1 1206.8 629.3 1207.1 629.4 1207.3 629.6 1207.6 629.7 1207.8 629.9 1208.1 630.0 1208.3 630.2 1208.6 630.3 1208.8 630.5 1209.0 630.6 1209.2 630.8 1209.4 630.9 1209.6 631.1 1209.8 631.2 1210.0 631.4 1210.2 631.5 1210.4 631.7 1210.5 631.8 1210.7 632.0 1210.8 632.1 1211.0 632.3 1210.8 632.4 1210.5 632.5 1210.3 632.7 1210.0 632.8 1209.8 633.0 1209.5 633.1 1209.2 633.3 1208.9 633.4 1208.6 633.6 1208.3 633.7 1208.0 633.9 1207.7 634.0 1207.4 634.2 1207.0 634.3 1206.7 634.5 1206.3 634.6 1206.0 634.8 1205.6 634.9 1205.3 635.1 1204.9 635.2 1204.5 635.4 1204.1 635.5 1203.7 635.7 1203.3 635.8 1202.9 636.0 1202.6 636.1 1202.1 636.2 1201.7 636.4 1201.3 636.5 1200.9 636.7 1200.5 636.8 1200.1 637.0 1199.7 637.1 1199.3 637.3 1198.9 637.4 1198.5 637.6 1198.1 637.7 1197.7 637.9 1197.2 638.0 1196.8 638.2 1196.4 638.3 1196.0 638.5 1195.6 638.6 1195.4 638.8 1195.7 638.9 1195.9 639.1 1196.2 639.2 1196.4 639.4 1196.7 639.5 1196.9 639.7 1197.2 639.8 1197.4 640.0 1197.7 640.1 1198.0 640.2 1198.2 640.4 1198.5 640.5 1198.8 640.7 1199.1 640.8 1199.3 641.0 1199.6 641.1 1199.9 641.3 1200.2 641.4 1200.5 641.6 1200.8 641.7 1201.1 641.9 1201.4 642.0 1201.7 642.2 1202.0 642.3 1202.3 642.5 1202.6 642.6 1202.9 642.8 1203.3 642.9 1203.6 643.1 1203.9 643.2 1204.2 643.4 1204.5 643.5 1204.8 643.7 1205.2 643.8 1205.5 643.9 1205.8 644.1 1206.1 644.2 1206.4 644.4 1206.8 644.5 1207.1 644.7 1207.4 644.8 1207.7 645.0 1208.0 645.1 1208.0 645.3 1207.9 645.4 1207.8 645.6 1207.7 645.7 1207.5 645.9 1207.4 646.0 1207.2 646.2 1207.1 646.3 1206.9 646.5 1206.7 646.6 1206.5 646.8 1206.4 646.9 1206.2 647.1 1205.9 647.2 1205.7 647.4 1205.5 647.5 1205.3 647.7 1205.0 647.8 1204.8 647.9 1204.5 648.1 1204.2 648.2 1203.9 648.4 1203.6 648.5 1203.3 648.7 1203.0 648.8 1202.7 649.0 1202.4 649.1 1202.1 649.3 1201.7 649.4 1201.4 649.6 1201.0 649.7 1200.7 649.9 1200.3 650.0 1200.0 650.2 1199.6 650.3 1199.2 650.5 1198.8 650.6 1198.4 650.8 1198.0 650.9 1197.7 651.1 1197.3 651.2 1196.9 651.4 1196.5 651.5 1196.1 651.6 1196.4 651.8 1196.8 651.9 1197.1 652.1 1197.5 652.2 1197.9 652.4 1198.2 652.5 1198.6 652.7 1198.9 652.8 1199.2 653.0 1199.6 653.1 1199.9 653.3 1200.2 653.4 1200.5 653.6 1200.8 653.7 1201.1 653.9 1201.4 654.0 1201.7 654.2 1202.0 654.3 1202.3 654.5 1202.6 654.6 1202.9 654.8 1203.1 654.9 1203.4 655.1 1203.7 655.2 1203.9 655.4 1204.2 655.5 1204.4 655.6 1204.6 655.8 1204.9 655.9 1205.1 656.1 1205.3 656.2 1205.5 656.4 1205.7 656.5 1206.0 656.7 1206.2 656.8 1206.4 657.0 1206.5 657.1 1206.7 657.3 1206.9 657.4 1207.1 657.6 1207.3 657.7 1207.4 657.9 1207.6 658.0 1207.7 658.2 1207.4 658.3 1207.2 658.5 1207.0 658.6 1206.7 658.8 1206.5 658.9 1206.3 659.1 1206.0 659.2 1205.8 659.3 1205.5 659.5 1205.3 659.6 1205.0 659.8 1204.8 659.9 1204.5 660.1 1204.3 660.2 1204.0 660.4 1203.8 660.5 1203.5 660.7 1203.3 660.8 1203.0 661.0 1202.7 661.1 1202.4 661.3 1202.2 661.4 1201.9 661.6 1201.6 661.7 1201.3 661.9 1201.0 662.0 1200.7 662.2 1200.4 662.3 1200.1 662.5 1199.8 662.6 1199.5 662.8 1199.1 662.9 1198.8 663.1 1198.5 663.2 1198.1 663.3 1197.8 663.5 1197.4 663.6 1197.1 663.8 1196.7 663.9 1196.3 664.1 1195.9 664.2 1195.6 664.4 1195.2 664.5 1195.3 664.7 1195.6 664.8 1195.9 665.0 1196.3 665.1 1196.6 665.3 1197.0 665.4 1197.3 665.6 1197.7 665.7 1198.0 665.9 1198.4 666.0 1198.8 666.2 1199.1 666.3 1199.5 666.5 1199.8 666.6 1200.2 666.8 1200.6 666.9 1200.9 667.0 1201.3 667.2 1201.7 667.3 1202.0 667.5 1202.4 667.6 1202.8 667.8 1203.1 667.9 1203.5 668.1 1203.8 668.2 1204.2 668.4 1204.5 668.5 1204.9 668.7 1205.2 668.8 1205.5 669.0 1205.9 669.1 1206.2 669.3 1206.5 669.4 1206.8 669.6 1207.1 669.7 1207.4 669.9 1207.7 670.0 1208.0 670.2 1208.3 670.3 1208.5 670.5 1208.8 670.6 1209.0 670.8 1209.3 670.9 1209.5 671.0 1209.2 671.2 1209.0 671.3 1208.7 671.5 1208.4 671.6 1208.1 671.8 1207.8 671.9 1207.5 672.1 1207.2 672.2 1206.9 672.4 1206.6 672.5 1206.2 672.7 1205.9 672.8 1205.6 673.0 1205.2 673.1 1204.9 673.3 1204.5 673.4 1204.2 673.6 1203.8 673.7 1203.5 673.9 1203.1 674.0 1202.8 674.2 1202.4 674.3 1202.1 674.5 1201.7 674.6 1201.4 674.7 1201.0 674.9 1200.7 675.0 1200.3 675.2 1200.0 675.3 1199.6 675.5 1199.3 675.6 1199.0 675.8 1198.6 675.9 1198.3 676.1 1198.0 676.2 1197.6 676.4 1197.3 676.5 1197.0 676.7 1196.7 676.8 1196.4 677.0 1196.0 677.1 1195.7 677.3 1195.4 677.4 1195.3 677.6 1195.6 677.7 1196.0 677.9 1196.3 678.0 1196.6 678.2 1196.9 678.3 1197.2 678.5 1197.5 678.6 1197.7 678.7 1198.0 678.9 1198.3 679.0 1198.6 679.2 1198.8 679.3 1199.1 679.5 1199.4 679.6 1199.6 679.8 1199.9 679.9 1200.1 680.1 1200.4 680.2 1200.6 680.4 1200.9 680.5 1201.1 680.7 1201.4 680.8 1201.6 681.0 1201.9 681.1 1202.1 681.3 1202.3 681.4 1202.6 681.6 1202.8 681.7 1203.1 681.9 1203.3 682.0 1203.5 682.2 1203.8 682.3 1204.0 682.4 1204.2 682.6 1204.5 682.7 1204.7 682.9 1204.9 683.0 1205.2 683.2 1205.4 683.3 1205.6 683.5 1205.9 683.6 1206.1 683.8 1206.3 683.9 1206.3 684.1 1206.2 684.2 1206.1 684.4 1206.0 684.5 1205.8 684.7 1205.7 684.8 1205.5 685.0 1205.4 685.1 1205.2 685.3 1205.0 685.4 1204.9 685.6 1204.7 685.7 1204.5 685.9 1204.3 686.0 1204.1 686.2 1203.9 686.3 1203.7 686.4 1203.4 686.6 1203.2 686.7 1202.9 686.9 1202.7 687.0 1202.4 687.2 1202.2 687.3 1201.9 687.5 1201.6 687.6 1201.3 687.8 1201.0 687.9 1200.7 688.1 1200.4 688.2 1200.1 688.4 1199.8 688.5 1199.4 688.7 1199.1 688.8 1198.8 689.0 1198.4 689.1 1198.1 689.3 1197.7 689.4 1197.3 689.6 1197.0 689.7 1196.6 689.9 1196.2 690.0 1195.9 690.1 1195.5 690.3 1195.1 690.4 1195.4 690.6 1195.7 690.7 1196.1 690.9 1196.4 691.0 1196.7 691.2 1197.0 691.3 1197.4 691.5 1197.7 691.6 1198.0 691.8 1198.4 691.9 1198.7 692.1 1199.0 692.2 1199.4 692.4 1199.7 692.5 1200.0 692.7 1200.4 692.8 1200.7 693.0 1201.0 693.1 1201.3 693.3 1201.6 693.4 1202.0 693.6 1202.3 693.7 1202.6 693.9 1202.9 694.0 1203.2 694.1 1203.5 694.3 1203.8 694.4 1204.1 694.6 1204.4 694.7 1204.6 694.9 1204.9 695.0 1205.2 695.2 1205.5 695.3 1205.8 695.5 1206.0 695.6 1206.3 695.8 1206.6 695.9 1206.8 696.1 1207.1 696.2 1207.3 696.4 1207.6 696.5 1207.8 696.7 1208.0 696.8 1208.1 697.0 1207.9 697.1 1207.7 697.3 1207.5 697.4 1207.3 697.6 1207.0 697.7 1206.8 697.8 1206.6 698.0 1206.3 698.1 1206.1 698.3 1205.8 698.4 1205.5 698.6 1205.3 698.7 1205.0 698.9 1204.7 699.0 1204.4 699.2 1204.2 699.3 1203.9 699.5 1203.6 699.6 1203.3 699.8 1203.0 699.9 1202.7 700.1 1202.4 700.2 1202.0 700.4 1201.7 700.5 1201.4 700.7 1201.1 700.8 1200.7 701.0 1200.4 701.1 1200.1 701.3 1199.7 701.4 1199.4 701.6 1199.0 701.7 1198.7 701.8 1198.3 702.0 1198.0 702.1 1197.6 702.3 1197.2 702.4 1196.9 702.6 1196.5 702.7 1196.1 702.9 1195.8 703.0 1195.4 703.2 1195.0 703.3 1195.2 703.5 1195.6 703.6 1196.0 703.8 1196.5 703.9 1196.9 704.1 1197.4 704.2 1197.8 704.4 1198.3 704.5 1198.7 704.7 1199.2 704.8 1199.6 705.0 1200.1 705.1 1200.5 705.3 1200.9 705.4 1201.4 705.5 1201.8 705.7 1202.3 705.8 1202.7 706.0 1203.1 706.1 1203.5 706.3 1204.0 706.4 1204.4 706.6 1204.8 706.7 1205.2 706.9 1205.6 707.0 1206.0 707.2 1206.4 707.3 1206.7 707.5 1207.1 707.6 1207.5 707.8 1207.8 707.9 1208.2 708.1 1208.5 708.2 1208.9 708.4 1209.2 708.5 1209.5 708.7 1209.8 708.8 1210.1 709.0 1210.4 709.1 1210.7 709.3 1210.9 709.4 1211.2 709.5 1211.5 709.7 1211.7 709.8 1211.5 710.0 1211.2 710.1 1210.9 710.3 1210.7 710.4 1210.4 710.6 1210.1 710.7 1209.8 710.9 1209.5 711.0 1209.2 711.2 1208.9 711.3 1208.5 711.5 1208.2 711.6 1207.9 711.8 1207.6 711.9 1207.2 712.1 1206.9 712.2 1206.5 712.4 1206.2 712.5 1205.8 712.7 1205.5 712.8 1205.1 713.0 1204.8 713.1 1204.4 713.2 1204.0 713.4 1203.7 713.5 1203.3 713.7 1203.0 713.8 1202.6 714.0 1202.2 714.1 1201.9 714.3 1201.5 714.4 1201.1 714.6 1200.8 714.7 1200.4 714.9 1200.1 715.0 1199.7 715.2 1199.4 715.3 1199.0 715.5 1198.7 715.6 1198.3 715.8 1198.0 715.9 1197.6 716.1 1197.3 716.2 1197.2 716.4 1197.5 716.5 1197.9 716.7 1198.2 716.8 1198.6 717.0 1198.9 717.1 1199.3 717.2 1199.6 717.4 1200.0 717.5 1200.3 717.7 1200.7 717.8 1201.0 718.0 1201.4 718.1 1201.7 718.3 1202.0 718.4 1202.4 718.6 1202.7 718.7 1203.0 718.9 1203.3 719.0 1203.7 719.2 1204.0 719.3 1204.3 719.5 1204.6 719.6 1204.9 719.8 1205.2 719.9 1205.5 720.1 1205.8 720.2 1206.1 720.4 1206.4 720.5 1206.7 720.7 1207.0 720.8 1207.3 721.0 1207.6 721.1 1207.9 721.2 1208.2 721.4 1208.5 721.5 1208.7 721.7 1209.0 721.8 1209.3 722.0 1209.6 722.1 1209.8 722.3 1210.1 722.4 1210.3 722.6 1210.6 722.7 1210.6 722.9 1210.4 723.0 1210.3 723.2 1210.2 723.3 1210.0 723.5 1209.8 723.6 1209.7 723.8 1209.5 723.9 1209.3 724.1 1209.1 724.2 1209.0 724.4 1208.8 724.5 1208.6 724.7 1208.4 724.8 1208.2 724.9 1208.0 725.1 1207.8 725.2 1207.6 725.4 1207.3 725.5 1207.1 725.7 1206.9 725.8 1206.6 726.0 1206.4 726.1 1206.2 726.3 1205.9 726.4 1205.7 726.6 1205.4 726.7 1205.2 726.9 1204.9 727.0 1204.6 727.2 1204.4 727.3 1204.1 727.5 1203.8 727.6 1203.5 727.8 1203.3 727.9 1203.0 728.1 1202.7 728.2 1202.4 728.4 1202.1 728.5 1201.8 728.7 1201.5 728.8 1201.2 728.9 1200.9 729.1 1200.6 729.2 1200.9 729.4 1201.3 729.5 1201.6 729.7 1202.0 729.8 1202.3 730.0 1202.7 730.1 1203.0 730.3 1203.3 730.4 1203.7 730.6 1204.0 730.7 1204.3 730.9 1204.6 731.0 1204.9 731.2 1205.2 731.3 1205.6 731.5 1205.9 731.6 1206.1 731.8 1206.4 731.9 1206.7 732.1 1207.0 732.2 1207.3 732.4 1207.5 732.5 1207.8 732.6 1208.1 732.8 1208.3 732.9 1208.6 733.1 1208.8 733.2 1209.0 733.4 1209.3 733.5 1209.5 733.7 1209.7 733.8 1209.9 734.0 1210.1 734.1 1210.3 734.3 1210.5 734.4 1210.6 734.6 1210.8 734.7 1211.0 734.9 1211.1 735.0 1211.3 735.2 1211.4 735.3 1211.6 735.5 1211.7 735.6 1211.7 735.8 1211.4 735.9 1211.1 736.1 1210.9 736.2 1210.6 736.4 1210.2 736.5 1209.9 736.6 1209.6 736.8 1209.3 736.9 1209.0 737.1 1208.6 737.2 1208.3 737.4 1208.0 737.5 1207.6 737.7 1207.3 737.8 1206.9 738.0 1206.5 738.1 1206.2 738.3 1205.8 738.4 1205.5 738.6 1205.1 738.7 1204.7 738.9 1204.3 739.0 1204.0 739.2 1203.6 739.3 1203.2 739.5 1202.8 739.6 1202.5 739.8 1202.1 739.9 1201.7 740.1 1201.3 740.2 1201.0 740.3 1200.6 740.5 1200.2 740.6 1199.8 740.8 1199.5 740.9 1199.1 741.1 1198.7 741.2 1198.4 741.4 1198.0 741.5 1197.6 741.7 1197.3 741.8 1196.9 742.0 1196.6 742.1 1196.6 742.3 1196.9 742.4 1197.2 742.6 1197.5 742.7 1197.8 742.9 1198.2 743.0 1198.5 743.2 1198.8 743.3 1199.1 743.5 1199.4 743.6 1199.8 743.8 1200.1 743.9 1200.4 744.1 1200.7 744.2 1201.0 744.3 1201.4 744.5 1201.7 744.6 1202.0 744.8 1202.3 744.9 1202.7 745.1 1203.0 745.2 1203.3 745.4 1203.6 745.5 1203.9 745.7 1204.3 745.8 1204.6 746.0 1204.9 746.1 1205.2 746.3 1205.5 746.4 1205.8 746.6 1206.1 746.7 1206.4 746.9 1206.7 747.0 1207.0 747.2 1207.3 747.3 1207.5 747.5 1207.8 747.6 1208.1 747.8 1208.4 747.9 1208.6 748.0 1208.9 748.2 1209.1 748.3 1209.4 748.5 1209.6 748.6 1209.5 748.8 1209.3 748.9 1209.1 749.1 1208.9 749.2 1208.7 749.4 1208.5 749.5 1208.2 749.7 1208.0 749.8 1207.8 750.0 1207.5 750.1 1207.3 750.3 1207.0 750.4 1206.7 750.6 1206.4 750.7 1206.1 750.9 1205.8 751.0 1205.5 751.2 1205.2 751.3 1204.9 751.5 1204.5 751.6 1204.2 751.8 1203.8 751.9 1203.5 752.0 1203.1 752.2 1202.7 752.3 1202.3 752.5 1201.9 752.6 1201.5 752.8 1201.1 752.9 1200.7 753.1 1200.3 753.2 1199.9 753.4 1199.5 753.5 1199.0 753.7 1198.6 753.8 1198.2 754.0 1197.7 754.1 1197.3 754.3 1196.8 754.4 1196.4 754.6 1195.9 754.7 1195.5 754.9 1195.0 755.0 1194.8 755.2 1195.1 755.3 1195.4 755.5 1195.7 755.6 1196.0 755.7 1196.3 755.9 1196.6 756.0 1196.9 756.2 1197.2 756.3 1197.5 756.5 1197.8 756.6 1198.1 756.8 1198.4 756.9 1198.7 757.1 1199.0 757.2 1199.3 757.4 1199.6 757.5 1199.8 757.7 1200.1 757.8 1200.4 758.0 1200.7 758.1 1201.0 758.3 1201.3 758.4 1201.5 758.6 1201.8 758.7 1202.1 758.9 1202.3 759.0 1202.6 759.2 1202.9 759.3 1203.1 759.5 1203.4 759.6 1203.6 759.7 1203.8 759.9 1204.1 760.0 1204.3 760.2 1204.5 760.3 1204.7 760.5 1204.9 760.6 1205.1 760.8 1205.3 760.9 1205.5 761.1 1205.7 761.2 1205.9 761.4 1206.1 761.5 1206.0 761.7 1205.7 761.8 1205.4 762.0 1205.2 762.1 1204.9 762.3 1204.6 762.4 1204.3 762.6 1204.0 762.7 1203.7 762.9 1203.4 763.0 1203.1 763.2 1202.7 763.3 1202.4 763.4 1202.1 763.6 1201.8 763.7 1201.5 763.9 1201.1 764.0 1200.8 764.2 1200.5 764.3 1200.1 764.5 1199.8 764.6 1199.5 764.8 1199.1 764.9 1198.8 765.1 1198.5 765.2 1198.1 765.4 1197.8 765.5 1197.4 765.7 1197.1 765.8 1196.7 766.0 1196.4 766.1 1196.1 766.3 1195.7 766.4 1195.4 766.6 1195.0 766.7 1194.7 766.9 1194.4 767.0 1194.0 767.2 1193.7 767.3 1193.4 767.4 1193.0 767.6 1192.7 767.7 1192.4 767.9 1192.1 768.0 1192.3 768.2 1192.7 768.3 1193.0 768.5 1193.3 768.6 1193.7 768.8 1194.0 768.9 1194.3 769.1 1194.7 769.2 1195.0 769.4 1195.3 769.5 1195.7 769.7 1196.0 769.8 1196.3 770.0 1196.7 770.1 1197.0 770.3 1197.3 770.4 1197.6 770.6 1198.0 770.7 1198.3 770.9 1198.6 771.0 1198.9 771.1 1199.2 771.3 1199.5 771.4 1199.9 771.6 1200.2 771.7 1200.5 771.9 1200.8 772.0 1201.1 772.2 1201.4 772.3 1201.7 772.5 1202.0 772.6 1202.3 772.8 1202.6 772.9 1202.9 773.1 1203.1 773.2 1203.4 773.4 1203.7 773.5 1204.0 773.7 1204.3 773.8 1204.5 774.0 1204.8 774.1 1205.1 774.3 1205.3 774.4 1205.5 774.6 1205.3 774.7 1205.2 774.9 1205.0 775.0 1204.9 775.1 1204.7 775.3 1204.5 775.4 1204.4 775.6 1204.2 775.7 1204.0 775.9 1203.8 776.0 1203.6 776.2 1203.4 776.3 1203.2 776.5 1203.0 776.6 1202.7 776.8 1202.5 776.9 1202.3 777.1 1202.0 777.2 1201.8 777.4 1201.5 777.5 1201.2 777.7 1201.0 777.8 1200.7 778.0 1200.4 778.1 1200.1 778.3 1199.8 778.4 1199.5 778.6 1199.2 778.7 1198.9 778.8 1198.6 779.0 1198.3 779.1 1198.0 779.3 1197.7 779.4 1197.3 779.6 1197.0 779.7 1196.7 779.9 1196.3 780.0 1196.0 780.2 1195.6 780.3 1195.3 780.5 1194.9 780.6 1194.6 780.8 1194.2 780.9 1194.3 781.1 1194.6 781.2 1195.0 781.4 1195.3 781.5 1195.7 781.7 1196.0 781.8 1196.3 782.0 1196.7 782.1 1197.0 782.3 1197.3 782.4 1197.7 782.6 1198.0 782.7 1198.3 782.8 1198.6 783.0 1199.0 783.1 1199.3 783.3 1199.6 783.4 1199.9 783.6 1200.2 783.7 1200.5 783.9 1200.8 784.0 1201.0 784.2 1201.3 784.3 1201.6 784.5 1201.9 784.6 1202.1 784.8 1202.4 784.9 1202.7 785.1 1202.9 785.2 1203.1 785.4 1203.4 785.5 1203.6 785.7 1203.8 785.8 1204.1 786.0 1204.3 786.1 1204.5 786.3 1204.7 786.4 1204.9 786.5 1205.1 786.7 1205.3 786.8 1205.5 787.0 1205.7 787.1 1205.8 787.3 1206.0 787.4 1205.8 787.6 1205.6 787.7 1205.4 787.9 1205.1 788.0 1204.9 788.2 1204.6 788.3 1204.4 788.5 1204.2 788.6 1203.9 788.8 1203.7 788.9 1203.4 789.1 1203.1 789.2 1202.9 789.4 1202.6 789.5 1202.4 789.7 1202.1 789.8 1201.8 790.0 1201.5 790.1 1201.3 790.3 1201.0 790.4 1200.7 790.5 1200.4 790.7 1200.1 790.8 1199.9 791.0 1199.6 791.1 1199.3 791.3 1199.0 791.4 1198.7 791.6 1198.4 791.7 1198.1 791.9 1197.8 792.0 1197.5 792.2 1197.1 792.3 1196.8 792.5 1196.5 792.6 1196.2 792.8 1195.9 792.9 1195.6 793.1 1195.2 793.2 1194.9 793.4 1194.6 793.5 1194.2 793.7 1193.9 793.8 1193.7 794.0 1194.1 794.1 1194.5 794.2 1194.9 794.4 1195.3 794.5 1195.7 794.7 1196.1 794.8 1196.5 795.0 1196.9 795.1 1197.3 795.3 1197.7 795.4 1198.1 795.6 1198.5 795.7 1198.9 795.9 1199.4 796.0 1199.8 796.2 1200.2 796.3 1200.6 796.5 1201.0 796.6 1201.5 796.8 1201.9 796.9 1202.3 797.1 1202.7 797.2 1203.1 797.4 1203.5 797.5 1203.9 797.7 1204.4 797.8 1204.8 798.0 1205.2 798.1 1205.5 798.2 1205.9 798.4 1206.3 798.5 1206.7 798.7 1207.1 798.8 1207.4 799.0 1207.8 799.1 1208.1 799.3 1208.5 799.4 1208.8 799.6 1209.2 799.7 1209.5 799.9 1209.8 800.0 1210.1 800.2 1210.4 800.3 1210.4 800.5 1210.2 800.6 1210.0 800.8 1209.7 800.9 1209.5 801.1 1209.3 801.2 1209.0 801.4 1208.7 801.5 1208.5 801.7 1208.2 801.8 1207.9 801.9 1207.6 802.1 1207.3 802.2 1207.0 802.4 1206.7 802.5 1206.4 802.7 1206.0 802.8 1205.7 803.0 1205.4 803.1 1205.0 803.3 1204.7 803.4 1204.3 803.6 1203.9 803.7 1203.6 803.9 1203.2 804.0 1202.8 804.2 1202.4 804.3 1202.1 804.5 1201.7 804.6 1201.3 804.8 1200.9 804.9 1200.5 805.1 1200.1 805.2 1199.7 805.4 1199.3 805.5 1198.9 805.7 1198.5 805.8 1198.1 805.9 1197.7 806.1 1197.3 806.2 1196.9 806.4 1196.5 806.5 1196.1 806.7 1195.7 806.8 1196.0 807.0 1196.4 807.1 1196.8 807.3 1197.2 807.4 1197.5 807.6 1197.9 807.7 1198.3 807.9 1198.7 808.0 1199.0 808.2 1199.4 808.3 1199.8 808.5 1200.2 808.6 1200.5 808.8 1200.9 808.9 1201.3 809.1 1201.6 809.2 1202.0 809.4 1202.4 809.5 1202.7 809.7 1203.1 809.8 1203.4 809.9 1203.8 810.1 1204.1 810.2 1204.5 810.4 1204.8 810.5 1205.2 810.7 1205.5 810.8 1205.9 811.0 1206.2 811.1 1206.5 811.3 1206.9 811.4 1207.2 811.6 1207.5 811.7 1207.8 811.9 1208.1 812.0 1208.4 812.2 1208.8 812.3 1209.1 812.5 1209.4 812.6 1209.7 812.8 1209.9 812.9 1210.2 813.1 1210.5 813.2 1210.7 813.4 1210.5 813.5 1210.2 813.6 1210.0 813.8 1209.8 813.9 1209.5 814.1 1209.3 814.2 1209.0 814.4 1208.8 814.5 1208.5 814.7 1208.2 814.8 1207.9 815.0 1207.7 815.1 1207.4 815.3 1207.1 815.4 1206.7 815.6 1206.4 815.7 1206.1 815.9 1205.8 816.0 1205.4 816.2 1205.1 816.3 1204.7 816.5 1204.4 816.6 1204.0 816.8 1203.7 816.9 1203.3 817.1 1202.9 817.2 1202.5 817.4 1202.1 817.5 1201.7 817.6 1201.3 817.8 1200.9 817.9 1200.5 818.1 1200.1 818.2 1199.7 818.4 1199.3 818.5 1198.8 818.7 1198.4 818.8 1198.0 819.0 1197.6 819.1 1197.1 819.3 1196.7 819.4 1196.2 819.6 1195.8 819.7 1195.8 819.9 1196.2 820.0 1196.7 820.2 1197.1 820.3 1197.5 820.5 1197.9 820.6 1198.2 820.8 1198.6 820.9 1199.0 821.1 1199.4 821.2 1199.8 821.3 1200.1 821.5 1200.5 821.6 1200.9 821.8 1201.2 821.9 1201.6 822.1 1201.9 822.2 1202.3 822.4 1202.6 822.5 1202.9 822.7 1203.2 822.8 1203.6 823.0 1203.9 823.1 1204.2 823.3 1204.5 823.4 1204.7 823.6 1205.0 823.7 1205.3 823.9 1205.6 824.0 1205.8 824.2 1206.1 824.3 1206.3 824.5 1206.6 824.6 1206.8 824.8 1207.0 824.9 1207.2 825.1 1207.5 825.2 1207.7 825.3 1207.9 825.5 1208.1 825.6 1208.3 825.8 1208.5 825.9 1208.6 826.1 1208.8 826.2 1208.6 826.4 1208.3 826.5 1207.9 826.7 1207.6 826.8 1207.3 827.0 1207.0 827.1 1206.7 827.3 1206.4 827.4 1206.1 827.6 1205.7 827.7 1205.4 827.9 1205.1 828.0 1204.7 828.2 1204.4 828.3 1204.1 828.5 1203.8 828.6 1203.4 828.8 1203.1 828.9 1202.7 829.0 1202.4 829.2 1202.1 829.3 1201.7 829.5 1201.4 829.6 1201.0 829.8 1200.7 829.9 1200.3 830.1 1200.0 830.2 1199.6 830.4 1199.3 830.5 1198.9 830.7 1198.5 830.8 1198.2 831.0 1197.8 831.1 1197.5 831.3 1197.1 831.4 1196.7 831.6 1196.4 831.7 1196.0 831.9 1195.7 832.0 1195.3 832.2 1194.9 832.3 1194.6 832.5 1194.2 832.6 1194.0 832.8 1194.4 832.9 1194.8 833.0 1195.2 833.2 1195.6 833.3 1196.0 833.5 1196.4 833.6 1196.7 833.8 1197.1 833.9 1197.5 834.1 1197.8 834.2 1198.2 834.4 1198.6 834.5 1198.9 834.7 1199.3 834.8 1199.6 835.0 1199.9 835.1 1200.3 835.3 1200.6 835.4 1200.9 835.6 1201.2 835.7 1201.5 835.9 1201.8 836.0 1202.0 836.2 1202.3 836.3 1202.6 836.5 1202.8 836.6 1203.1 836.7 1203.3 836.9 1203.5 837.0 1203.8 837.2 1204.0 837.3 1204.2 837.5 1204.4 837.6 1204.6 837.8 1204.7 837.9 1204.9 838.1 1205.1 838.2 1205.2 838.4 1205.4 838.5 1205.5 838.7 1205.6 838.8 1205.8 839.0 1205.9 839.1 1205.8 839.3 1205.5 839.4 1205.2 839.6 1204.9 839.7 1204.7 839.9 1204.4 840.0 1204.1 840.2 1203.8 840.3 1203.5 840.5 1203.3 840.6 1203.0 840.7 1202.7 840.9 1202.4 841.0 1202.2 841.2 1201.9 841.3 1201.6 841.5 1201.3 841.6 1201.1 841.8 1200.8 841.9 1200.6 842.1 1200.3 842.2 1200.0 842.4 1199.8 842.5 1199.5 842.7 1199.3 842.8 1199.1 843.0 1198.8 843.1 1198.6 843.3 1198.4 843.4 1198.1 843.6 1197.9 843.7 1197.7 843.9 1197.5 844.0 1197.2 844.2 1197.0 844.3 1196.8 844.4 1196.6 844.6 1196.4 844.7 1196.2 844.9 1196.0 845.0 1195.8 845.2 1195.6 845.3 1195.4 845.5 1195.2 845.6 1195.5 845.8 1195.8 845.9 1196.2 846.1 1196.6 846.2 1196.9 846.4 1197.3 846.5 1197.7 846.7 1198.0 846.8 1198.4 847.0 1198.8 847.1 1199.2 847.3 1199.5 847.4 1199.9 847.6 1200.3 847.7 1200.7 847.9 1201.1 848.0 1201.5 848.2 1201.8 848.3 1202.2 848.4 1202.6 848.6 1203.0 848.7 1203.4 848.9 1203.7 849.0 1204.1 849.2 1204.5 849.3 1204.9 849.5 1205.2 849.6 1205.6 849.8 1206.0 849.9 1206.3 850.1 1206.7 850.2 1207.0 850.4 1207.4 850.5 1207.7 850.7 1208.1 850.8 1208.4 851.0 1208.7 851.1 1209.1 851.3 1209.4 851.4 1209.7 851.6 1210.0 851.7 1210.3 851.9 1210.6 852.0 1210.8 852.1 1210.6 852.3 1210.5 852.4 1210.3 852.6 1210.2 852.7 1210.0 852.9 1209.8 853.0 1209.6 853.2 1209.4 853.3 1209.1 853.5 1208.9 853.6 1208.6 853.8 1208.4 853.9 1208.1 854.1 1207.8 854.2 1207.5 854.4 1207.2 854.5 1206.9 854.7 1206.6 854.8 1206.3 855.0 1205.9 855.1 1205.6 855.3 1205.2 855.4 1204.8 855.6 1204.5 855.7 1204.1 855.9 1203.7 856.0 1203.3 856.1 1202.9 856.3 1202.5 856.4 1202.1 856.6 1201.6 856.7 1201.2 856.9 1200.8 857.0 1200.4 857.2 1199.9 857.3 1199.5 857.5 1199.1 857.6 1198.6 857.8 1198.2 857.9 1197.7 858.1 1197.3 858.2 1196.9 858.4 1196.4 858.5 1196.4 858.7 1196.7 858.8 1197.0 859.0 1197.3 859.1 1197.6 859.3 1198.0 859.4 1198.3 859.6 1198.6 859.7 1198.9 859.8 1199.2 860.0 1199.6 860.1 1199.9 860.3 1200.2 860.4 1200.5 860.6 1200.8 860.7 1201.2 860.9 1201.5 861.0 1201.8 861.2 1202.1 861.3 1202.4 861.5 1202.8 861.6 1203.1 861.8 1203.4 861.9 1203.7 862.1 1204.0 862.2 1204.3 862.4 1204.6 862.5 1205.0 862.7 1205.3 862.8 1205.6 863.0 1205.9 863.1 1206.2 863.3 1206.5 863.4 1206.7 863.6 1207.0 863.7 1207.3 863.8 1207.6 864.0 1207.9 864.1 1208.2 864.3 1208.4 864.4 1208.7 864.6 1208.9 864.7 1209.2 864.9 1209.5 865.0 1209.3 865.2 1209.1 865.3 1208.9 865.5 1208.7 865.6 1208.5 865.8 1208.3 865.9 1208.1 866.1 1207.9 866.2 1207.7 866.4 1207.4 866.5 1207.2 866.7 1207.0 866.8 1206.7 867.0 1206.5 867.1 1206.2 867.3 1206.0 867.4 1205.7 867.5 1205.4 867.7 1205.1 867.8 1204.9 868.0 1204.6 868.1 1204.3 868.3 1204.0 868.4 1203.7 868.6 1203.4 868.7 1203.1 868.9 1202.7 869.0 1202.4 869.2 1202.1 869.3 1201.7 869.5 1201.4 869.6 1201.1 869.8 1200.7 869.9 1200.4 870.1 1200.0 870.2 1199.7 870.4 1199.3 870.5 1198.9 870.7 1198.6 870.8 1198.2 871.0 1197.8 871.1 1197.4 871.3 1197.1 871.4 1196.8 871.5 1197.1 871.7 1197.4 871.8 1197.7 872.0 1198.0 872.1 1198.3 872.3 1198.6 872.4 1198.9 872.6 1199.1 872.7 1199.4 872.9 1199.7 873.0 1200.0 873.2 1200.2 873.3 1200.5 873.5 1200.7 873.6 1201.0 873.8 1201.2 873.9 1201.5 874.1 1201.7 874.2 1202.0 874.4 1202.2 874.5 1202.4 874.7 1202.7 874.8 1202.9 875.0 1203.1 875.1 1203.3 875.2 1203.5 875.4 1203.8 875.5 1204.0 875.7 1204.2 875.8 1204.4 876.0 1204.6 876.1 1204.8 876.3 1205.0 876.4 1205.2 876.6 1205.4 876.7 1205.6 876.9 1205.8 877.0 1206.0 877.2 1206.1 877.3 1206.3 877.5 1206.5 877.6 1206.7 877.8 1206.9 877.9 1206.9 878.1 1206.6 878.2 1206.4 878.4 1206.2 878.5 1206.0 878.7 1205.8 878.8 1205.5 879.0 1205.3 879.1 1205.1 879.2 1204.8 879.4 1204.6 879.5 1204.4 879.7 1204.1 879.8 1203.9 880.0 1203.7 880.1 1203.4 880.3 1203.2 880.4 1202.9 880.6 1202.7 880.7 1202.4 880.9 1202.2 881.0 1201.9 881.2 1201.7 881.3 1201.4 881.5 1201.1 881.6 1200.9 881.8 1200.6 881.9 1200.3 882.1 1200.1 882.2 1199.8 882.4 1199.5 882.5 1199.2 882.7 1199.0 882.8 1198.7 882.9 1198.4 883.1 1198.1 883.2 1197.8 883.4 1197.5 883.5 1197.2 883.7 1196.9 883.8 1196.7 884.0 1196.4 884.1 1196.1 884.3 1195.8 884.4 1196.1 884.6 1196.5 884.7 1196.9 884.9 1197.3 885.0 1197.7 885.2 1198.1 885.3 1198.5 885.5 1198.9 885.6 1199.3 885.8 1199.6 885.9 1200.0 886.1 1200.4 886.2 1200.8 886.4 1201.2 886.5 1201.5 886.7 1201.9 886.8 1202.3 886.9 1202.6 887.1 1202.9 887.2 1203.3 887.4 1203.6 887.5 1204.0 887.7 1204.3 887.8 1204.6 888.0 1204.9 888.1 1205.2 888.3 1205.5 888.4 1205.8 888.6 1206.0 888.7 1206.3 888.9 1206.6 889.0 1206.8 889.2 1207.1 889.3 1207.3 889.5 1207.5 889.6 1207.7 889.8 1208.0 889.9 1208.2 890.1 1208.3 890.2 1208.5 890.4 1208.7 890.5 1208.9 890.6 1209.0 890.8 1209.1 890.9 1208.9 891.1 1208.6 891.2 1208.4 891.4 1208.1 891.5 1207.8 891.7 1207.6 891.8 1207.3 892.0 1207.0 892.1 1206.7 892.3 1206.4 892.4 1206.2 892.6 1205.9 892.7 1205.6 892.9 1205.3 893.0 1205.0 893.2 1204.7 893.3 1204.4 893.5 1204.1 893.6 1203.8 893.8 1203.5 893.9 1203.2 894.1 1202.9 894.2 1202.6 894.4 1202.3 894.5 1202.0 894.6 1201.7 894.8 1201.4 894.9 1201.1 895.1 1200.8 895.2 1200.5 895.4 1200.2 895.5 1199.9 895.7 1199.6 895.8 1199.3 896.0 1199.0 896.1 1198.7 896.3 1198.5 896.4 1198.2 896.6 1197.9 896.7 1197.6 896.9 1197.4 897.0 1197.1 897.2 1196.8 897.3 1196.9 897.5 1197.1 897.6 1197.4 897.8 1197.7 897.9 1198.0 898.1 1198.3 898.2 1198.6 898.4 1198.8 898.5 1199.1 898.6 1199.4 898.8 1199.7 898.9 1199.9 899.1 1200.2 899.2 1200.5 899.4 1200.8 899.5 1201.0 899.7 1201.3 899.8 1201.6 900.0 1201.8 900.1 1202.1 900.3 1202.3 900.4 1202.6 900.6 1202.8 900.7 1203.1 900.9 1203.3 901.0 1203.6 901.2 1203.8 901.3 1204.1 901.5 1204.3 901.6 1204.5 901.8 1204.8 901.9 1205.0 902.1 1205.2 902.2 1205.4 902.3 1205.7 902.5 1205.9 902.6 1206.1 902.8 1206.3 902.9 1206.5 903.1 1206.7 903.2 1206.9 903.4 1207.1 903.5 1207.3 903.7 1207.5 903.8 1207.4 904.0 1207.3 904.1 1207.1 904.3 1207.0 904.4 1206.9 904.6 1206.7 904.7 1206.6 904.9 1206.4 905.0 1206.2 905.2 1206.1 905.3 1205.9 905.5 1205.7 905.6 1205.5 905.8 1205.3 905.9 1205.1 906.1 1204.9 906.2 1204.7 906.3 1204.4 906.5 1204.2 906.6 1204.0 906.8 1203.7 906.9 1203.5 907.1 1203.2 907.2 1202.9 907.4 1202.7 907.5 1202.4 907.7 1202.1 907.8 1201.8 908.0 1201.5 908.1 1201.2 908.3 1200.8 908.4 1200.5 908.6 1200.2 908.7 1199.8 908.9 1199.5 909.0 1199.1 909.2 1198.8 909.3 1198.4 909.5 1198.1 909.6 1197.7 909.8 1197.3 909.9 1196.9 910.0 1196.5 910.2 1196.2 910.3 1196.4 910.5 1196.6 910.6 1196.8 910.8 1197.0 910.9 1197.2 911.1 1197.4 911.2 1197.6 911.4 1197.8 911.5 1198.0 911.7 1198.2 911.8 1198.4 912.0 1198.6 912.1 1198.8 912.3 1199.0 912.4 1199.2 912.6 1199.4 912.7 1199.6 912.9 1199.8 913.0 1200.0 913.2 1200.1 913.3 1200.3 913.5 1200.5 913.6 1200.7 913.8 1200.9 913.9 1201.0 914.0 1201.2 914.2 1201.4 914.3 1201.6 914.5 1201.7 914.6 1201.9 914.8 1202.0 914.9 1202.2 915.1 1202.4 915.2 1202.5 915.4 1202.7 915.5 1202.8 915.7 1203.0 915.8 1203.1 916.0 1203.3 916.1 1203.4 916.3 1203.5 916.4 1203.7 916.6 1203.8 916.7 1203.8 916.9 1203.5 917.0 1203.3 917.2 1203.0 917.3 1202.8 917.5 1202.5 917.6 1202.3 917.7 1202.0 917.9 1201.8 918.0 1201.5 918.2 1201.3 918.3 1201.0 918.5 1200.8 918.6 1200.5 918.8 1200.3 918.9 1200.0 919.1 1199.8 919.2 1199.5 919.4 1199.3 919.5 1199.1 919.7 1198.8 919.8 1198.6 920.0 1198.3 920.1 1198.1 920.3 1197.8 920.4 1197.6 920.6 1197.3 920.7 1197.1 920.9 1196.8 921.0 1196.6 921.2 1196.3 921.3 1196.1 921.5 1195.8 921.6 1195.6 921.7 1195.3 921.9 1195.1 922.0 1194.8 922.2 1194.6 922.3 1194.3 922.5 1194.1 922.6 1193.8 922.8 1193.6 922.9 1193.3 923.1 1193.1 923.2 1193.4 923.4 1193.8 923.5 1194.2 923.7 1194.6 923.8 1195.0 924.0 1195.5 924.1 1195.9 924.3 1196.3 924.4 1196.8 924.6 1197.2 924.7 1197.6 924.9 1198.0 925.0 1198.5 925.2 1198.9 925.3 1199.3 925.4 1199.8 925.6 1200.2 925.7 1200.6 925.9 1201.0 926.0 1201.4 926.2 1201.9 926.3 1202.3 926.5 1202.7 926.6 1203.1 926.8 1203.5 926.9 1203.9 927.1 1204.3 927.2 1204.6 927.4 1205.0 927.5 1205.4 927.7 1205.8 927.8 1206.1 928.0 1206.5 928.1 1206.8 928.3 1207.2 928.4 1207.5 928.6 1207.8 928.7 1208.1 928.9 1208.4 929.0 1208.7 929.2 1209.0 929.3 1209.3 929.4 1209.6 929.6 1209.8 929.7 1209.6 929.9 1209.4 930.0 1209.2 930.2 1209.0 930.3 1208.8 930.5 1208.5 930.6 1208.3 930.8 1208.1 930.9 1207.8 931.1 1207.5 931.2 1207.3 931.4 1207.0 931.5 1206.7 931.7 1206.4 931.8 1206.1 932.0 1205.8 932.1 1205.5 932.3 1205.2 932.4 1204.9 932.6 1204.6 932.7 1204.3 932.9 1203.9 933.0 1203.6 933.1 1203.3 933.3 1202.9 933.4 1202.6 933.6 1202.3 933.7 1201.9 933.9 1201.6 934.0 1201.2 934.2 1200.9 934.3 1200.5 934.5 1200.2 934.6 1199.8 934.8 1199.5 934.9 1199.1 935.1 1198.8 935.2 1198.4 935.4 1198.1 935.5 1197.7 935.7 1197.4 935.8 1197.0 936.0 1196.7 936.1 1196.7 936.3 1197.0 936.4 1197.3 936.6 1197.7 936.7 1198.0 936.9 1198.3 937.0 1198.6 937.1 1198.9 937.3 1199.3 937.4 1199.6 937.6 1199.9 937.7 1200.2 937.9 1200.5 938.0 1200.8 938.2 1201.1 938.3 1201.4 938.5 1201.6 938.6 1201.9 938.8 1202.2 938.9 1202.5 939.1 1202.8 939.2 1203.0 939.4 1203.3 939.5 1203.6 939.7 1203.8 939.8 1204.1 940.0 1204.4 940.1 1204.6 940.3 1204.9 940.4 1205.1 940.6 1205.4 940.7 1205.6 940.8 1205.9 941.0 1206.1 941.1 1206.4 941.3 1206.6 941.4 1206.8 941.6 1207.1 941.7 1207.3 941.9 1207.6 942.0 1207.8 942.2 1208.0 942.3 1208.3 942.5 1208.5 942.6 1208.4 942.8 1208.2 942.9 1208.0 943.1 1207.8 943.2 1207.6 943.4 1207.5 943.5 1207.3 943.7 1207.1 943.8 1206.8 944.0 1206.6 944.1 1206.4 944.3 1206.2 944.4 1206.0 944.6 1205.7 944.7 1205.5 944.8 1205.3 945.0 1205.0 945.1 1204.8 945.3 1204.5 945.4 1204.2 945.6 1204.0 945.7 1203.7 945.9 1203.4 946.0 1203.1 946.2 1202.8 946.3 1202.5 946.5 1202.2 946.6 1201.9 946.8 1201.6 946.9 1201.3 947.1 1201.0 947.2 1200.6 947.4 1200.3 947.5 1199.9 947.7 1199.6 947.8 1199.2 948.0 1198.9 948.1 1198.5 948.3 1198.1 948.4 1197.8 948.5 1197.4 948.7 1197.0 948.8 1196.6 949.0 1196.4 949.1 1196.8 949.3 1197.2 949.4 1197.6 949.6 1198.0 949.7 1198.4 949.9 1198.8 950.0 1199.1 950.2 1199.5 950.3 1199.9 950.5 1200.3 950.6 1200.7 950.8 1201.1 950.9 1201.5 951.1 1201.9 951.2 1202.2 951.4 1202.6 951.5 1203.0 951.7 1203.4 951.8 1203.7 952.0 1204.1 952.1 1204.4 952.3 1204.8 952.4 1205.1 952.5 1205.5 952.7 1205.8 952.8 1206.1 953.0 1206.5 953.1 1206.8 953.3 1207.1 953.4 1207.4 953.6 1207.7 953.7 1208.0 953.9 1208.3 954.0 1208.5 954.2 1208.8 954.3 1209.1 954.5 1209.3 954.6 1209.6 954.8 1209.8 954.9 1210.0 955.1 1210.3 955.2 1210.5 955.4 1210.7 955.5 1210.7 955.7 1210.4 955.8 1210.1 956.0 1209.8 956.1 1209.5 956.2 1209.2 956.4 1208.9 956.5 1208.6 956.7 1208.3 956.8 1208.0 957.0 1207.7 957.1 1207.4 957.3 1207.0 957.4 1206.7 957.6 1206.4 957.7 1206.0 957.9 1205.7 958.0 1205.4 958.2 1205.0 958.3 1204.7 958.5 1204.4 958.6 1204.0 958.8 1203.7 958.9 1203.4 959.1 1203.0 959.2 1202.7 959.4 1202.3 959.5 1202.0 959.7 1201.7 959.8 1201.3 960.0 1201.0 960.1 1200.7 960.2 1200.3 960.4 1200.0 960.5 1199.7 960.7 1199.3 960.8 1199.0 961.0 1198.7 961.1 1198.4 961.3 1198.1 961.4 1197.8 961.6 1197.5 961.7 1197.1 961.9 1196.8 962.0 1197.1 962.2 1197.4 962.3 1197.8 962.5 1198.1 962.6 1198.4 962.8 1198.8 962.9 1199.1 963.1 1199.4 963.2 1199.8 963.4 1200.1 963.5 1200.4 963.7 1200.8 963.8 1201.1 963.9 1201.4 964.1 1201.7 964.2 1202.0 964.4 1202.3 964.5 1202.6 964.7 1202.9 964.8 1203.3 965.0 1203.6 965.1 1203.8 965.3 1204.1 965.4 1204.4 965.6 1204.7 965.7 1205.0 965.9 1205.3 966.0 1205.6 966.2 1205.9 966.3 1206.1 966.5 1206.4 966.6 1206.7 966.8 1206.9 966.9 1207.2 967.1 1207.5 967.2 1207.7 967.4 1208.0 967.5 1208.2 967.7 1208.4 967.8 1208.7 967.9 1208.9 968.1 1209.1 968.2 1209.4 968.4 1209.5 968.5 1209.4 968.7 1209.2 968.8 1209.0 969.0 1208.8 969.1 1208.6 969.3 1208.4 969.4 1208.2 969.6 1208.0 969.7 1207.8 969.9 1207.6 970.0 1207.4 970.2 1207.1 970.3 1206.9 970.5 1206.6 970.6 1206.4 970.8 1206.1 970.9 1205.8 971.1 1205.6 971.2 1205.3 971.4 1205.0 971.5 1204.7 971.6 1204.4 971.8 1204.1 971.9 1203.8 972.1 1203.5 972.2 1203.2 972.4 1202.9 972.5 1202.5 972.7 1202.2 972.8 1201.9 973.0 1201.5 973.1 1201.2 973.3 1200.8 973.4 1200.5 973.6 1200.1 973.7 1199.8 973.9 1199.4 974.0 1199.1 974.2 1198.7 974.3 1198.4 974.5 1198.0 974.6 1197.6 974.8 1197.3 974.9 1197.2 975.1 1197.5 975.2 1197.8 975.4 1198.0 975.5 1198.3 975.6 1198.6 975.8 1198.9 975.9 1199.1 976.1 1199.4 976.2 1199.7 976.4 1200.0 976.5 1200.2 976.7 1200.5 976.8 1200.7 977.0 1201.0 977.1 1201.3 977.3 1201.5 977.4 1201.8 977.6 1202.0 977.7 1202.2 977.9 1202.5 978.0 1202.7 978.2 1202.9 978.3 1203.2 978.5 1203.4 978.6 1203.6 978.8 1203.9 978.9 1204.1 979.1 1204.3 979.2 1204.5 979.3 1204.7 979.5 1204.9 979.6 1205.1 979.8 1205.3 979.9 1205.5 980.1 1205.7 980.2 1205.9 980.4 1206.1 980.5 1206.3 980.7 1206.4 980.8 1206.6 981.0 1206.8 981.1 1207.0 981.3 1207.1 981.4 1207.0 981.6 1206.8 981.7 1206.5 981.9 1206.3 982.0 1206.1 982.2 1205.9 982.3 1205.6 982.5 1205.4 982.6 1205.2 982.8 1204.9 982.9 1204.7 983.1 1204.5 983.2 1204.2 983.3 1204.0 983.5 1203.7 983.6 1203.5 983.8 1203.2 983.9 1203.0 984.1 1202.7 984.2 1202.5 984.4 1202.2 984.5 1202.0 984.7 1201.7 984.8 1201.4 985.0 1201.2 985.1 1200.9 985.3 1200.7 985.4 1200.4 985.6 1200.1 985.7 1199.9 985.9 1199.6 986.0 1199.3 986.2 1199.1 986.3 1198.8 986.5 1198.5 986.6 1198.3 986.8 1198.0 986.9 1197.7 987.0 1197.5 987.2 1197.2 987.3 1196.9 987.5 1196.7 987.6 1196.4 987.8 1196.2 987.9 1196.7 988.1 1197.1 988.2 1197.5 988.4 1198.0 988.5 1198.4 988.7 1198.9 988.8 1199.3 989.0 1199.8 989.1 1200.2 989.3 1200.7 989.4 1201.1 989.6 1201.6 989.7 1202.0 989.9 1202.5 990.0 1202.9 990.2 1203.4 990.3 1203.8 990.5 1204.3 990.6 1204.7 990.8 1205.1 990.9 1205.6"/>
<clipPath id="cpd"><rect x="1261.8" y="845.6" width="742.2" height="600.6"/></clipPath>
<path clip-path="url(#cpd)" fill="none" stroke="#0000ff" stroke-width="2.4" stroke-linejoin="round" d="M1264.0 1086.3 1264.4 1225.3 1264.7 1074.9 1265.1 1236.9 1265.5 1050.5 1265.8 1235.3 1266.2 1257.7 1266.6 1248.7 1267.0 1063.9 1267.3 1270.8 1267.7 1117.6 1268.1 1276.3 1268.4 1119.0 1268.8 1272.9 1269.2 1142.5 1269.5 1263.2 1269.9 1144.8 1270.3 1207.4 1270.7 1113.3 1271.0 1178.8 1271.4 1151.8 1271.8 1223.7 1272.1 1189.5 1272.5 1246.9 1272.9 1201.4 1273.2 1246.3 1273.6 1212.7 1274.0 1274.8 1274.4 1245.4 1274.7 1290.6 1275.1 1230.7 1275.5 1257.8 1275.8 1214.0 1276.2 1253.5 1276.6 1213.1 1277.0 1255.8 1277.3 1193.1 1277.7 1228.4 1278.1 1175.2 1278.4 1222.6 1278.8 1199.0 1279.2 1261.2 1279.5 1223.8 1279.9 1270.1 1280.3 1221.8 1280.7 1270.0 1281.0 1238.9 1281.4 1291.6 1281.8 1248.9 1282.1 1286.7 1282.5 1231.3 1282.9 1272.2 1283.2 1218.8 1283.6 1274.5 1284.0 1220.7 1284.3 1278.6 1284.7 1224.0 1285.1 1253.8 1285.5 1194.3 1285.8 1243.7 1286.2 1217.0 1286.6 1273.0 1286.9 1233.5 1287.3 1276.4 1287.7 1236.6 1288.0 1292.0 1288.4 1245.3 1288.8 1310.6 1289.2 1269.1 1289.5 1299.8 1289.9 1244.1 1290.3 1277.4 1290.6 1236.7 1291.0 1278.8 1291.4 1229.5 1291.8 1265.8 1292.1 1205.7 1292.5 1234.9 1292.9 1196.6 1293.2 1257.9 1293.6 1232.0 1294.0 1281.6 1294.3 1230.4 1294.7 1277.4 1295.1 1228.2 1295.5 1284.3 1295.8 1244.9 1296.2 1292.6 1296.6 1248.0 1296.9 1286.3 1297.3 1240.7 1297.7 1278.1 1298.0 1241.8 1298.4 1285.0 1298.8 1241.9 1299.2 1278.5 1299.5 1227.5 1299.9 1272.1 1300.3 1238.2 1300.6 1276.2 1301.0 1245.0 1301.4 1303.0 1301.7 1245.3 1302.1 1285.1 1302.5 1249.6 1302.8 1290.0 1303.2 1258.0 1303.6 1304.9 1304.0 1267.7 1304.3 1301.1 1304.7 1254.0 1305.1 1290.9 1305.4 1248.7 1305.8 1293.7 1306.2 1246.5 1306.5 1264.9 1306.9 1208.4 1307.3 1235.1 1307.7 1215.0 1308.0 1275.8 1308.4 1250.5 1308.8 1297.9 1309.1 1256.8 1309.5 1295.9 1309.9 1261.4 1310.2 1310.0 1310.6 1265.2 1311.0 1310.2 1311.4 1266.0 1311.7 1319.4 1312.1 1264.2 1312.5 1300.5 1312.8 1257.6 1313.2 1299.2 1313.6 1256.4 1314.0 1276.2 1314.3 1224.9 1314.7 1265.5 1315.1 1234.4 1315.4 1292.5 1315.8 1259.9 1316.2 1299.4 1316.5 1265.7 1316.9 1301.6 1317.3 1268.6 1317.7 1311.4 1318.0 1278.7 1318.4 1317.0 1318.8 1274.0 1319.1 1306.3 1319.5 1258.4 1319.9 1299.3 1320.2 1264.8 1320.6 1295.9 1321.0 1251.1 1321.3 1268.3 1321.7 1218.7 1322.1 1265.2 1322.5 1237.3 1322.8 1296.2 1323.2 1256.5 1323.6 1304.6 1323.9 1264.8 1324.3 1300.9 1324.7 1269.9 1325.0 1310.3 1325.4 1278.5 1325.8 1329.6 1326.2 1261.4 1326.5 1304.2 1326.9 1265.2 1327.3 1299.8 1327.6 1264.0 1328.0 1298.0 1328.4 1259.6 1328.8 1294.3 1329.1 1237.7 1329.5 1279.7 1329.9 1255.1 1330.2 1298.6 1330.6 1269.0 1331.0 1305.9 1331.3 1270.9 1331.7 1305.8 1332.1 1275.9 1332.5 1326.7 1332.8 1289.9 1333.2 1331.4 1333.6 1281.6 1333.9 1319.8 1334.3 1273.5 1334.7 1316.0 1335.0 1277.0 1335.4 1309.8 1335.8 1251.6 1336.2 1265.9 1336.5 1216.0 1336.9 1280.9 1337.3 1260.1 1337.6 1313.7 1338.0 1273.5 1338.4 1322.2 1338.7 1286.7 1339.1 1324.7 1339.5 1294.4 1339.8 1332.9 1340.2 1299.1 1340.6 1330.9 1341.0 1290.1 1341.3 1332.3 1341.7 1282.8 1342.1 1331.6 1342.4 1284.5 1342.8 1313.0 1343.2 1260.7 1343.5 1291.3 1343.9 1263.9 1344.3 1319.4 1344.7 1280.6 1345.0 1320.4 1345.4 1286.5 1345.8 1322.7 1346.1 1279.0 1346.5 1327.2 1346.9 1292.4 1347.2 1336.5 1347.6 1298.4 1348.0 1322.2 1348.4 1285.7 1348.7 1319.7 1349.1 1285.7 1349.5 1314.6 1349.8 1280.4 1350.2 1318.5 1350.6 1257.5 1351.0 1295.3 1351.3 1263.0 1351.7 1304.2 1352.1 1280.4 1352.4 1314.1 1352.8 1270.3 1353.2 1312.4 1353.5 1283.4 1353.9 1320.2 1354.3 1292.1 1354.7 1328.0 1355.0 1293.4 1355.4 1322.3 1355.8 1284.2 1356.1 1317.3 1356.5 1281.4 1356.9 1313.3 1357.2 1278.4 1357.6 1298.7 1358.0 1250.3 1358.3 1289.3 1358.7 1254.1 1359.1 1304.2 1359.5 1277.4 1359.8 1321.7 1360.2 1276.9 1360.6 1314.3 1360.9 1279.6 1361.3 1322.2 1361.7 1292.3 1362.0 1330.4 1362.4 1284.1 1362.8 1330.7 1363.2 1287.1 1363.5 1320.3 1363.9 1286.2 1364.3 1322.8 1364.6 1280.5 1365.0 1317.2 1365.4 1277.1 1365.8 1315.9 1366.1 1287.4 1366.5 1320.0 1366.9 1289.3 1367.2 1321.6 1367.6 1282.2 1368.0 1326.9 1368.3 1296.3 1368.7 1332.8 1369.1 1306.2 1369.5 1339.7 1369.8 1300.5 1370.2 1329.4 1370.6 1293.0 1370.9 1330.7 1371.3 1291.9 1371.7 1325.0 1372.0 1274.3 1372.4 1302.1 1372.8 1265.2 1373.2 1304.9 1373.5 1278.0 1373.9 1321.0 1374.3 1290.1 1374.6 1319.8 1375.0 1286.3 1375.4 1318.9 1375.7 1286.6 1376.1 1324.8 1376.5 1271.9 1376.8 1321.9 1377.2 1289.8 1377.6 1316.9 1378.0 1283.1 1378.3 1317.8 1378.7 1275.7 1379.1 1327.2 1379.4 1279.5 1379.8 1309.4 1380.2 1270.0 1380.5 1301.5 1380.9 1277.1 1381.3 1314.9 1381.7 1280.6 1382.0 1318.5 1382.4 1285.9 1382.8 1321.7 1383.1 1290.7 1383.5 1328.3 1383.9 1297.0 1384.2 1323.6 1384.6 1280.9 1385.0 1316.0 1385.4 1283.1 1385.7 1315.2 1386.1 1283.5 1386.5 1314.7 1386.8 1256.5 1387.2 1294.7 1387.6 1253.1 1388.0 1294.1 1388.3 1269.1 1388.7 1313.3 1389.1 1282.7 1389.4 1312.9 1389.8 1284.7 1390.2 1322.0 1390.5 1298.0 1390.9 1336.9 1391.3 1296.7 1391.7 1327.3 1392.0 1287.5 1392.4 1323.8 1392.8 1272.2 1393.1 1316.8 1393.5 1280.6 1393.9 1301.7 1394.2 1259.6 1394.6 1311.5 1395.0 1258.4 1395.3 1302.0 1395.7 1276.5 1396.1 1319.8 1396.5 1282.1 1396.8 1315.2 1397.2 1280.5 1397.6 1324.1 1397.9 1280.1 1398.3 1322.8 1398.7 1289.5 1399.0 1323.9 1399.4 1285.0 1399.8 1316.1 1400.2 1285.2 1400.5 1322.6 1400.9 1285.1 1401.3 1312.1 1401.6 1272.5 1402.0 1302.9 1402.4 1254.3 1402.8 1306.2 1403.1 1280.9 1403.5 1320.5 1403.9 1280.9 1404.2 1320.3 1404.6 1288.8 1405.0 1343.0 1405.3 1298.3 1405.7 1336.7 1406.1 1299.2 1406.5 1328.7 1406.8 1291.6 1407.2 1325.5 1407.6 1292.8 1407.9 1324.8 1408.3 1282.1 1408.7 1308.8 1409.0 1262.3 1409.4 1301.8 1409.8 1267.7 1410.2 1315.8 1410.5 1288.5 1410.9 1319.0 1411.3 1287.9 1411.6 1318.2 1412.0 1287.2 1412.4 1327.2 1412.7 1288.7 1413.1 1349.3 1413.5 1295.7 1413.8 1318.3 1414.2 1282.1 1414.6 1313.1 1415.0 1277.5 1415.3 1310.7 1415.7 1275.6 1416.1 1298.3 1416.4 1260.1 1416.8 1290.0 1417.2 1266.9 1417.5 1315.0 1417.9 1276.2 1418.3 1313.4 1418.7 1284.1 1419.0 1315.8 1419.4 1289.7 1419.8 1330.9 1420.1 1294.8 1420.5 1332.6 1420.9 1296.3 1421.2 1322.5 1421.6 1287.4 1422.0 1323.3 1422.4 1291.3 1422.7 1331.4 1423.1 1289.5 1423.5 1318.3 1423.8 1286.5 1424.2 1319.3 1424.6 1291.5 1425.0 1327.8 1425.3 1291.4 1425.7 1340.6 1426.1 1297.2 1426.4 1333.9 1426.8 1303.5 1427.2 1344.6 1427.5 1303.5 1427.9 1341.1 1428.3 1303.2 1428.7 1328.9 1429.0 1295.4 1429.4 1327.9 1429.8 1285.9 1430.1 1320.8 1430.5 1281.7 1430.9 1313.7 1431.2 1266.3 1431.6 1307.6 1432.0 1281.7 1432.3 1333.1 1432.7 1291.4 1433.1 1325.8 1433.5 1290.2 1433.8 1327.5 1434.2 1299.2 1434.6 1335.6 1434.9 1301.8 1435.3 1331.5 1435.7 1285.9 1436.0 1329.8 1436.4 1290.1 1436.8 1325.9 1437.2 1286.6 1437.5 1320.6 1437.9 1277.0 1438.3 1308.0 1438.6 1267.2 1439.0 1320.4 1439.4 1279.8 1439.8 1324.3 1440.1 1278.7 1440.5 1319.4 1440.9 1278.8 1441.2 1320.7 1441.6 1293.6 1442.0 1328.2 1442.3 1299.4 1442.7 1326.8 1443.1 1291.1 1443.5 1325.4 1443.8 1286.8 1444.2 1319.3 1444.6 1284.8 1444.9 1312.4 1445.3 1267.7 1445.7 1300.9 1446.0 1266.2 1446.4 1311.1 1446.8 1284.3 1447.2 1323.4 1447.5 1285.2 1447.9 1319.1 1448.3 1284.9 1448.6 1325.6 1449.0 1303.5 1449.4 1356.2 1449.7 1307.1 1450.1 1330.1 1450.5 1292.8 1450.8 1327.9 1451.2 1290.5 1451.6 1327.7 1452.0 1285.1 1452.3 1311.8 1452.7 1260.5 1453.1 1292.8 1453.4 1267.9 1453.8 1331.4 1454.2 1281.2 1454.5 1325.6 1454.9 1286.6 1455.3 1324.9 1455.7 1290.3 1456.0 1328.0 1456.4 1295.3 1456.8 1334.4 1457.1 1294.5 1457.5 1332.1 1457.9 1289.7 1458.2 1320.7 1458.6 1283.9 1459.0 1321.1 1459.4 1287.3 1459.7 1324.9 1460.1 1280.2 1460.5 1317.1 1460.8 1271.0 1461.2 1320.8 1461.6 1288.1 1462.0 1318.5 1462.3 1284.2 1462.7 1322.1 1463.1 1292.0 1463.4 1333.6 1463.8 1305.7 1464.2 1335.7 1464.5 1298.4 1464.9 1323.9 1465.3 1286.7 1465.7 1318.7 1466.0 1287.0 1466.4 1318.2 1466.8 1282.1 1467.1 1308.5 1467.5 1269.6 1467.9 1306.6 1468.2 1274.2 1468.6 1318.0 1469.0 1281.1 1469.3 1319.5 1469.7 1290.1 1470.1 1320.3 1470.5 1285.7 1470.8 1329.7 1471.2 1298.8 1471.6 1334.4 1471.9 1285.2 1472.3 1322.4 1472.7 1283.0 1473.0 1326.7 1473.4 1289.1 1473.8 1317.3 1474.2 1264.4 1474.5 1311.1 1474.9 1275.9 1475.3 1310.7 1475.6 1272.9 1476.0 1325.6 1476.4 1288.7 1476.8 1326.9 1477.1 1289.5 1477.5 1323.9 1477.9 1292.8 1478.2 1333.4 1478.6 1303.7 1479.0 1330.4 1479.3 1289.0 1479.7 1328.7 1480.1 1289.7 1480.5 1326.0 1480.8 1287.8 1481.2 1317.2 1481.6 1259.6 1481.9 1306.7 1482.3 1260.1 1482.7 1317.1 1483.0 1285.1 1483.4 1320.3 1483.8 1289.1 1484.2 1327.7 1484.5 1292.6 1484.9 1326.5 1485.3 1301.2 1485.6 1343.2 1486.0 1313.9 1486.4 1337.2 1486.7 1296.5 1487.1 1328.8 1487.5 1290.4 1487.8 1323.1 1488.2 1289.9 1488.6 1320.0 1489.0 1284.1 1489.3 1310.8 1489.7 1279.2 1490.1 1315.9 1490.4 1284.2 1490.8 1323.3 1491.2 1291.0 1491.5 1321.9 1491.9 1285.1 1492.3 1324.4 1492.7 1298.9 1493.0 1339.1 1493.4 1303.5 1493.8 1330.9 1494.1 1287.5 1494.5 1322.6 1494.9 1290.1 1495.2 1322.5 1495.6 1288.0 1496.0 1308.8 1496.4 1262.3 1496.7 1290.1 1497.1 1262.2 1497.5 1305.7 1497.8 1286.8 1498.2 1325.4 1498.6 1290.6 1499.0 1329.4 1499.3 1295.0 1499.7 1334.3 1500.1 1304.3 1500.4 1352.0 1500.8 1306.3 1501.2 1337.9 1501.5 1295.6 1501.9 1324.7 1502.3 1291.5 1502.7 1329.8 1503.0 1292.5 1503.4 1317.4 1503.8 1277.8 1504.1 1318.0 1504.5 1279.3 1504.9 1317.8 1505.2 1283.7 1505.6 1329.6 1506.0 1291.5 1506.3 1326.8 1506.7 1292.4 1507.1 1342.3 1507.5 1317.4 1507.8 1347.9 1508.2 1304.9 1508.6 1345.8 1508.9 1292.1 1509.3 1326.0 1509.7 1290.3 1510.0 1333.1 1510.4 1289.0 1510.8 1317.8 1511.2 1267.3 1511.5 1311.0 1511.9 1279.8 1512.3 1320.2 1512.6 1285.8 1513.0 1325.5 1513.4 1279.2 1513.8 1327.0 1514.1 1296.7 1514.5 1334.4 1514.9 1308.9 1515.2 1340.3 1515.6 1298.4 1516.0 1324.6 1516.3 1289.9 1516.7 1320.2 1517.1 1289.2 1517.5 1317.4 1517.8 1272.4 1518.2 1294.7 1518.6 1255.7 1518.9 1296.8 1519.3 1268.5 1519.7 1317.4 1520.0 1252.8 1520.4 1330.3 1520.8 1281.7 1521.2 1316.6 1521.5 1286.9 1521.9 1325.3 1522.3 1285.6 1522.6 1325.0 1523.0 1292.8 1523.4 1317.2 1523.7 1285.6 1524.1 1321.5 1524.5 1276.9 1524.8 1311.0 1525.2 1265.7 1525.6 1296.0 1526.0 1263.8 1526.3 1301.2 1526.7 1278.5 1527.1 1318.7 1527.4 1275.6 1527.8 1319.0 1528.2 1283.4 1528.5 1316.9 1528.9 1283.1 1529.3 1332.0 1529.7 1293.9 1530.0 1328.4 1530.4 1284.5 1530.8 1318.7 1531.1 1279.8 1531.5 1325.7 1531.9 1286.7 1532.2 1319.5 1532.6 1271.2 1533.0 1294.2 1533.4 1259.4 1533.7 1303.6 1534.1 1282.2 1534.5 1325.9 1534.8 1284.2 1535.2 1328.6 1535.6 1292.3 1536.0 1338.8 1536.3 1313.6 1536.7 1356.5 1537.1 1322.3 1537.4 1349.6 1537.8 1308.7 1538.2 1341.7 1538.5 1305.6 1538.9 1337.2 1539.3 1305.8 1539.7 1338.2 1540.0 1291.9 1540.4 1319.0 1540.8 1284.6 1541.1 1323.5 1541.5 1295.3 1541.9 1344.5 1542.2 1304.9 1542.6 1334.9 1543.0 1306.9 1543.3 1344.9 1543.7 1317.4 1544.1 1351.2 1544.5 1317.5 1544.8 1344.3 1545.2 1305.8 1545.6 1333.2 1545.9 1293.8 1546.3 1333.1 1546.7 1292.9 1547.0 1333.1 1547.4 1288.8 1547.8 1328.7 1548.2 1289.2 1548.5 1332.1 1548.9 1291.7 1549.3 1340.5 1549.6 1300.1 1550.0 1332.2 1550.4 1302.5 1550.8 1332.4 1551.1 1305.7 1551.5 1336.2 1551.9 1304.6 1552.2 1335.8 1552.6 1286.3 1553.0 1335.6 1553.3 1301.6 1553.7 1334.5 1554.1 1294.9 1554.5 1322.0 1554.8 1283.0 1555.2 1315.9 1555.6 1287.0 1555.9 1328.3 1556.3 1303.9 1556.7 1335.3 1557.0 1306.6 1557.4 1347.2 1557.8 1296.8 1558.2 1351.5 1558.5 1316.3 1558.9 1358.0 1559.3 1310.2 1559.6 1345.5 1560.0 1299.1 1560.4 1341.0 1560.7 1310.9 1561.1 1340.8 1561.5 1308.3 1561.8 1335.6 1562.2 1288.7 1562.6 1320.2 1563.0 1270.0 1563.3 1337.3 1563.7 1310.2 1564.1 1346.0 1564.4 1313.0 1564.8 1358.4 1565.2 1317.0 1565.5 1362.1 1565.9 1334.6 1566.3 1363.1 1566.7 1321.3 1567.0 1343.5 1567.4 1308.9 1567.8 1342.6 1568.1 1305.6 1568.5 1335.5 1568.9 1292.0 1569.2 1316.5 1569.6 1274.6 1570.0 1323.6 1570.4 1290.4 1570.7 1341.8 1571.1 1298.6 1571.5 1340.2 1571.8 1281.9 1572.2 1335.5 1572.6 1297.2 1573.0 1342.2 1573.3 1305.9 1573.7 1339.5 1574.1 1305.8 1574.4 1336.2 1574.8 1296.5 1575.2 1331.8 1575.5 1301.8 1575.9 1337.5 1576.3 1289.4 1576.7 1316.6 1577.0 1277.9 1577.4 1322.2 1577.8 1295.6 1578.1 1334.4 1578.5 1303.8 1578.9 1339.2 1579.2 1303.2 1579.6 1343.1 1580.0 1315.4 1580.3 1359.3 1580.7 1322.6 1581.1 1348.5 1581.5 1311.6 1581.8 1342.5 1582.2 1309.5 1582.6 1340.0 1582.9 1309.6 1583.3 1335.6 1583.7 1285.0 1584.0 1323.7 1584.4 1292.8 1584.8 1342.3 1585.2 1304.4 1585.5 1340.0 1585.9 1304.6 1586.3 1338.3 1586.6 1287.5 1587.0 1346.2 1587.4 1318.0 1587.8 1356.5 1588.1 1322.7 1588.5 1345.8 1588.9 1307.0 1589.2 1335.0 1589.6 1303.9 1590.0 1333.8 1590.3 1292.2 1590.7 1332.4 1591.1 1290.4 1591.5 1322.3 1591.8 1289.5 1592.2 1325.1 1592.6 1298.3 1592.9 1330.5 1593.3 1300.1 1593.7 1331.8 1594.0 1298.9 1594.4 1336.3 1594.8 1309.3 1595.2 1347.0 1595.5 1310.0 1595.9 1349.2 1596.3 1303.8 1596.6 1345.9 1597.0 1302.0 1597.4 1343.7 1597.7 1300.5 1598.1 1332.2 1598.5 1286.6 1598.8 1320.3 1599.2 1291.0 1599.6 1327.8 1600.0 1305.0 1600.3 1336.2 1600.7 1306.2 1601.1 1336.7 1601.4 1311.1 1601.8 1352.8 1602.2 1322.4 1602.5 1356.5 1602.9 1317.5 1603.3 1349.4 1603.7 1308.0 1604.0 1339.0 1604.4 1304.9 1604.8 1338.4 1605.1 1301.2 1605.5 1332.7 1605.9 1298.0 1606.2 1333.0 1606.6 1300.8 1607.0 1356.1 1607.4 1304.9 1607.7 1357.6 1608.1 1293.6 1608.5 1344.1 1608.8 1312.7 1609.2 1348.0 1609.6 1322.2 1610.0 1358.8 1610.3 1320.9 1610.7 1349.7 1611.1 1311.3 1611.4 1340.9 1611.8 1311.2 1612.2 1340.1 1612.5 1303.7 1612.9 1340.5 1613.3 1291.6 1613.7 1327.0 1614.0 1283.1 1614.4 1338.0 1614.8 1307.9 1615.1 1338.7 1615.5 1309.4 1615.9 1350.4 1616.2 1313.3 1616.6 1349.0 1617.0 1319.6 1617.3 1354.1 1617.7 1314.3 1618.1 1339.8 1618.5 1307.8 1618.8 1338.4 1619.2 1304.4 1619.6 1335.7 1619.9 1296.7 1620.3 1329.2 1620.7 1290.3 1621.0 1323.0 1621.4 1295.6 1621.8 1336.9 1622.2 1307.2 1622.5 1349.8 1622.9 1301.3 1623.3 1356.7 1623.6 1315.4 1624.0 1350.6 1624.4 1320.2 1624.8 1354.6 1625.1 1310.1 1625.5 1346.7 1625.9 1305.3 1626.2 1345.0 1626.6 1305.6 1627.0 1340.2 1627.3 1304.7 1627.7 1336.8 1628.1 1301.7 1628.5 1337.6 1628.8 1304.2 1629.2 1340.1 1629.6 1305.9 1629.9 1343.3 1630.3 1305.3 1630.7 1341.6 1631.0 1309.0 1631.4 1343.2 1631.8 1308.0 1632.2 1342.9 1632.5 1299.6 1632.9 1343.3 1633.3 1307.1 1633.6 1356.3 1634.0 1304.5 1634.4 1335.5 1634.7 1296.0 1635.1 1324.1 1635.5 1292.1 1635.8 1329.2 1636.2 1300.1 1636.6 1343.3 1637.0 1306.7 1637.3 1343.2 1637.7 1307.2 1638.1 1348.5 1638.4 1328.3 1638.8 1365.4 1639.2 1330.9 1639.6 1362.4 1639.9 1316.8 1640.3 1345.5 1640.7 1308.7 1641.0 1343.9 1641.4 1305.8 1641.8 1334.6 1642.1 1296.6 1642.5 1327.8 1642.9 1296.7 1643.2 1335.3 1643.6 1306.1 1644.0 1351.8 1644.4 1307.7 1644.7 1341.8 1645.1 1311.1 1645.5 1348.8 1645.8 1320.8 1646.2 1381.3 1646.6 1322.0 1647.0 1352.3 1647.3 1306.3 1647.7 1336.4 1648.1 1305.7 1648.4 1339.0 1648.8 1303.9 1649.2 1329.1 1649.5 1281.7 1649.9 1330.5 1650.3 1293.6 1650.7 1340.8 1651.0 1289.2 1651.4 1335.7 1651.8 1305.0 1652.1 1335.6 1652.5 1304.6 1652.9 1338.2 1653.2 1308.4 1653.6 1343.3 1654.0 1304.1 1654.4 1352.6 1654.7 1302.5 1655.1 1347.6 1655.5 1305.5 1655.8 1337.1 1656.2 1298.4 1656.6 1329.0 1656.9 1286.7 1657.3 1340.8 1657.7 1290.8 1658.0 1337.7 1658.4 1307.6 1658.8 1338.4 1659.2 1300.9 1659.5 1343.0 1659.9 1313.8 1660.3 1353.9 1660.6 1328.8 1661.0 1358.3 1661.4 1321.0 1661.8 1369.5 1662.1 1310.4 1662.5 1355.8 1662.9 1311.9 1663.2 1342.9 1663.6 1293.9 1664.0 1344.4 1664.3 1290.2 1664.7 1330.2 1665.1 1305.1 1665.5 1345.2 1665.8 1301.0 1666.2 1351.4 1666.6 1300.2 1666.9 1355.7 1667.3 1314.4 1667.7 1353.2 1668.0 1323.3 1668.4 1357.0 1668.8 1319.2 1669.2 1355.0 1669.5 1313.2 1669.9 1349.8 1670.3 1309.0 1670.6 1355.2 1671.0 1296.8 1671.4 1329.8 1671.7 1294.1 1672.1 1345.8 1672.5 1298.8 1672.8 1343.0 1673.2 1310.5 1673.6 1342.1 1674.0 1305.1 1674.3 1344.0 1674.7 1313.3 1675.1 1351.2 1675.4 1314.7 1675.8 1346.8 1676.2 1306.4 1676.5 1348.1 1676.9 1306.1 1677.3 1339.4 1677.7 1298.9 1678.0 1338.0 1678.4 1285.9 1678.8 1314.3 1679.1 1272.7 1679.5 1317.6 1679.9 1282.6 1680.2 1338.8 1680.6 1296.4 1681.0 1338.6 1681.4 1301.2 1681.7 1345.3 1682.1 1310.2 1682.5 1355.4 1682.8 1319.4 1683.2 1349.5 1683.6 1310.6 1684.0 1337.0 1684.3 1307.6 1684.7 1342.1 1685.1 1301.5 1685.4 1329.2 1685.8 1274.5 1686.2 1318.3 1686.5 1275.0 1686.9 1323.5 1687.3 1300.6 1687.7 1342.3 1688.0 1306.3 1688.4 1338.0 1688.8 1298.6 1689.1 1347.2 1689.5 1318.5 1689.9 1357.4 1690.2 1317.3 1690.6 1353.2 1691.0 1306.2 1691.3 1344.0 1691.7 1304.2 1692.1 1338.6 1692.5 1307.3 1692.8 1344.4 1693.2 1295.2 1693.6 1322.7 1693.9 1288.6 1694.3 1333.5 1694.7 1305.7 1695.0 1342.7 1695.4 1311.8 1695.8 1345.0 1696.2 1308.6 1696.5 1352.4 1696.9 1322.3 1697.3 1357.8 1697.6 1320.2 1698.0 1349.5 1698.4 1311.4 1698.8 1349.7 1699.1 1314.3 1699.5 1349.9 1699.9 1310.8 1700.2 1339.2 1700.6 1305.2 1701.0 1336.1 1701.3 1298.5 1701.7 1342.7 1702.1 1308.6 1702.5 1349.8 1702.8 1294.2 1703.2 1342.9 1703.6 1299.1 1703.9 1349.1 1704.3 1314.3 1704.7 1363.0 1705.0 1308.8 1705.4 1348.6 1705.8 1307.3 1706.2 1345.0 1706.5 1306.4 1706.9 1336.8 1707.3 1291.8 1707.6 1358.5 1708.0 1294.3 1708.4 1328.1 1708.7 1292.4 1709.1 1343.6 1709.5 1300.3 1709.8 1334.1 1710.2 1297.1 1710.6 1331.7 1711.0 1296.8 1711.3 1349.7 1711.7 1305.6 1712.1 1345.1 1712.4 1304.5 1712.8 1348.3 1713.2 1291.6 1713.5 1330.2 1713.9 1286.0 1714.3 1331.0 1714.7 1292.1 1715.0 1317.8 1715.4 1273.6 1715.8 1316.9 1716.1 1287.5 1716.5 1345.6 1716.9 1311.3 1717.2 1342.2 1717.6 1310.6 1718.0 1345.8 1718.4 1318.4 1718.7 1365.6 1719.1 1319.8 1719.5 1371.0 1719.8 1327.8 1720.2 1356.1 1720.6 1321.0 1720.9 1356.1 1721.3 1326.6 1721.7 1361.4 1722.1 1318.9 1722.4 1349.1 1722.8 1316.2 1723.2 1352.3 1723.5 1327.2 1723.9 1369.1 1724.3 1328.4 1724.7 1369.9 1725.0 1329.7 1725.4 1369.0 1725.8 1339.1 1726.1 1377.8 1726.5 1345.4 1726.9 1377.7 1727.2 1337.0 1727.6 1365.9 1728.0 1334.2 1728.3 1366.6 1728.7 1331.9 1729.1 1359.6 1729.5 1318.3 1729.8 1338.5 1730.2 1300.6 1730.6 1343.8 1730.9 1324.0 1731.3 1360.7 1731.7 1326.4 1732.1 1362.9 1732.4 1326.0 1732.8 1371.1 1733.2 1337.7 1733.5 1372.5 1733.9 1338.5 1734.3 1363.9 1734.6 1328.3 1735.0 1354.8 1735.4 1316.9 1735.8 1351.8 1736.1 1315.4 1736.5 1343.2 1736.9 1299.3 1737.2 1334.8 1737.6 1303.1 1738.0 1341.0 1738.3 1315.9 1738.7 1352.1 1739.1 1318.4 1739.5 1349.6 1739.8 1312.9 1740.2 1354.6 1740.6 1321.1 1740.9 1362.6 1741.3 1330.7 1741.7 1358.6 1742.0 1318.9 1742.4 1356.8 1742.8 1319.8 1743.2 1355.3 1743.5 1317.8 1743.9 1341.1 1744.3 1298.2 1744.6 1329.1 1745.0 1296.4 1745.4 1350.3 1745.7 1320.0 1746.1 1353.4 1746.5 1313.6 1746.9 1360.0 1747.2 1323.7 1747.6 1359.0 1748.0 1327.0 1748.3 1373.3 1748.7 1328.0 1749.1 1359.4 1749.4 1322.2 1749.8 1359.4 1750.2 1320.9 1750.5 1361.2 1750.9 1319.3 1751.3 1345.0 1751.7 1297.7 1752.0 1329.4 1752.4 1305.8 1752.8 1348.5 1753.1 1323.3 1753.5 1358.8 1753.9 1317.7 1754.2 1356.6 1754.6 1320.3 1755.0 1377.6 1755.4 1340.8 1755.7 1380.4 1756.1 1332.7 1756.5 1359.4 1756.8 1320.7 1757.2 1355.6 1757.6 1317.5 1758.0 1359.2 1758.3 1308.2 1758.7 1342.7 1759.1 1288.7 1759.4 1334.9 1759.8 1311.9 1760.2 1349.2 1760.5 1321.5 1760.9 1352.3 1761.3 1320.1 1761.7 1351.9 1762.0 1325.8 1762.4 1361.6 1762.8 1337.5 1763.1 1366.5 1763.5 1324.2 1763.9 1353.3 1764.2 1316.3 1764.6 1350.3 1765.0 1318.9 1765.3 1352.1 1765.7 1309.7 1766.1 1337.5 1766.5 1301.8 1766.8 1339.9 1767.2 1305.8 1767.6 1358.4 1767.9 1306.4 1768.3 1353.5 1768.7 1318.8 1769.0 1358.9 1769.4 1327.5 1769.8 1364.6 1770.2 1333.4 1770.5 1366.3 1770.9 1319.4 1771.3 1349.7 1771.6 1318.0 1772.0 1349.4 1772.4 1315.0 1772.8 1347.3 1773.1 1316.4 1773.5 1349.0 1773.9 1314.0 1774.2 1348.8 1774.6 1316.3 1775.0 1348.4 1775.3 1316.5 1775.7 1349.2 1776.1 1315.2 1776.5 1352.6 1776.8 1321.4 1777.2 1361.2 1777.6 1322.3 1777.9 1359.9 1778.3 1309.9 1778.7 1356.9 1779.0 1315.1 1779.4 1351.0 1779.8 1312.0 1780.2 1362.5 1780.5 1316.8 1780.9 1345.1 1781.3 1307.9 1781.6 1357.6 1782.0 1300.1 1782.4 1359.2 1782.7 1322.3 1783.1 1362.1 1783.5 1314.1 1783.8 1361.3 1784.2 1331.6 1784.6 1379.9 1785.0 1340.4 1785.3 1365.4 1785.7 1325.5 1786.1 1356.1 1786.4 1315.6 1786.8 1360.8 1787.2 1319.2 1787.6 1343.8 1787.9 1298.8 1788.3 1347.9 1788.7 1287.8 1789.0 1339.4 1789.4 1311.3 1789.8 1363.4 1790.1 1318.4 1790.5 1351.5 1790.9 1319.9 1791.2 1362.4 1791.6 1327.4 1792.0 1365.2 1792.4 1326.0 1792.7 1354.6 1793.1 1314.8 1793.5 1348.9 1793.8 1315.4 1794.2 1350.9 1794.6 1312.7 1795.0 1347.5 1795.3 1290.2 1795.7 1321.0 1796.1 1289.1 1796.4 1348.3 1796.8 1317.5 1797.2 1351.0 1797.5 1319.2 1797.9 1354.8 1798.3 1325.0 1798.7 1366.2 1799.0 1335.1 1799.4 1369.8 1799.8 1334.5 1800.1 1362.0 1800.5 1315.3 1800.9 1363.3 1801.2 1325.1 1801.6 1355.9 1802.0 1318.5 1802.3 1358.0 1802.7 1313.2 1803.1 1346.2 1803.5 1313.8 1803.8 1361.4 1804.2 1321.9 1804.6 1382.4 1804.9 1320.6 1805.3 1355.6 1805.7 1326.9 1806.1 1361.3 1806.4 1332.0 1806.8 1363.1 1807.2 1330.1 1807.5 1362.8 1807.9 1320.2 1808.3 1365.6 1808.6 1307.5 1809.0 1352.5 1809.4 1313.7 1809.8 1332.5 1810.1 1292.9 1810.5 1329.3 1810.9 1307.2 1811.2 1348.6 1811.6 1308.2 1812.0 1365.9 1812.3 1312.9 1812.7 1360.0 1813.1 1330.7 1813.4 1369.9 1813.8 1341.0 1814.2 1368.9 1814.6 1326.7 1814.9 1355.6 1815.3 1320.8 1815.7 1367.5 1816.0 1317.9 1816.4 1350.6 1816.8 1308.2 1817.2 1339.9 1817.5 1302.2 1817.9 1347.4 1818.3 1318.8 1818.6 1354.0 1819.0 1323.3 1819.4 1355.0 1819.7 1319.7 1820.1 1356.8 1820.5 1327.9 1820.8 1369.3 1821.2 1343.8 1821.6 1389.5 1822.0 1323.4 1822.3 1366.1 1822.7 1327.5 1823.1 1358.1 1823.4 1323.5 1823.8 1364.5 1824.2 1313.1 1824.6 1340.9 1824.9 1310.2 1825.3 1369.2 1825.7 1315.2 1826.0 1359.0 1826.4 1322.2 1826.8 1364.8 1827.1 1331.7 1827.5 1369.7 1827.9 1344.2 1828.2 1388.5 1828.6 1351.2 1829.0 1374.7 1829.4 1331.4 1829.7 1361.2 1830.1 1328.4 1830.5 1357.5 1830.8 1324.2 1831.2 1355.5 1831.6 1315.3 1831.9 1343.8 1832.3 1312.3 1832.7 1347.6 1833.1 1320.3 1833.4 1358.8 1833.8 1317.6 1834.2 1351.8 1834.5 1315.9 1834.9 1356.5 1835.3 1323.2 1835.7 1357.0 1836.0 1313.1 1836.4 1355.8 1836.8 1313.4 1837.1 1352.5 1837.5 1302.3 1837.9 1350.2 1838.2 1312.2 1838.6 1346.8 1839.0 1303.8 1839.3 1331.8 1839.7 1298.5 1840.1 1337.4 1840.5 1309.9 1840.8 1340.1 1841.2 1310.0 1841.6 1344.8 1841.9 1314.7 1842.3 1352.6 1842.7 1332.6 1843.0 1368.0 1843.4 1320.5 1843.8 1356.6 1844.2 1308.8 1844.5 1348.0 1844.9 1314.1 1845.3 1343.5 1845.6 1305.4 1846.0 1352.3 1846.4 1282.2 1846.8 1312.9 1847.1 1292.2 1847.5 1337.9 1847.9 1315.3 1848.2 1350.6 1848.6 1304.4 1849.0 1358.6 1849.3 1318.9 1849.7 1357.8 1850.1 1320.8 1850.4 1368.8 1850.8 1329.7 1851.2 1355.5 1851.6 1313.6 1851.9 1355.5 1852.3 1312.3 1852.7 1348.8 1853.0 1311.8 1853.4 1333.4 1853.8 1286.8 1854.2 1336.3 1854.5 1306.3 1854.9 1344.0 1855.3 1309.3 1855.6 1349.5 1856.0 1317.0 1856.4 1349.1 1856.7 1314.5 1857.1 1354.1 1857.5 1323.1 1857.8 1358.0 1858.2 1322.0 1858.6 1351.4 1859.0 1318.7 1859.3 1349.6 1859.7 1316.0 1860.1 1347.4 1860.4 1305.1 1860.8 1329.7 1861.2 1288.5 1861.5 1324.5 1861.9 1302.1 1862.3 1346.0 1862.7 1320.1 1863.0 1368.6 1863.4 1322.8 1863.8 1355.0 1864.1 1331.6 1864.5 1376.3 1864.9 1332.2 1865.2 1372.5 1865.6 1332.6 1866.0 1362.3 1866.4 1320.3 1866.7 1359.5 1867.1 1320.0 1867.5 1347.5 1867.8 1302.6 1868.2 1330.4 1868.6 1294.2 1869.0 1340.3 1869.3 1309.2 1869.7 1351.7 1870.1 1319.3 1870.4 1359.5 1870.8 1318.0 1871.2 1361.6 1871.5 1330.2 1871.9 1369.3 1872.3 1341.0 1872.7 1364.3 1873.0 1322.3 1873.4 1353.0 1873.8 1312.4 1874.1 1353.6 1874.5 1312.7 1874.9 1347.3 1875.2 1310.4 1875.6 1339.9 1876.0 1310.6 1876.3 1344.4 1876.7 1311.7 1877.1 1351.9 1877.5 1315.7 1877.8 1362.1 1878.2 1316.7 1878.6 1350.8 1878.9 1324.8 1879.3 1361.3 1879.7 1319.4 1880.0 1371.4 1880.4 1319.0 1880.8 1355.6 1881.2 1316.0 1881.5 1351.2 1881.9 1317.2 1882.3 1344.1 1882.6 1299.6 1883.0 1324.8 1883.4 1297.2 1883.8 1356.7 1884.1 1312.2 1884.5 1348.9 1884.9 1318.6 1885.2 1349.2 1885.6 1316.3 1886.0 1354.1 1886.3 1325.1 1886.7 1357.9 1887.1 1327.9 1887.5 1356.1 1887.8 1309.9 1888.2 1352.6 1888.6 1318.2 1888.9 1348.5 1889.3 1315.3 1889.7 1342.4 1890.0 1291.1 1890.4 1326.3 1890.8 1299.9 1891.2 1343.8 1891.5 1313.4 1891.9 1351.8 1892.3 1316.0 1892.6 1359.9 1893.0 1309.3 1893.4 1368.0 1893.7 1339.4 1894.1 1384.4 1894.5 1333.8 1894.8 1358.7 1895.2 1320.4 1895.6 1355.2 1896.0 1314.0 1896.3 1346.9 1896.7 1305.2 1897.1 1335.0 1897.4 1290.8 1897.8 1333.5 1898.2 1289.7 1898.6 1347.2 1898.9 1317.1 1899.3 1348.0 1899.7 1315.9 1900.0 1366.5 1900.4 1321.9 1900.8 1368.3 1901.1 1332.7 1901.5 1364.9 1901.9 1322.2 1902.2 1360.2 1902.6 1312.5 1903.0 1349.8 1903.4 1321.3 1903.7 1351.0 1904.1 1316.6 1904.5 1346.1 1904.8 1304.5 1905.2 1346.3 1905.6 1303.2 1906.0 1349.5 1906.3 1319.3 1906.7 1356.8 1907.1 1322.0 1907.4 1355.8 1907.8 1322.0 1908.2 1361.7 1908.5 1333.2 1908.9 1368.0 1909.3 1325.5 1909.7 1354.1 1910.0 1318.8 1910.4 1350.3 1910.8 1320.1 1911.1 1348.3 1911.5 1313.5 1911.9 1336.5 1912.2 1299.5 1912.6 1330.6 1913.0 1282.1 1913.3 1348.3 1913.7 1312.5 1914.1 1350.3 1914.5 1317.6 1914.8 1358.1 1915.2 1311.1 1915.6 1368.6 1915.9 1328.9 1916.3 1357.5 1916.7 1318.4 1917.1 1350.1 1917.4 1312.9 1917.8 1351.0 1918.2 1315.9 1918.5 1350.3 1918.9 1313.3 1919.3 1345.9 1919.6 1309.0 1920.0 1344.8 1920.4 1317.0 1920.8 1350.7 1921.1 1313.3 1921.5 1352.0 1921.9 1313.3 1922.2 1358.6 1922.6 1315.4 1923.0 1354.5 1923.3 1309.4 1923.7 1360.2 1924.1 1315.7 1924.5 1353.3 1924.8 1315.0 1925.2 1351.2 1925.6 1317.4 1925.9 1350.5 1926.3 1298.9 1926.7 1351.4 1927.0 1296.8 1927.4 1342.8 1927.8 1307.0 1928.2 1346.8 1928.5 1317.6 1928.9 1347.7 1929.3 1317.8 1929.6 1354.8 1930.0 1304.9 1930.4 1356.1 1930.7 1322.3 1931.1 1351.0 1931.5 1313.2 1931.8 1346.0 1932.2 1301.2 1932.6 1350.8 1933.0 1308.3 1933.3 1341.0 1933.7 1301.0 1934.1 1342.9 1934.4 1292.3 1934.8 1339.7 1935.2 1305.6 1935.6 1341.9 1935.9 1304.8 1936.3 1350.8 1936.7 1313.3 1937.0 1346.3 1937.4 1320.8 1937.8 1352.6 1938.1 1318.4 1938.5 1347.0 1938.9 1309.3 1939.2 1345.1 1939.6 1310.5 1940.0 1347.5 1940.4 1304.6 1940.7 1331.7 1941.1 1292.0 1941.5 1329.8 1941.8 1291.5 1942.2 1339.7 1942.6 1309.7 1943.0 1362.3 1943.3 1316.4 1943.7 1351.4 1944.1 1318.8 1944.4 1366.5 1944.8 1323.5 1945.2 1358.5 1945.5 1324.3 1945.9 1359.0 1946.3 1324.5 1946.7 1364.9 1947.0 1322.1 1947.4 1355.3 1947.8 1323.1 1948.1 1353.9 1948.5 1309.9 1948.9 1349.8 1949.2 1318.8 1949.6 1359.3 1950.0 1328.1 1950.3 1371.8 1950.7 1326.6 1951.1 1361.7 1951.5 1331.2 1951.8 1373.7 1952.2 1334.7 1952.6 1370.3 1952.9 1332.7 1953.3 1364.4 1953.7 1332.5 1954.1 1377.5 1954.4 1332.3 1954.8 1362.4 1955.2 1328.9 1955.5 1355.5 1955.9 1315.0 1956.3 1351.5 1956.6 1316.2 1957.0 1357.3 1957.4 1320.2 1957.8 1363.5 1958.1 1325.3 1958.5 1361.8 1958.9 1328.8 1959.2 1374.2 1959.6 1340.9 1960.0 1378.8 1960.3 1331.1 1960.7 1357.5 1961.1 1322.4 1961.5 1354.0 1961.8 1319.0 1962.2 1357.5 1962.6 1310.9 1962.9 1340.5 1963.3 1306.8 1963.7 1338.6 1964.0 1310.2 1964.4 1346.2 1964.8 1312.1 1965.2 1348.0 1965.5 1316.7 1965.9 1358.8 1966.3 1316.2 1966.6 1371.1 1967.0 1332.3 1967.4 1360.7 1967.7 1318.5 1968.1 1350.4 1968.5 1318.6 1968.8 1349.4 1969.2 1316.6 1969.6 1349.9 1970.0 1310.7 1970.3 1336.7 1970.7 1306.3 1971.1 1342.1 1971.4 1317.3 1971.8 1356.6 1972.2 1306.8 1972.6 1351.8 1972.9 1322.3 1973.3 1356.5 1973.7 1322.2 1974.0 1360.8 1974.4 1328.2 1974.8 1364.4 1975.1 1318.6 1975.5 1355.1 1975.9 1322.0 1976.2 1360.9 1976.6 1319.7 1977.0 1354.1 1977.4 1312.3 1977.7 1337.7 1978.1 1310.7 1978.5 1348.1 1978.8 1320.9 1979.2 1354.7 1979.6 1325.7 1980.0 1369.5 1980.3 1323.9 1980.7 1373.6 1981.1 1325.8 1981.4 1376.1 1981.8 1327.3 1982.2 1356.9 1982.5 1317.7 1982.9 1358.6 1983.3 1317.9 1983.7 1350.0 1984.0 1314.3 1984.4 1348.1 1984.8 1301.3 1985.1 1333.2 1985.5 1296.2 1985.9 1336.6 1986.2 1302.4 1986.6 1345.6 1987.0 1310.6 1987.3 1352.4 1987.7 1312.4 1988.1 1344.7 1988.5 1316.5 1988.8 1352.9 1989.2 1318.4 1989.6 1346.3 1989.9 1309.5 1990.3 1340.0 1990.7 1310.9 1991.1 1339.9 1991.4 1307.7 1991.8 1335.2 1992.2 1289.7 1992.5 1322.7 1992.9 1291.4 1993.3 1342.4 1993.6 1310.5 1994.0 1346.5 1994.4 1307.5 1994.8 1355.4 1995.1 1317.8 1995.5 1357.8 1995.9 1327.9 1996.2 1373.2 1996.6 1327.3 1997.0 1358.5 1997.3 1318.1 1997.7 1353.4 1998.1 1311.7 1998.5 1370.3 1998.8 1310.3 1999.2 1342.0 1999.6 1297.9 1999.9 1332.2 2000.3 1308.2 2000.7 1347.9 2001.0 1316.4 2001.4 1359.6 2001.8 1303.2 2002.2 1357.9 2002.5 1329.4 2002.9 1367.6 2003.3 1333.5 2003.6 1363.3 2004.0 1322.4"/>
<text transform="translate(515.0,790.0) scale(1,1.06)" x="0" y="0" style="font-family:'Liberation Serif','Times New Roman',serif;font-weight:bold;font-size:51.2px">Time (ps)</text>
<text transform="translate(118.0,375.0) rotate(-90) scale(1,1.04)" x="0" y="0" text-anchor="middle" style="font-family:'Liberation Serif','Times New Roman',serif;font-weight:bold;font-size:51.2px">Energy (eV)</text>
<text x="17.2" y="71.1" style="font-family:'Liberation Serif','Times New Roman',serif;font-weight:bold;font-size:68px">(a)</text>
<text transform="translate(1526.2,791.6) scale(1,1.06)" x="0" y="0" style="font-family:'Liberation Serif','Times New Roman',serif;font-weight:bold;font-size:51.2px">Time (ps)</text>
<text transform="translate(1128.1,367.2) rotate(-90) scale(1,1.04)" x="0" y="0" text-anchor="middle" style="font-family:'Liberation Serif','Times New Roman',serif;font-weight:bold;font-size:51.2px">Energy (eV)</text>
<text x="1027.2" y="71.1" style="font-family:'Liberation Serif','Times New Roman',serif;font-weight:bold;font-size:68px">(b)</text>
<text transform="translate(516.2,1563.4) scale(1,1.06)" x="0" y="0" style="font-family:'Liberation Serif','Times New Roman',serif;font-weight:bold;font-size:51.2px">Time (ps)</text>
<text transform="translate(122.8,1144.0) rotate(-90) scale(1,1.04)" x="0" y="0" text-anchor="middle" style="font-family:'Liberation Serif','Times New Roman',serif;font-weight:bold;font-size:51.2px">Energy (eV)</text>
<text x="17.2" y="832.3" style="font-family:'Liberation Serif','Times New Roman',serif;font-weight:bold;font-size:68px">(c)</text>
<text transform="translate(1529.7,1561.0) scale(1,1.06)" x="0" y="0" style="font-family:'Liberation Serif','Times New Roman',serif;font-weight:bold;font-size:51.2px">Time (ps)</text>
<text transform="translate(1132.4,1131.9) rotate(-90) scale(1,1.04)" x="0" y="0" text-anchor="middle" style="font-family:'Liberation Serif','Times New Roman',serif;font-weight:bold;font-size:51.2px">Energy (eV)</text>
<text x="1031.0" y="832.3" style="font-family:'Liberation Serif','Times New Roman',serif;font-weight:bold;font-size:68px">(d)</text>
<line x1="642.5" y1="153.7" x2="708.1" y2="153.7" stroke="#ff0000" stroke-width="3.2"/>
<text x="721.0" y="164.6" style="font-family:'Liberation Serif','Times New Roman',serif;font-weight:bold;font-size:40px">ArN<tspan font-size="27" dy="10">10</tspan><tspan dy="-10"> 300 K</tspan></text>
<line x1="1668.8" y1="137.0" x2="1734.6" y2="137.0" stroke="#0000ff" stroke-width="3.2"/>
<text x="1747.0" y="147.5" style="font-family:'Liberation Serif','Times New Roman',serif;font-weight:bold;font-size:40px">ArN<tspan font-size="27" dy="10">10</tspan><tspan dy="-10"> 2000 K</tspan></text>
<line x1="683.0" y1="918.7" x2="748.6" y2="918.7" stroke="#ff0000" stroke-width="3.2"/>
<text x="762.1" y="927.8" style="font-family:'Liberation Serif','Times New Roman',serif;font-weight:bold;font-size:40px">N<tspan font-size="27" dy="10">10</tspan><tspan dy="-10"> 300 K</tspan></text>
<line x1="1707.0" y1="916.2" x2="1771.4" y2="916.2" stroke="#0000ff" stroke-width="3.2"/>
<text x="1785.4" y="927.0" style="font-family:'Liberation Serif','Times New Roman',serif;font-weight:bold;font-size:40px">N<tspan font-size="27" dy="10">10</tspan><tspan dy="-10"> 1000 K</tspan></text></svg>
</body></html>
